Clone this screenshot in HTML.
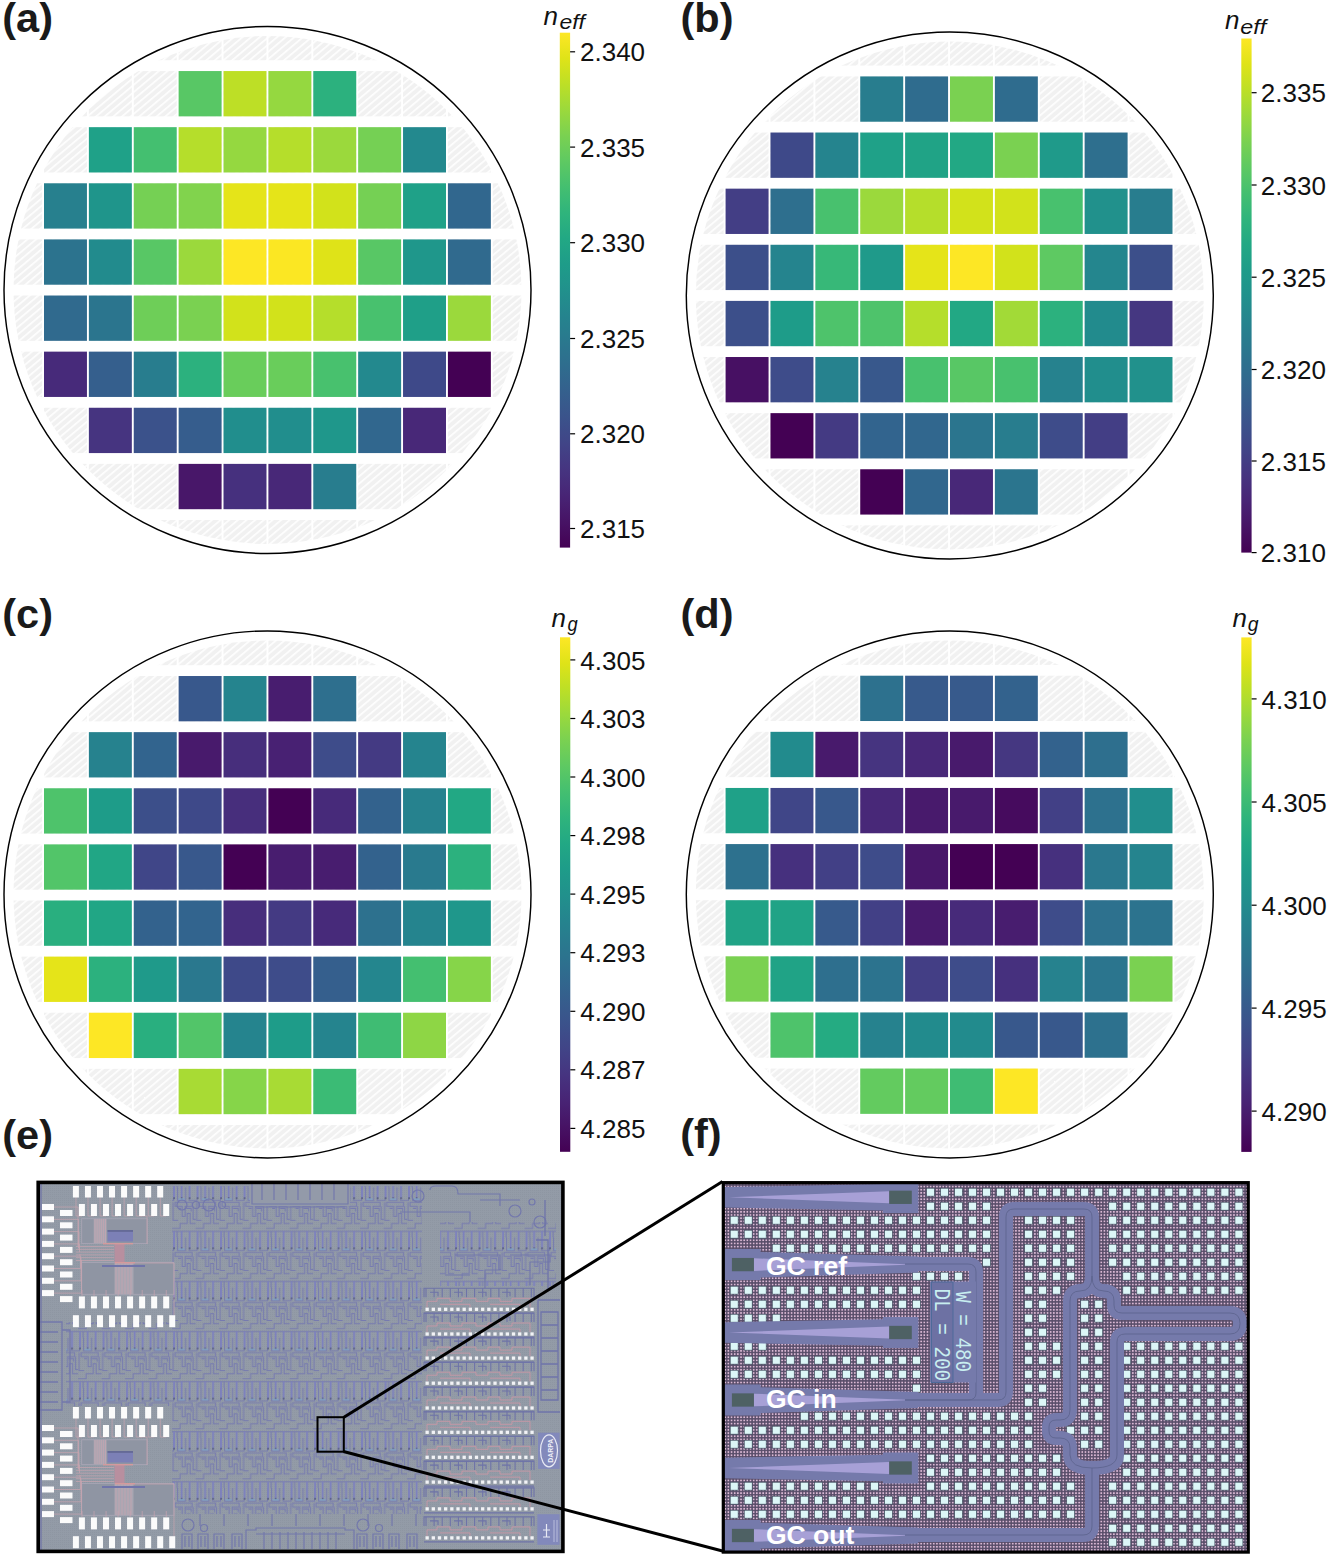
<!DOCTYPE html><html><head><meta charset="utf-8"><style>html,body{margin:0;padding:0;background:#fff;overflow:hidden}svg{display:block}text{font-family:"Liberation Sans",sans-serif}</style></head><body>
<svg width="1329" height="1557" viewBox="0 0 1329 1557">
<defs>
<pattern id="hatch" patternUnits="userSpaceOnUse" width="8" height="5.56" patternTransform="rotate(-40)"><rect width="8" height="5.56" fill="#f1f1f1"/><rect y="0" width="8" height="1.7" fill="#fefefe"/></pattern>
<linearGradient id="vgrad" x1="0" y1="0" x2="0" y2="1"><stop offset="0" stop-color="#fde725"/><stop offset="0.05" stop-color="#dfe318"/><stop offset="0.1" stop-color="#bddf26"/><stop offset="0.15" stop-color="#9bd93c"/><stop offset="0.2" stop-color="#7ad151"/><stop offset="0.25" stop-color="#5ec962"/><stop offset="0.3" stop-color="#44bf70"/><stop offset="0.35" stop-color="#2fb47c"/><stop offset="0.4" stop-color="#22a884"/><stop offset="0.45" stop-color="#1e9c89"/><stop offset="0.5" stop-color="#21918c"/><stop offset="0.55" stop-color="#25848e"/><stop offset="0.6" stop-color="#2a788e"/><stop offset="0.65" stop-color="#2f6c8e"/><stop offset="0.7" stop-color="#355f8d"/><stop offset="0.75" stop-color="#3b528b"/><stop offset="0.8" stop-color="#414487"/><stop offset="0.85" stop-color="#463480"/><stop offset="0.9" stop-color="#482475"/><stop offset="0.95" stop-color="#471365"/><stop offset="1" stop-color="#440154"/></linearGradient>
</defs>
<clipPath id="clipa"><circle cx="267.5" cy="290" r="254"/></clipPath>
<g clip-path="url(#clipa)">
<rect x="-0.88" y="14.93" width="42.95" height="45.3" fill="url(#hatch)"/>
<rect x="44" y="14.93" width="42.95" height="45.3" fill="url(#hatch)"/>
<rect x="88.88" y="14.93" width="42.95" height="45.3" fill="url(#hatch)"/>
<rect x="133.76" y="14.93" width="42.95" height="45.3" fill="url(#hatch)"/>
<rect x="178.64" y="14.93" width="42.95" height="45.3" fill="url(#hatch)"/>
<rect x="223.52" y="14.93" width="42.95" height="45.3" fill="url(#hatch)"/>
<rect x="268.4" y="14.93" width="42.95" height="45.3" fill="url(#hatch)"/>
<rect x="313.28" y="14.93" width="42.95" height="45.3" fill="url(#hatch)"/>
<rect x="358.16" y="14.93" width="42.95" height="45.3" fill="url(#hatch)"/>
<rect x="403.04" y="14.93" width="42.95" height="45.3" fill="url(#hatch)"/>
<rect x="447.92" y="14.93" width="42.95" height="45.3" fill="url(#hatch)"/>
<rect x="492.8" y="14.93" width="42.95" height="45.3" fill="url(#hatch)"/>
<rect x="-0.88" y="71.05" width="42.95" height="45.3" fill="url(#hatch)"/>
<rect x="44" y="71.05" width="42.95" height="45.3" fill="url(#hatch)"/>
<rect x="88.88" y="71.05" width="42.95" height="45.3" fill="url(#hatch)"/>
<rect x="133.76" y="71.05" width="42.95" height="45.3" fill="url(#hatch)"/>
<rect x="178.64" y="71.05" width="42.95" height="45.3" fill="url(#hatch)"/>
<rect x="223.52" y="71.05" width="42.95" height="45.3" fill="url(#hatch)"/>
<rect x="268.4" y="71.05" width="42.95" height="45.3" fill="url(#hatch)"/>
<rect x="313.28" y="71.05" width="42.95" height="45.3" fill="url(#hatch)"/>
<rect x="358.16" y="71.05" width="42.95" height="45.3" fill="url(#hatch)"/>
<rect x="403.04" y="71.05" width="42.95" height="45.3" fill="url(#hatch)"/>
<rect x="447.92" y="71.05" width="42.95" height="45.3" fill="url(#hatch)"/>
<rect x="492.8" y="71.05" width="42.95" height="45.3" fill="url(#hatch)"/>
<rect x="-0.88" y="127.17" width="42.95" height="45.3" fill="url(#hatch)"/>
<rect x="44" y="127.17" width="42.95" height="45.3" fill="url(#hatch)"/>
<rect x="88.88" y="127.17" width="42.95" height="45.3" fill="url(#hatch)"/>
<rect x="133.76" y="127.17" width="42.95" height="45.3" fill="url(#hatch)"/>
<rect x="178.64" y="127.17" width="42.95" height="45.3" fill="url(#hatch)"/>
<rect x="223.52" y="127.17" width="42.95" height="45.3" fill="url(#hatch)"/>
<rect x="268.4" y="127.17" width="42.95" height="45.3" fill="url(#hatch)"/>
<rect x="313.28" y="127.17" width="42.95" height="45.3" fill="url(#hatch)"/>
<rect x="358.16" y="127.17" width="42.95" height="45.3" fill="url(#hatch)"/>
<rect x="403.04" y="127.17" width="42.95" height="45.3" fill="url(#hatch)"/>
<rect x="447.92" y="127.17" width="42.95" height="45.3" fill="url(#hatch)"/>
<rect x="492.8" y="127.17" width="42.95" height="45.3" fill="url(#hatch)"/>
<rect x="-0.88" y="183.29" width="42.95" height="45.3" fill="url(#hatch)"/>
<rect x="44" y="183.29" width="42.95" height="45.3" fill="url(#hatch)"/>
<rect x="88.88" y="183.29" width="42.95" height="45.3" fill="url(#hatch)"/>
<rect x="133.76" y="183.29" width="42.95" height="45.3" fill="url(#hatch)"/>
<rect x="178.64" y="183.29" width="42.95" height="45.3" fill="url(#hatch)"/>
<rect x="223.52" y="183.29" width="42.95" height="45.3" fill="url(#hatch)"/>
<rect x="268.4" y="183.29" width="42.95" height="45.3" fill="url(#hatch)"/>
<rect x="313.28" y="183.29" width="42.95" height="45.3" fill="url(#hatch)"/>
<rect x="358.16" y="183.29" width="42.95" height="45.3" fill="url(#hatch)"/>
<rect x="403.04" y="183.29" width="42.95" height="45.3" fill="url(#hatch)"/>
<rect x="447.92" y="183.29" width="42.95" height="45.3" fill="url(#hatch)"/>
<rect x="492.8" y="183.29" width="42.95" height="45.3" fill="url(#hatch)"/>
<rect x="-0.88" y="239.41" width="42.95" height="45.3" fill="url(#hatch)"/>
<rect x="44" y="239.41" width="42.95" height="45.3" fill="url(#hatch)"/>
<rect x="88.88" y="239.41" width="42.95" height="45.3" fill="url(#hatch)"/>
<rect x="133.76" y="239.41" width="42.95" height="45.3" fill="url(#hatch)"/>
<rect x="178.64" y="239.41" width="42.95" height="45.3" fill="url(#hatch)"/>
<rect x="223.52" y="239.41" width="42.95" height="45.3" fill="url(#hatch)"/>
<rect x="268.4" y="239.41" width="42.95" height="45.3" fill="url(#hatch)"/>
<rect x="313.28" y="239.41" width="42.95" height="45.3" fill="url(#hatch)"/>
<rect x="358.16" y="239.41" width="42.95" height="45.3" fill="url(#hatch)"/>
<rect x="403.04" y="239.41" width="42.95" height="45.3" fill="url(#hatch)"/>
<rect x="447.92" y="239.41" width="42.95" height="45.3" fill="url(#hatch)"/>
<rect x="492.8" y="239.41" width="42.95" height="45.3" fill="url(#hatch)"/>
<rect x="-0.88" y="295.53" width="42.95" height="45.3" fill="url(#hatch)"/>
<rect x="44" y="295.53" width="42.95" height="45.3" fill="url(#hatch)"/>
<rect x="88.88" y="295.53" width="42.95" height="45.3" fill="url(#hatch)"/>
<rect x="133.76" y="295.53" width="42.95" height="45.3" fill="url(#hatch)"/>
<rect x="178.64" y="295.53" width="42.95" height="45.3" fill="url(#hatch)"/>
<rect x="223.52" y="295.53" width="42.95" height="45.3" fill="url(#hatch)"/>
<rect x="268.4" y="295.53" width="42.95" height="45.3" fill="url(#hatch)"/>
<rect x="313.28" y="295.53" width="42.95" height="45.3" fill="url(#hatch)"/>
<rect x="358.16" y="295.53" width="42.95" height="45.3" fill="url(#hatch)"/>
<rect x="403.04" y="295.53" width="42.95" height="45.3" fill="url(#hatch)"/>
<rect x="447.92" y="295.53" width="42.95" height="45.3" fill="url(#hatch)"/>
<rect x="492.8" y="295.53" width="42.95" height="45.3" fill="url(#hatch)"/>
<rect x="-0.88" y="351.65" width="42.95" height="45.3" fill="url(#hatch)"/>
<rect x="44" y="351.65" width="42.95" height="45.3" fill="url(#hatch)"/>
<rect x="88.88" y="351.65" width="42.95" height="45.3" fill="url(#hatch)"/>
<rect x="133.76" y="351.65" width="42.95" height="45.3" fill="url(#hatch)"/>
<rect x="178.64" y="351.65" width="42.95" height="45.3" fill="url(#hatch)"/>
<rect x="223.52" y="351.65" width="42.95" height="45.3" fill="url(#hatch)"/>
<rect x="268.4" y="351.65" width="42.95" height="45.3" fill="url(#hatch)"/>
<rect x="313.28" y="351.65" width="42.95" height="45.3" fill="url(#hatch)"/>
<rect x="358.16" y="351.65" width="42.95" height="45.3" fill="url(#hatch)"/>
<rect x="403.04" y="351.65" width="42.95" height="45.3" fill="url(#hatch)"/>
<rect x="447.92" y="351.65" width="42.95" height="45.3" fill="url(#hatch)"/>
<rect x="492.8" y="351.65" width="42.95" height="45.3" fill="url(#hatch)"/>
<rect x="-0.88" y="407.77" width="42.95" height="45.3" fill="url(#hatch)"/>
<rect x="44" y="407.77" width="42.95" height="45.3" fill="url(#hatch)"/>
<rect x="88.88" y="407.77" width="42.95" height="45.3" fill="url(#hatch)"/>
<rect x="133.76" y="407.77" width="42.95" height="45.3" fill="url(#hatch)"/>
<rect x="178.64" y="407.77" width="42.95" height="45.3" fill="url(#hatch)"/>
<rect x="223.52" y="407.77" width="42.95" height="45.3" fill="url(#hatch)"/>
<rect x="268.4" y="407.77" width="42.95" height="45.3" fill="url(#hatch)"/>
<rect x="313.28" y="407.77" width="42.95" height="45.3" fill="url(#hatch)"/>
<rect x="358.16" y="407.77" width="42.95" height="45.3" fill="url(#hatch)"/>
<rect x="403.04" y="407.77" width="42.95" height="45.3" fill="url(#hatch)"/>
<rect x="447.92" y="407.77" width="42.95" height="45.3" fill="url(#hatch)"/>
<rect x="492.8" y="407.77" width="42.95" height="45.3" fill="url(#hatch)"/>
<rect x="-0.88" y="463.89" width="42.95" height="45.3" fill="url(#hatch)"/>
<rect x="44" y="463.89" width="42.95" height="45.3" fill="url(#hatch)"/>
<rect x="88.88" y="463.89" width="42.95" height="45.3" fill="url(#hatch)"/>
<rect x="133.76" y="463.89" width="42.95" height="45.3" fill="url(#hatch)"/>
<rect x="178.64" y="463.89" width="42.95" height="45.3" fill="url(#hatch)"/>
<rect x="223.52" y="463.89" width="42.95" height="45.3" fill="url(#hatch)"/>
<rect x="268.4" y="463.89" width="42.95" height="45.3" fill="url(#hatch)"/>
<rect x="313.28" y="463.89" width="42.95" height="45.3" fill="url(#hatch)"/>
<rect x="358.16" y="463.89" width="42.95" height="45.3" fill="url(#hatch)"/>
<rect x="403.04" y="463.89" width="42.95" height="45.3" fill="url(#hatch)"/>
<rect x="447.92" y="463.89" width="42.95" height="45.3" fill="url(#hatch)"/>
<rect x="492.8" y="463.89" width="42.95" height="45.3" fill="url(#hatch)"/>
<rect x="-0.88" y="520.01" width="42.95" height="45.3" fill="url(#hatch)"/>
<rect x="44" y="520.01" width="42.95" height="45.3" fill="url(#hatch)"/>
<rect x="88.88" y="520.01" width="42.95" height="45.3" fill="url(#hatch)"/>
<rect x="133.76" y="520.01" width="42.95" height="45.3" fill="url(#hatch)"/>
<rect x="178.64" y="520.01" width="42.95" height="45.3" fill="url(#hatch)"/>
<rect x="223.52" y="520.01" width="42.95" height="45.3" fill="url(#hatch)"/>
<rect x="268.4" y="520.01" width="42.95" height="45.3" fill="url(#hatch)"/>
<rect x="313.28" y="520.01" width="42.95" height="45.3" fill="url(#hatch)"/>
<rect x="358.16" y="520.01" width="42.95" height="45.3" fill="url(#hatch)"/>
<rect x="403.04" y="520.01" width="42.95" height="45.3" fill="url(#hatch)"/>
<rect x="447.92" y="520.01" width="42.95" height="45.3" fill="url(#hatch)"/>
<rect x="492.8" y="520.01" width="42.95" height="45.3" fill="url(#hatch)"/>
</g>
<rect x="178.64" y="71.05" width="42.95" height="45.3" fill="#58c765"/>
<rect x="223.52" y="71.05" width="42.95" height="45.3" fill="#bddf26"/>
<rect x="268.4" y="71.05" width="42.95" height="45.3" fill="#95d840"/>
<rect x="313.28" y="71.05" width="42.95" height="45.3" fill="#2cb17e"/>
<rect x="88.88" y="127.17" width="42.95" height="45.3" fill="#1fa188"/>
<rect x="133.76" y="127.17" width="42.95" height="45.3" fill="#44bf70"/>
<rect x="178.64" y="127.17" width="42.95" height="45.3" fill="#b5de2b"/>
<rect x="223.52" y="127.17" width="42.95" height="45.3" fill="#95d840"/>
<rect x="268.4" y="127.17" width="42.95" height="45.3" fill="#b5de2b"/>
<rect x="313.28" y="127.17" width="42.95" height="45.3" fill="#9bd93c"/>
<rect x="358.16" y="127.17" width="42.95" height="45.3" fill="#75d054"/>
<rect x="403.04" y="127.17" width="42.95" height="45.3" fill="#23898e"/>
<rect x="44" y="183.29" width="42.95" height="45.3" fill="#27808e"/>
<rect x="88.88" y="183.29" width="42.95" height="45.3" fill="#1f958b"/>
<rect x="133.76" y="183.29" width="42.95" height="45.3" fill="#75d054"/>
<rect x="178.64" y="183.29" width="42.95" height="45.3" fill="#81d34d"/>
<rect x="223.52" y="183.29" width="42.95" height="45.3" fill="#e5e419"/>
<rect x="268.4" y="183.29" width="42.95" height="45.3" fill="#e5e419"/>
<rect x="313.28" y="183.29" width="42.95" height="45.3" fill="#d2e21b"/>
<rect x="358.16" y="183.29" width="42.95" height="45.3" fill="#75d054"/>
<rect x="403.04" y="183.29" width="42.95" height="45.3" fill="#1fa188"/>
<rect x="447.92" y="183.29" width="42.95" height="45.3" fill="#31678e"/>
<rect x="44" y="239.41" width="42.95" height="45.3" fill="#2c738e"/>
<rect x="88.88" y="239.41" width="42.95" height="45.3" fill="#228b8d"/>
<rect x="133.76" y="239.41" width="42.95" height="45.3" fill="#58c765"/>
<rect x="178.64" y="239.41" width="42.95" height="45.3" fill="#9bd93c"/>
<rect x="223.52" y="239.41" width="42.95" height="45.3" fill="#fde725"/>
<rect x="268.4" y="239.41" width="42.95" height="45.3" fill="#fbe723"/>
<rect x="313.28" y="239.41" width="42.95" height="45.3" fill="#dfe318"/>
<rect x="358.16" y="239.41" width="42.95" height="45.3" fill="#58c765"/>
<rect x="403.04" y="239.41" width="42.95" height="45.3" fill="#1f978b"/>
<rect x="447.92" y="239.41" width="42.95" height="45.3" fill="#306a8e"/>
<rect x="44" y="295.53" width="42.95" height="45.3" fill="#306a8e"/>
<rect x="88.88" y="295.53" width="42.95" height="45.3" fill="#2b758e"/>
<rect x="133.76" y="295.53" width="42.95" height="45.3" fill="#6ece58"/>
<rect x="178.64" y="295.53" width="42.95" height="45.3" fill="#7ad151"/>
<rect x="223.52" y="295.53" width="42.95" height="45.3" fill="#d2e21b"/>
<rect x="268.4" y="295.53" width="42.95" height="45.3" fill="#d2e21b"/>
<rect x="313.28" y="295.53" width="42.95" height="45.3" fill="#b5de2b"/>
<rect x="358.16" y="295.53" width="42.95" height="45.3" fill="#48c16e"/>
<rect x="403.04" y="295.53" width="42.95" height="45.3" fill="#1f9f88"/>
<rect x="447.92" y="295.53" width="42.95" height="45.3" fill="#9bd93c"/>
<rect x="44" y="351.65" width="42.95" height="45.3" fill="#472a7a"/>
<rect x="88.88" y="351.65" width="42.95" height="45.3" fill="#355f8d"/>
<rect x="133.76" y="351.65" width="42.95" height="45.3" fill="#287d8e"/>
<rect x="178.64" y="351.65" width="42.95" height="45.3" fill="#2cb17e"/>
<rect x="223.52" y="351.65" width="42.95" height="45.3" fill="#69cd5b"/>
<rect x="268.4" y="351.65" width="42.95" height="45.3" fill="#69cd5b"/>
<rect x="313.28" y="351.65" width="42.95" height="45.3" fill="#48c16e"/>
<rect x="358.16" y="351.65" width="42.95" height="45.3" fill="#23898e"/>
<rect x="403.04" y="351.65" width="42.95" height="45.3" fill="#3e4989"/>
<rect x="447.92" y="351.65" width="42.95" height="45.3" fill="#440154"/>
<rect x="88.88" y="407.77" width="42.95" height="45.3" fill="#463480"/>
<rect x="133.76" y="407.77" width="42.95" height="45.3" fill="#3b528b"/>
<rect x="178.64" y="407.77" width="42.95" height="45.3" fill="#365d8d"/>
<rect x="223.52" y="407.77" width="42.95" height="45.3" fill="#218e8d"/>
<rect x="268.4" y="407.77" width="42.95" height="45.3" fill="#218e8d"/>
<rect x="313.28" y="407.77" width="42.95" height="45.3" fill="#1f978b"/>
<rect x="358.16" y="407.77" width="42.95" height="45.3" fill="#31678e"/>
<rect x="403.04" y="407.77" width="42.95" height="45.3" fill="#482878"/>
<rect x="178.64" y="463.89" width="42.95" height="45.3" fill="#481769"/>
<rect x="223.52" y="463.89" width="42.95" height="45.3" fill="#46307e"/>
<rect x="268.4" y="463.89" width="42.95" height="45.3" fill="#482878"/>
<rect x="313.28" y="463.89" width="42.95" height="45.3" fill="#287d8e"/>
<circle cx="267.5" cy="290" r="263.5" fill="none" stroke="#000" stroke-width="1.45"/>
<clipPath id="clipb"><circle cx="949.8" cy="295.5" r="254"/></clipPath>
<g clip-path="url(#clipb)">
<rect x="680.72" y="20.3" width="42.95" height="45.3" fill="url(#hatch)"/>
<rect x="725.6" y="20.3" width="42.95" height="45.3" fill="url(#hatch)"/>
<rect x="770.48" y="20.3" width="42.95" height="45.3" fill="url(#hatch)"/>
<rect x="815.36" y="20.3" width="42.95" height="45.3" fill="url(#hatch)"/>
<rect x="860.24" y="20.3" width="42.95" height="45.3" fill="url(#hatch)"/>
<rect x="905.12" y="20.3" width="42.95" height="45.3" fill="url(#hatch)"/>
<rect x="950" y="20.3" width="42.95" height="45.3" fill="url(#hatch)"/>
<rect x="994.88" y="20.3" width="42.95" height="45.3" fill="url(#hatch)"/>
<rect x="1039.76" y="20.3" width="42.95" height="45.3" fill="url(#hatch)"/>
<rect x="1084.64" y="20.3" width="42.95" height="45.3" fill="url(#hatch)"/>
<rect x="1129.52" y="20.3" width="42.95" height="45.3" fill="url(#hatch)"/>
<rect x="1174.4" y="20.3" width="42.95" height="45.3" fill="url(#hatch)"/>
<rect x="680.72" y="76.42" width="42.95" height="45.3" fill="url(#hatch)"/>
<rect x="725.6" y="76.42" width="42.95" height="45.3" fill="url(#hatch)"/>
<rect x="770.48" y="76.42" width="42.95" height="45.3" fill="url(#hatch)"/>
<rect x="815.36" y="76.42" width="42.95" height="45.3" fill="url(#hatch)"/>
<rect x="860.24" y="76.42" width="42.95" height="45.3" fill="url(#hatch)"/>
<rect x="905.12" y="76.42" width="42.95" height="45.3" fill="url(#hatch)"/>
<rect x="950" y="76.42" width="42.95" height="45.3" fill="url(#hatch)"/>
<rect x="994.88" y="76.42" width="42.95" height="45.3" fill="url(#hatch)"/>
<rect x="1039.76" y="76.42" width="42.95" height="45.3" fill="url(#hatch)"/>
<rect x="1084.64" y="76.42" width="42.95" height="45.3" fill="url(#hatch)"/>
<rect x="1129.52" y="76.42" width="42.95" height="45.3" fill="url(#hatch)"/>
<rect x="1174.4" y="76.42" width="42.95" height="45.3" fill="url(#hatch)"/>
<rect x="680.72" y="132.54" width="42.95" height="45.3" fill="url(#hatch)"/>
<rect x="725.6" y="132.54" width="42.95" height="45.3" fill="url(#hatch)"/>
<rect x="770.48" y="132.54" width="42.95" height="45.3" fill="url(#hatch)"/>
<rect x="815.36" y="132.54" width="42.95" height="45.3" fill="url(#hatch)"/>
<rect x="860.24" y="132.54" width="42.95" height="45.3" fill="url(#hatch)"/>
<rect x="905.12" y="132.54" width="42.95" height="45.3" fill="url(#hatch)"/>
<rect x="950" y="132.54" width="42.95" height="45.3" fill="url(#hatch)"/>
<rect x="994.88" y="132.54" width="42.95" height="45.3" fill="url(#hatch)"/>
<rect x="1039.76" y="132.54" width="42.95" height="45.3" fill="url(#hatch)"/>
<rect x="1084.64" y="132.54" width="42.95" height="45.3" fill="url(#hatch)"/>
<rect x="1129.52" y="132.54" width="42.95" height="45.3" fill="url(#hatch)"/>
<rect x="1174.4" y="132.54" width="42.95" height="45.3" fill="url(#hatch)"/>
<rect x="680.72" y="188.66" width="42.95" height="45.3" fill="url(#hatch)"/>
<rect x="725.6" y="188.66" width="42.95" height="45.3" fill="url(#hatch)"/>
<rect x="770.48" y="188.66" width="42.95" height="45.3" fill="url(#hatch)"/>
<rect x="815.36" y="188.66" width="42.95" height="45.3" fill="url(#hatch)"/>
<rect x="860.24" y="188.66" width="42.95" height="45.3" fill="url(#hatch)"/>
<rect x="905.12" y="188.66" width="42.95" height="45.3" fill="url(#hatch)"/>
<rect x="950" y="188.66" width="42.95" height="45.3" fill="url(#hatch)"/>
<rect x="994.88" y="188.66" width="42.95" height="45.3" fill="url(#hatch)"/>
<rect x="1039.76" y="188.66" width="42.95" height="45.3" fill="url(#hatch)"/>
<rect x="1084.64" y="188.66" width="42.95" height="45.3" fill="url(#hatch)"/>
<rect x="1129.52" y="188.66" width="42.95" height="45.3" fill="url(#hatch)"/>
<rect x="1174.4" y="188.66" width="42.95" height="45.3" fill="url(#hatch)"/>
<rect x="680.72" y="244.78" width="42.95" height="45.3" fill="url(#hatch)"/>
<rect x="725.6" y="244.78" width="42.95" height="45.3" fill="url(#hatch)"/>
<rect x="770.48" y="244.78" width="42.95" height="45.3" fill="url(#hatch)"/>
<rect x="815.36" y="244.78" width="42.95" height="45.3" fill="url(#hatch)"/>
<rect x="860.24" y="244.78" width="42.95" height="45.3" fill="url(#hatch)"/>
<rect x="905.12" y="244.78" width="42.95" height="45.3" fill="url(#hatch)"/>
<rect x="950" y="244.78" width="42.95" height="45.3" fill="url(#hatch)"/>
<rect x="994.88" y="244.78" width="42.95" height="45.3" fill="url(#hatch)"/>
<rect x="1039.76" y="244.78" width="42.95" height="45.3" fill="url(#hatch)"/>
<rect x="1084.64" y="244.78" width="42.95" height="45.3" fill="url(#hatch)"/>
<rect x="1129.52" y="244.78" width="42.95" height="45.3" fill="url(#hatch)"/>
<rect x="1174.4" y="244.78" width="42.95" height="45.3" fill="url(#hatch)"/>
<rect x="680.72" y="300.9" width="42.95" height="45.3" fill="url(#hatch)"/>
<rect x="725.6" y="300.9" width="42.95" height="45.3" fill="url(#hatch)"/>
<rect x="770.48" y="300.9" width="42.95" height="45.3" fill="url(#hatch)"/>
<rect x="815.36" y="300.9" width="42.95" height="45.3" fill="url(#hatch)"/>
<rect x="860.24" y="300.9" width="42.95" height="45.3" fill="url(#hatch)"/>
<rect x="905.12" y="300.9" width="42.95" height="45.3" fill="url(#hatch)"/>
<rect x="950" y="300.9" width="42.95" height="45.3" fill="url(#hatch)"/>
<rect x="994.88" y="300.9" width="42.95" height="45.3" fill="url(#hatch)"/>
<rect x="1039.76" y="300.9" width="42.95" height="45.3" fill="url(#hatch)"/>
<rect x="1084.64" y="300.9" width="42.95" height="45.3" fill="url(#hatch)"/>
<rect x="1129.52" y="300.9" width="42.95" height="45.3" fill="url(#hatch)"/>
<rect x="1174.4" y="300.9" width="42.95" height="45.3" fill="url(#hatch)"/>
<rect x="680.72" y="357.02" width="42.95" height="45.3" fill="url(#hatch)"/>
<rect x="725.6" y="357.02" width="42.95" height="45.3" fill="url(#hatch)"/>
<rect x="770.48" y="357.02" width="42.95" height="45.3" fill="url(#hatch)"/>
<rect x="815.36" y="357.02" width="42.95" height="45.3" fill="url(#hatch)"/>
<rect x="860.24" y="357.02" width="42.95" height="45.3" fill="url(#hatch)"/>
<rect x="905.12" y="357.02" width="42.95" height="45.3" fill="url(#hatch)"/>
<rect x="950" y="357.02" width="42.95" height="45.3" fill="url(#hatch)"/>
<rect x="994.88" y="357.02" width="42.95" height="45.3" fill="url(#hatch)"/>
<rect x="1039.76" y="357.02" width="42.95" height="45.3" fill="url(#hatch)"/>
<rect x="1084.64" y="357.02" width="42.95" height="45.3" fill="url(#hatch)"/>
<rect x="1129.52" y="357.02" width="42.95" height="45.3" fill="url(#hatch)"/>
<rect x="1174.4" y="357.02" width="42.95" height="45.3" fill="url(#hatch)"/>
<rect x="680.72" y="413.14" width="42.95" height="45.3" fill="url(#hatch)"/>
<rect x="725.6" y="413.14" width="42.95" height="45.3" fill="url(#hatch)"/>
<rect x="770.48" y="413.14" width="42.95" height="45.3" fill="url(#hatch)"/>
<rect x="815.36" y="413.14" width="42.95" height="45.3" fill="url(#hatch)"/>
<rect x="860.24" y="413.14" width="42.95" height="45.3" fill="url(#hatch)"/>
<rect x="905.12" y="413.14" width="42.95" height="45.3" fill="url(#hatch)"/>
<rect x="950" y="413.14" width="42.95" height="45.3" fill="url(#hatch)"/>
<rect x="994.88" y="413.14" width="42.95" height="45.3" fill="url(#hatch)"/>
<rect x="1039.76" y="413.14" width="42.95" height="45.3" fill="url(#hatch)"/>
<rect x="1084.64" y="413.14" width="42.95" height="45.3" fill="url(#hatch)"/>
<rect x="1129.52" y="413.14" width="42.95" height="45.3" fill="url(#hatch)"/>
<rect x="1174.4" y="413.14" width="42.95" height="45.3" fill="url(#hatch)"/>
<rect x="680.72" y="469.26" width="42.95" height="45.3" fill="url(#hatch)"/>
<rect x="725.6" y="469.26" width="42.95" height="45.3" fill="url(#hatch)"/>
<rect x="770.48" y="469.26" width="42.95" height="45.3" fill="url(#hatch)"/>
<rect x="815.36" y="469.26" width="42.95" height="45.3" fill="url(#hatch)"/>
<rect x="860.24" y="469.26" width="42.95" height="45.3" fill="url(#hatch)"/>
<rect x="905.12" y="469.26" width="42.95" height="45.3" fill="url(#hatch)"/>
<rect x="950" y="469.26" width="42.95" height="45.3" fill="url(#hatch)"/>
<rect x="994.88" y="469.26" width="42.95" height="45.3" fill="url(#hatch)"/>
<rect x="1039.76" y="469.26" width="42.95" height="45.3" fill="url(#hatch)"/>
<rect x="1084.64" y="469.26" width="42.95" height="45.3" fill="url(#hatch)"/>
<rect x="1129.52" y="469.26" width="42.95" height="45.3" fill="url(#hatch)"/>
<rect x="1174.4" y="469.26" width="42.95" height="45.3" fill="url(#hatch)"/>
<rect x="680.72" y="525.38" width="42.95" height="45.3" fill="url(#hatch)"/>
<rect x="725.6" y="525.38" width="42.95" height="45.3" fill="url(#hatch)"/>
<rect x="770.48" y="525.38" width="42.95" height="45.3" fill="url(#hatch)"/>
<rect x="815.36" y="525.38" width="42.95" height="45.3" fill="url(#hatch)"/>
<rect x="860.24" y="525.38" width="42.95" height="45.3" fill="url(#hatch)"/>
<rect x="905.12" y="525.38" width="42.95" height="45.3" fill="url(#hatch)"/>
<rect x="950" y="525.38" width="42.95" height="45.3" fill="url(#hatch)"/>
<rect x="994.88" y="525.38" width="42.95" height="45.3" fill="url(#hatch)"/>
<rect x="1039.76" y="525.38" width="42.95" height="45.3" fill="url(#hatch)"/>
<rect x="1084.64" y="525.38" width="42.95" height="45.3" fill="url(#hatch)"/>
<rect x="1129.52" y="525.38" width="42.95" height="45.3" fill="url(#hatch)"/>
<rect x="1174.4" y="525.38" width="42.95" height="45.3" fill="url(#hatch)"/>
</g>
<rect x="860.24" y="76.42" width="42.95" height="45.3" fill="#287d8e"/>
<rect x="905.12" y="76.42" width="42.95" height="45.3" fill="#2f6c8e"/>
<rect x="950" y="76.42" width="42.95" height="45.3" fill="#7ad151"/>
<rect x="994.88" y="76.42" width="42.95" height="45.3" fill="#2f6c8e"/>
<rect x="770.48" y="132.54" width="42.95" height="45.3" fill="#3e4989"/>
<rect x="815.36" y="132.54" width="42.95" height="45.3" fill="#25848e"/>
<rect x="860.24" y="132.54" width="42.95" height="45.3" fill="#1fa188"/>
<rect x="905.12" y="132.54" width="42.95" height="45.3" fill="#20a386"/>
<rect x="950" y="132.54" width="42.95" height="45.3" fill="#22a884"/>
<rect x="994.88" y="132.54" width="42.95" height="45.3" fill="#7ad151"/>
<rect x="1039.76" y="132.54" width="42.95" height="45.3" fill="#1f9a8a"/>
<rect x="1084.64" y="132.54" width="42.95" height="45.3" fill="#2e6f8e"/>
<rect x="725.6" y="188.66" width="42.95" height="45.3" fill="#433e85"/>
<rect x="770.48" y="188.66" width="42.95" height="45.3" fill="#2e6f8e"/>
<rect x="815.36" y="188.66" width="42.95" height="45.3" fill="#48c16e"/>
<rect x="860.24" y="188.66" width="42.95" height="45.3" fill="#9bd93c"/>
<rect x="905.12" y="188.66" width="42.95" height="45.3" fill="#b5de2b"/>
<rect x="950" y="188.66" width="42.95" height="45.3" fill="#d2e21b"/>
<rect x="994.88" y="188.66" width="42.95" height="45.3" fill="#d2e21b"/>
<rect x="1039.76" y="188.66" width="42.95" height="45.3" fill="#48c16e"/>
<rect x="1084.64" y="188.66" width="42.95" height="45.3" fill="#21918c"/>
<rect x="1129.52" y="188.66" width="42.95" height="45.3" fill="#287d8e"/>
<rect x="725.6" y="244.78" width="42.95" height="45.3" fill="#3c4f8a"/>
<rect x="770.48" y="244.78" width="42.95" height="45.3" fill="#25848e"/>
<rect x="815.36" y="244.78" width="42.95" height="45.3" fill="#37b878"/>
<rect x="860.24" y="244.78" width="42.95" height="45.3" fill="#1f9a8a"/>
<rect x="905.12" y="244.78" width="42.95" height="45.3" fill="#e5e419"/>
<rect x="950" y="244.78" width="42.95" height="45.3" fill="#fde725"/>
<rect x="994.88" y="244.78" width="42.95" height="45.3" fill="#d2e21b"/>
<rect x="1039.76" y="244.78" width="42.95" height="45.3" fill="#5ec962"/>
<rect x="1084.64" y="244.78" width="42.95" height="45.3" fill="#24868e"/>
<rect x="1129.52" y="244.78" width="42.95" height="45.3" fill="#3c4f8a"/>
<rect x="725.6" y="300.9" width="42.95" height="45.3" fill="#3c4f8a"/>
<rect x="770.48" y="300.9" width="42.95" height="45.3" fill="#1e9c89"/>
<rect x="815.36" y="300.9" width="42.95" height="45.3" fill="#4ec36b"/>
<rect x="860.24" y="300.9" width="42.95" height="45.3" fill="#4ec36b"/>
<rect x="905.12" y="300.9" width="42.95" height="45.3" fill="#b5de2b"/>
<rect x="950" y="300.9" width="42.95" height="45.3" fill="#22a884"/>
<rect x="994.88" y="300.9" width="42.95" height="45.3" fill="#a2da37"/>
<rect x="1039.76" y="300.9" width="42.95" height="45.3" fill="#2cb17e"/>
<rect x="1084.64" y="300.9" width="42.95" height="45.3" fill="#228b8d"/>
<rect x="1129.52" y="300.9" width="42.95" height="45.3" fill="#453781"/>
<rect x="725.6" y="357.02" width="42.95" height="45.3" fill="#471063"/>
<rect x="770.48" y="357.02" width="42.95" height="45.3" fill="#3e4c8a"/>
<rect x="815.36" y="357.02" width="42.95" height="45.3" fill="#26828e"/>
<rect x="860.24" y="357.02" width="42.95" height="45.3" fill="#38588c"/>
<rect x="905.12" y="357.02" width="42.95" height="45.3" fill="#48c16e"/>
<rect x="950" y="357.02" width="42.95" height="45.3" fill="#58c765"/>
<rect x="994.88" y="357.02" width="42.95" height="45.3" fill="#48c16e"/>
<rect x="1039.76" y="357.02" width="42.95" height="45.3" fill="#26828e"/>
<rect x="1084.64" y="357.02" width="42.95" height="45.3" fill="#218e8d"/>
<rect x="1129.52" y="357.02" width="42.95" height="45.3" fill="#21918c"/>
<rect x="770.48" y="413.14" width="42.95" height="45.3" fill="#440154"/>
<rect x="815.36" y="413.14" width="42.95" height="45.3" fill="#443a83"/>
<rect x="860.24" y="413.14" width="42.95" height="45.3" fill="#32648e"/>
<rect x="905.12" y="413.14" width="42.95" height="45.3" fill="#31678e"/>
<rect x="950" y="413.14" width="42.95" height="45.3" fill="#2b758e"/>
<rect x="994.88" y="413.14" width="42.95" height="45.3" fill="#287d8e"/>
<rect x="1039.76" y="413.14" width="42.95" height="45.3" fill="#3e4c8a"/>
<rect x="1084.64" y="413.14" width="42.95" height="45.3" fill="#433e85"/>
<rect x="860.24" y="469.26" width="42.95" height="45.3" fill="#440154"/>
<rect x="905.12" y="469.26" width="42.95" height="45.3" fill="#31678e"/>
<rect x="950" y="469.26" width="42.95" height="45.3" fill="#482878"/>
<rect x="994.88" y="469.26" width="42.95" height="45.3" fill="#2b758e"/>
<circle cx="949.8" cy="295.5" r="263.5" fill="none" stroke="#000" stroke-width="1.45"/>
<clipPath id="clipc"><circle cx="267.5" cy="894.4" r="254"/></clipPath>
<g clip-path="url(#clipc)">
<rect x="-0.88" y="619.9" width="42.95" height="45.3" fill="url(#hatch)"/>
<rect x="44" y="619.9" width="42.95" height="45.3" fill="url(#hatch)"/>
<rect x="88.88" y="619.9" width="42.95" height="45.3" fill="url(#hatch)"/>
<rect x="133.76" y="619.9" width="42.95" height="45.3" fill="url(#hatch)"/>
<rect x="178.64" y="619.9" width="42.95" height="45.3" fill="url(#hatch)"/>
<rect x="223.52" y="619.9" width="42.95" height="45.3" fill="url(#hatch)"/>
<rect x="268.4" y="619.9" width="42.95" height="45.3" fill="url(#hatch)"/>
<rect x="313.28" y="619.9" width="42.95" height="45.3" fill="url(#hatch)"/>
<rect x="358.16" y="619.9" width="42.95" height="45.3" fill="url(#hatch)"/>
<rect x="403.04" y="619.9" width="42.95" height="45.3" fill="url(#hatch)"/>
<rect x="447.92" y="619.9" width="42.95" height="45.3" fill="url(#hatch)"/>
<rect x="492.8" y="619.9" width="42.95" height="45.3" fill="url(#hatch)"/>
<rect x="-0.88" y="676.02" width="42.95" height="45.3" fill="url(#hatch)"/>
<rect x="44" y="676.02" width="42.95" height="45.3" fill="url(#hatch)"/>
<rect x="88.88" y="676.02" width="42.95" height="45.3" fill="url(#hatch)"/>
<rect x="133.76" y="676.02" width="42.95" height="45.3" fill="url(#hatch)"/>
<rect x="178.64" y="676.02" width="42.95" height="45.3" fill="url(#hatch)"/>
<rect x="223.52" y="676.02" width="42.95" height="45.3" fill="url(#hatch)"/>
<rect x="268.4" y="676.02" width="42.95" height="45.3" fill="url(#hatch)"/>
<rect x="313.28" y="676.02" width="42.95" height="45.3" fill="url(#hatch)"/>
<rect x="358.16" y="676.02" width="42.95" height="45.3" fill="url(#hatch)"/>
<rect x="403.04" y="676.02" width="42.95" height="45.3" fill="url(#hatch)"/>
<rect x="447.92" y="676.02" width="42.95" height="45.3" fill="url(#hatch)"/>
<rect x="492.8" y="676.02" width="42.95" height="45.3" fill="url(#hatch)"/>
<rect x="-0.88" y="732.14" width="42.95" height="45.3" fill="url(#hatch)"/>
<rect x="44" y="732.14" width="42.95" height="45.3" fill="url(#hatch)"/>
<rect x="88.88" y="732.14" width="42.95" height="45.3" fill="url(#hatch)"/>
<rect x="133.76" y="732.14" width="42.95" height="45.3" fill="url(#hatch)"/>
<rect x="178.64" y="732.14" width="42.95" height="45.3" fill="url(#hatch)"/>
<rect x="223.52" y="732.14" width="42.95" height="45.3" fill="url(#hatch)"/>
<rect x="268.4" y="732.14" width="42.95" height="45.3" fill="url(#hatch)"/>
<rect x="313.28" y="732.14" width="42.95" height="45.3" fill="url(#hatch)"/>
<rect x="358.16" y="732.14" width="42.95" height="45.3" fill="url(#hatch)"/>
<rect x="403.04" y="732.14" width="42.95" height="45.3" fill="url(#hatch)"/>
<rect x="447.92" y="732.14" width="42.95" height="45.3" fill="url(#hatch)"/>
<rect x="492.8" y="732.14" width="42.95" height="45.3" fill="url(#hatch)"/>
<rect x="-0.88" y="788.26" width="42.95" height="45.3" fill="url(#hatch)"/>
<rect x="44" y="788.26" width="42.95" height="45.3" fill="url(#hatch)"/>
<rect x="88.88" y="788.26" width="42.95" height="45.3" fill="url(#hatch)"/>
<rect x="133.76" y="788.26" width="42.95" height="45.3" fill="url(#hatch)"/>
<rect x="178.64" y="788.26" width="42.95" height="45.3" fill="url(#hatch)"/>
<rect x="223.52" y="788.26" width="42.95" height="45.3" fill="url(#hatch)"/>
<rect x="268.4" y="788.26" width="42.95" height="45.3" fill="url(#hatch)"/>
<rect x="313.28" y="788.26" width="42.95" height="45.3" fill="url(#hatch)"/>
<rect x="358.16" y="788.26" width="42.95" height="45.3" fill="url(#hatch)"/>
<rect x="403.04" y="788.26" width="42.95" height="45.3" fill="url(#hatch)"/>
<rect x="447.92" y="788.26" width="42.95" height="45.3" fill="url(#hatch)"/>
<rect x="492.8" y="788.26" width="42.95" height="45.3" fill="url(#hatch)"/>
<rect x="-0.88" y="844.38" width="42.95" height="45.3" fill="url(#hatch)"/>
<rect x="44" y="844.38" width="42.95" height="45.3" fill="url(#hatch)"/>
<rect x="88.88" y="844.38" width="42.95" height="45.3" fill="url(#hatch)"/>
<rect x="133.76" y="844.38" width="42.95" height="45.3" fill="url(#hatch)"/>
<rect x="178.64" y="844.38" width="42.95" height="45.3" fill="url(#hatch)"/>
<rect x="223.52" y="844.38" width="42.95" height="45.3" fill="url(#hatch)"/>
<rect x="268.4" y="844.38" width="42.95" height="45.3" fill="url(#hatch)"/>
<rect x="313.28" y="844.38" width="42.95" height="45.3" fill="url(#hatch)"/>
<rect x="358.16" y="844.38" width="42.95" height="45.3" fill="url(#hatch)"/>
<rect x="403.04" y="844.38" width="42.95" height="45.3" fill="url(#hatch)"/>
<rect x="447.92" y="844.38" width="42.95" height="45.3" fill="url(#hatch)"/>
<rect x="492.8" y="844.38" width="42.95" height="45.3" fill="url(#hatch)"/>
<rect x="-0.88" y="900.5" width="42.95" height="45.3" fill="url(#hatch)"/>
<rect x="44" y="900.5" width="42.95" height="45.3" fill="url(#hatch)"/>
<rect x="88.88" y="900.5" width="42.95" height="45.3" fill="url(#hatch)"/>
<rect x="133.76" y="900.5" width="42.95" height="45.3" fill="url(#hatch)"/>
<rect x="178.64" y="900.5" width="42.95" height="45.3" fill="url(#hatch)"/>
<rect x="223.52" y="900.5" width="42.95" height="45.3" fill="url(#hatch)"/>
<rect x="268.4" y="900.5" width="42.95" height="45.3" fill="url(#hatch)"/>
<rect x="313.28" y="900.5" width="42.95" height="45.3" fill="url(#hatch)"/>
<rect x="358.16" y="900.5" width="42.95" height="45.3" fill="url(#hatch)"/>
<rect x="403.04" y="900.5" width="42.95" height="45.3" fill="url(#hatch)"/>
<rect x="447.92" y="900.5" width="42.95" height="45.3" fill="url(#hatch)"/>
<rect x="492.8" y="900.5" width="42.95" height="45.3" fill="url(#hatch)"/>
<rect x="-0.88" y="956.62" width="42.95" height="45.3" fill="url(#hatch)"/>
<rect x="44" y="956.62" width="42.95" height="45.3" fill="url(#hatch)"/>
<rect x="88.88" y="956.62" width="42.95" height="45.3" fill="url(#hatch)"/>
<rect x="133.76" y="956.62" width="42.95" height="45.3" fill="url(#hatch)"/>
<rect x="178.64" y="956.62" width="42.95" height="45.3" fill="url(#hatch)"/>
<rect x="223.52" y="956.62" width="42.95" height="45.3" fill="url(#hatch)"/>
<rect x="268.4" y="956.62" width="42.95" height="45.3" fill="url(#hatch)"/>
<rect x="313.28" y="956.62" width="42.95" height="45.3" fill="url(#hatch)"/>
<rect x="358.16" y="956.62" width="42.95" height="45.3" fill="url(#hatch)"/>
<rect x="403.04" y="956.62" width="42.95" height="45.3" fill="url(#hatch)"/>
<rect x="447.92" y="956.62" width="42.95" height="45.3" fill="url(#hatch)"/>
<rect x="492.8" y="956.62" width="42.95" height="45.3" fill="url(#hatch)"/>
<rect x="-0.88" y="1012.74" width="42.95" height="45.3" fill="url(#hatch)"/>
<rect x="44" y="1012.74" width="42.95" height="45.3" fill="url(#hatch)"/>
<rect x="88.88" y="1012.74" width="42.95" height="45.3" fill="url(#hatch)"/>
<rect x="133.76" y="1012.74" width="42.95" height="45.3" fill="url(#hatch)"/>
<rect x="178.64" y="1012.74" width="42.95" height="45.3" fill="url(#hatch)"/>
<rect x="223.52" y="1012.74" width="42.95" height="45.3" fill="url(#hatch)"/>
<rect x="268.4" y="1012.74" width="42.95" height="45.3" fill="url(#hatch)"/>
<rect x="313.28" y="1012.74" width="42.95" height="45.3" fill="url(#hatch)"/>
<rect x="358.16" y="1012.74" width="42.95" height="45.3" fill="url(#hatch)"/>
<rect x="403.04" y="1012.74" width="42.95" height="45.3" fill="url(#hatch)"/>
<rect x="447.92" y="1012.74" width="42.95" height="45.3" fill="url(#hatch)"/>
<rect x="492.8" y="1012.74" width="42.95" height="45.3" fill="url(#hatch)"/>
<rect x="-0.88" y="1068.86" width="42.95" height="45.3" fill="url(#hatch)"/>
<rect x="44" y="1068.86" width="42.95" height="45.3" fill="url(#hatch)"/>
<rect x="88.88" y="1068.86" width="42.95" height="45.3" fill="url(#hatch)"/>
<rect x="133.76" y="1068.86" width="42.95" height="45.3" fill="url(#hatch)"/>
<rect x="178.64" y="1068.86" width="42.95" height="45.3" fill="url(#hatch)"/>
<rect x="223.52" y="1068.86" width="42.95" height="45.3" fill="url(#hatch)"/>
<rect x="268.4" y="1068.86" width="42.95" height="45.3" fill="url(#hatch)"/>
<rect x="313.28" y="1068.86" width="42.95" height="45.3" fill="url(#hatch)"/>
<rect x="358.16" y="1068.86" width="42.95" height="45.3" fill="url(#hatch)"/>
<rect x="403.04" y="1068.86" width="42.95" height="45.3" fill="url(#hatch)"/>
<rect x="447.92" y="1068.86" width="42.95" height="45.3" fill="url(#hatch)"/>
<rect x="492.8" y="1068.86" width="42.95" height="45.3" fill="url(#hatch)"/>
<rect x="-0.88" y="1124.98" width="42.95" height="45.3" fill="url(#hatch)"/>
<rect x="44" y="1124.98" width="42.95" height="45.3" fill="url(#hatch)"/>
<rect x="88.88" y="1124.98" width="42.95" height="45.3" fill="url(#hatch)"/>
<rect x="133.76" y="1124.98" width="42.95" height="45.3" fill="url(#hatch)"/>
<rect x="178.64" y="1124.98" width="42.95" height="45.3" fill="url(#hatch)"/>
<rect x="223.52" y="1124.98" width="42.95" height="45.3" fill="url(#hatch)"/>
<rect x="268.4" y="1124.98" width="42.95" height="45.3" fill="url(#hatch)"/>
<rect x="313.28" y="1124.98" width="42.95" height="45.3" fill="url(#hatch)"/>
<rect x="358.16" y="1124.98" width="42.95" height="45.3" fill="url(#hatch)"/>
<rect x="403.04" y="1124.98" width="42.95" height="45.3" fill="url(#hatch)"/>
<rect x="447.92" y="1124.98" width="42.95" height="45.3" fill="url(#hatch)"/>
<rect x="492.8" y="1124.98" width="42.95" height="45.3" fill="url(#hatch)"/>
</g>
<rect x="178.64" y="676.02" width="42.95" height="45.3" fill="#38588c"/>
<rect x="223.52" y="676.02" width="42.95" height="45.3" fill="#25848e"/>
<rect x="268.4" y="676.02" width="42.95" height="45.3" fill="#481d6f"/>
<rect x="313.28" y="676.02" width="42.95" height="45.3" fill="#2e6f8e"/>
<rect x="88.88" y="732.14" width="42.95" height="45.3" fill="#26828e"/>
<rect x="133.76" y="732.14" width="42.95" height="45.3" fill="#32648e"/>
<rect x="178.64" y="732.14" width="42.95" height="45.3" fill="#481a6c"/>
<rect x="223.52" y="732.14" width="42.95" height="45.3" fill="#472e7c"/>
<rect x="268.4" y="732.14" width="42.95" height="45.3" fill="#482173"/>
<rect x="313.28" y="732.14" width="42.95" height="45.3" fill="#3e4c8a"/>
<rect x="358.16" y="732.14" width="42.95" height="45.3" fill="#443a83"/>
<rect x="403.04" y="732.14" width="42.95" height="45.3" fill="#25848e"/>
<rect x="44" y="788.26" width="42.95" height="45.3" fill="#4ec36b"/>
<rect x="88.88" y="788.26" width="42.95" height="45.3" fill="#1e9c89"/>
<rect x="133.76" y="788.26" width="42.95" height="45.3" fill="#3c4f8a"/>
<rect x="178.64" y="788.26" width="42.95" height="45.3" fill="#3e4989"/>
<rect x="223.52" y="788.26" width="42.95" height="45.3" fill="#472e7c"/>
<rect x="268.4" y="788.26" width="42.95" height="45.3" fill="#440154"/>
<rect x="313.28" y="788.26" width="42.95" height="45.3" fill="#472a7a"/>
<rect x="358.16" y="788.26" width="42.95" height="45.3" fill="#33628d"/>
<rect x="403.04" y="788.26" width="42.95" height="45.3" fill="#26828e"/>
<rect x="447.92" y="788.26" width="42.95" height="45.3" fill="#22a884"/>
<rect x="44" y="844.38" width="42.95" height="45.3" fill="#52c569"/>
<rect x="88.88" y="844.38" width="42.95" height="45.3" fill="#21a685"/>
<rect x="133.76" y="844.38" width="42.95" height="45.3" fill="#404688"/>
<rect x="178.64" y="844.38" width="42.95" height="45.3" fill="#38588c"/>
<rect x="223.52" y="844.38" width="42.95" height="45.3" fill="#440154"/>
<rect x="268.4" y="844.38" width="42.95" height="45.3" fill="#481d6f"/>
<rect x="313.28" y="844.38" width="42.95" height="45.3" fill="#481d6f"/>
<rect x="358.16" y="844.38" width="42.95" height="45.3" fill="#33628d"/>
<rect x="403.04" y="844.38" width="42.95" height="45.3" fill="#297a8e"/>
<rect x="447.92" y="844.38" width="42.95" height="45.3" fill="#2cb17e"/>
<rect x="44" y="900.5" width="42.95" height="45.3" fill="#29af7f"/>
<rect x="88.88" y="900.5" width="42.95" height="45.3" fill="#21a685"/>
<rect x="133.76" y="900.5" width="42.95" height="45.3" fill="#33628d"/>
<rect x="178.64" y="900.5" width="42.95" height="45.3" fill="#32648e"/>
<rect x="223.52" y="900.5" width="42.95" height="45.3" fill="#472e7c"/>
<rect x="268.4" y="900.5" width="42.95" height="45.3" fill="#443a83"/>
<rect x="313.28" y="900.5" width="42.95" height="45.3" fill="#472a7a"/>
<rect x="358.16" y="900.5" width="42.95" height="45.3" fill="#2d718e"/>
<rect x="403.04" y="900.5" width="42.95" height="45.3" fill="#25848e"/>
<rect x="447.92" y="900.5" width="42.95" height="45.3" fill="#1f978b"/>
<rect x="44" y="956.62" width="42.95" height="45.3" fill="#e5e419"/>
<rect x="88.88" y="956.62" width="42.95" height="45.3" fill="#2cb17e"/>
<rect x="133.76" y="956.62" width="42.95" height="45.3" fill="#1f9a8a"/>
<rect x="178.64" y="956.62" width="42.95" height="45.3" fill="#2a788e"/>
<rect x="223.52" y="956.62" width="42.95" height="45.3" fill="#3e4989"/>
<rect x="268.4" y="956.62" width="42.95" height="45.3" fill="#3e4c8a"/>
<rect x="313.28" y="956.62" width="42.95" height="45.3" fill="#355f8d"/>
<rect x="358.16" y="956.62" width="42.95" height="45.3" fill="#24868e"/>
<rect x="403.04" y="956.62" width="42.95" height="45.3" fill="#44bf70"/>
<rect x="447.92" y="956.62" width="42.95" height="45.3" fill="#86d549"/>
<rect x="88.88" y="1012.74" width="42.95" height="45.3" fill="#fde725"/>
<rect x="133.76" y="1012.74" width="42.95" height="45.3" fill="#29af7f"/>
<rect x="178.64" y="1012.74" width="42.95" height="45.3" fill="#52c569"/>
<rect x="223.52" y="1012.74" width="42.95" height="45.3" fill="#25848e"/>
<rect x="268.4" y="1012.74" width="42.95" height="45.3" fill="#1e9c89"/>
<rect x="313.28" y="1012.74" width="42.95" height="45.3" fill="#25848e"/>
<rect x="358.16" y="1012.74" width="42.95" height="45.3" fill="#3fbc73"/>
<rect x="403.04" y="1012.74" width="42.95" height="45.3" fill="#8ed645"/>
<rect x="178.64" y="1068.86" width="42.95" height="45.3" fill="#a8db34"/>
<rect x="223.52" y="1068.86" width="42.95" height="45.3" fill="#86d549"/>
<rect x="268.4" y="1068.86" width="42.95" height="45.3" fill="#a8db34"/>
<rect x="313.28" y="1068.86" width="42.95" height="45.3" fill="#3bbb75"/>
<circle cx="267.5" cy="894.4" r="263.5" fill="none" stroke="#000" stroke-width="1.45"/>
<clipPath id="clipd"><circle cx="949.8" cy="894.4" r="254"/></clipPath>
<g clip-path="url(#clipd)">
<rect x="680.72" y="619.6" width="42.95" height="45.3" fill="url(#hatch)"/>
<rect x="725.6" y="619.6" width="42.95" height="45.3" fill="url(#hatch)"/>
<rect x="770.48" y="619.6" width="42.95" height="45.3" fill="url(#hatch)"/>
<rect x="815.36" y="619.6" width="42.95" height="45.3" fill="url(#hatch)"/>
<rect x="860.24" y="619.6" width="42.95" height="45.3" fill="url(#hatch)"/>
<rect x="905.12" y="619.6" width="42.95" height="45.3" fill="url(#hatch)"/>
<rect x="950" y="619.6" width="42.95" height="45.3" fill="url(#hatch)"/>
<rect x="994.88" y="619.6" width="42.95" height="45.3" fill="url(#hatch)"/>
<rect x="1039.76" y="619.6" width="42.95" height="45.3" fill="url(#hatch)"/>
<rect x="1084.64" y="619.6" width="42.95" height="45.3" fill="url(#hatch)"/>
<rect x="1129.52" y="619.6" width="42.95" height="45.3" fill="url(#hatch)"/>
<rect x="1174.4" y="619.6" width="42.95" height="45.3" fill="url(#hatch)"/>
<rect x="680.72" y="675.72" width="42.95" height="45.3" fill="url(#hatch)"/>
<rect x="725.6" y="675.72" width="42.95" height="45.3" fill="url(#hatch)"/>
<rect x="770.48" y="675.72" width="42.95" height="45.3" fill="url(#hatch)"/>
<rect x="815.36" y="675.72" width="42.95" height="45.3" fill="url(#hatch)"/>
<rect x="860.24" y="675.72" width="42.95" height="45.3" fill="url(#hatch)"/>
<rect x="905.12" y="675.72" width="42.95" height="45.3" fill="url(#hatch)"/>
<rect x="950" y="675.72" width="42.95" height="45.3" fill="url(#hatch)"/>
<rect x="994.88" y="675.72" width="42.95" height="45.3" fill="url(#hatch)"/>
<rect x="1039.76" y="675.72" width="42.95" height="45.3" fill="url(#hatch)"/>
<rect x="1084.64" y="675.72" width="42.95" height="45.3" fill="url(#hatch)"/>
<rect x="1129.52" y="675.72" width="42.95" height="45.3" fill="url(#hatch)"/>
<rect x="1174.4" y="675.72" width="42.95" height="45.3" fill="url(#hatch)"/>
<rect x="680.72" y="731.84" width="42.95" height="45.3" fill="url(#hatch)"/>
<rect x="725.6" y="731.84" width="42.95" height="45.3" fill="url(#hatch)"/>
<rect x="770.48" y="731.84" width="42.95" height="45.3" fill="url(#hatch)"/>
<rect x="815.36" y="731.84" width="42.95" height="45.3" fill="url(#hatch)"/>
<rect x="860.24" y="731.84" width="42.95" height="45.3" fill="url(#hatch)"/>
<rect x="905.12" y="731.84" width="42.95" height="45.3" fill="url(#hatch)"/>
<rect x="950" y="731.84" width="42.95" height="45.3" fill="url(#hatch)"/>
<rect x="994.88" y="731.84" width="42.95" height="45.3" fill="url(#hatch)"/>
<rect x="1039.76" y="731.84" width="42.95" height="45.3" fill="url(#hatch)"/>
<rect x="1084.64" y="731.84" width="42.95" height="45.3" fill="url(#hatch)"/>
<rect x="1129.52" y="731.84" width="42.95" height="45.3" fill="url(#hatch)"/>
<rect x="1174.4" y="731.84" width="42.95" height="45.3" fill="url(#hatch)"/>
<rect x="680.72" y="787.96" width="42.95" height="45.3" fill="url(#hatch)"/>
<rect x="725.6" y="787.96" width="42.95" height="45.3" fill="url(#hatch)"/>
<rect x="770.48" y="787.96" width="42.95" height="45.3" fill="url(#hatch)"/>
<rect x="815.36" y="787.96" width="42.95" height="45.3" fill="url(#hatch)"/>
<rect x="860.24" y="787.96" width="42.95" height="45.3" fill="url(#hatch)"/>
<rect x="905.12" y="787.96" width="42.95" height="45.3" fill="url(#hatch)"/>
<rect x="950" y="787.96" width="42.95" height="45.3" fill="url(#hatch)"/>
<rect x="994.88" y="787.96" width="42.95" height="45.3" fill="url(#hatch)"/>
<rect x="1039.76" y="787.96" width="42.95" height="45.3" fill="url(#hatch)"/>
<rect x="1084.64" y="787.96" width="42.95" height="45.3" fill="url(#hatch)"/>
<rect x="1129.52" y="787.96" width="42.95" height="45.3" fill="url(#hatch)"/>
<rect x="1174.4" y="787.96" width="42.95" height="45.3" fill="url(#hatch)"/>
<rect x="680.72" y="844.08" width="42.95" height="45.3" fill="url(#hatch)"/>
<rect x="725.6" y="844.08" width="42.95" height="45.3" fill="url(#hatch)"/>
<rect x="770.48" y="844.08" width="42.95" height="45.3" fill="url(#hatch)"/>
<rect x="815.36" y="844.08" width="42.95" height="45.3" fill="url(#hatch)"/>
<rect x="860.24" y="844.08" width="42.95" height="45.3" fill="url(#hatch)"/>
<rect x="905.12" y="844.08" width="42.95" height="45.3" fill="url(#hatch)"/>
<rect x="950" y="844.08" width="42.95" height="45.3" fill="url(#hatch)"/>
<rect x="994.88" y="844.08" width="42.95" height="45.3" fill="url(#hatch)"/>
<rect x="1039.76" y="844.08" width="42.95" height="45.3" fill="url(#hatch)"/>
<rect x="1084.64" y="844.08" width="42.95" height="45.3" fill="url(#hatch)"/>
<rect x="1129.52" y="844.08" width="42.95" height="45.3" fill="url(#hatch)"/>
<rect x="1174.4" y="844.08" width="42.95" height="45.3" fill="url(#hatch)"/>
<rect x="680.72" y="900.2" width="42.95" height="45.3" fill="url(#hatch)"/>
<rect x="725.6" y="900.2" width="42.95" height="45.3" fill="url(#hatch)"/>
<rect x="770.48" y="900.2" width="42.95" height="45.3" fill="url(#hatch)"/>
<rect x="815.36" y="900.2" width="42.95" height="45.3" fill="url(#hatch)"/>
<rect x="860.24" y="900.2" width="42.95" height="45.3" fill="url(#hatch)"/>
<rect x="905.12" y="900.2" width="42.95" height="45.3" fill="url(#hatch)"/>
<rect x="950" y="900.2" width="42.95" height="45.3" fill="url(#hatch)"/>
<rect x="994.88" y="900.2" width="42.95" height="45.3" fill="url(#hatch)"/>
<rect x="1039.76" y="900.2" width="42.95" height="45.3" fill="url(#hatch)"/>
<rect x="1084.64" y="900.2" width="42.95" height="45.3" fill="url(#hatch)"/>
<rect x="1129.52" y="900.2" width="42.95" height="45.3" fill="url(#hatch)"/>
<rect x="1174.4" y="900.2" width="42.95" height="45.3" fill="url(#hatch)"/>
<rect x="680.72" y="956.32" width="42.95" height="45.3" fill="url(#hatch)"/>
<rect x="725.6" y="956.32" width="42.95" height="45.3" fill="url(#hatch)"/>
<rect x="770.48" y="956.32" width="42.95" height="45.3" fill="url(#hatch)"/>
<rect x="815.36" y="956.32" width="42.95" height="45.3" fill="url(#hatch)"/>
<rect x="860.24" y="956.32" width="42.95" height="45.3" fill="url(#hatch)"/>
<rect x="905.12" y="956.32" width="42.95" height="45.3" fill="url(#hatch)"/>
<rect x="950" y="956.32" width="42.95" height="45.3" fill="url(#hatch)"/>
<rect x="994.88" y="956.32" width="42.95" height="45.3" fill="url(#hatch)"/>
<rect x="1039.76" y="956.32" width="42.95" height="45.3" fill="url(#hatch)"/>
<rect x="1084.64" y="956.32" width="42.95" height="45.3" fill="url(#hatch)"/>
<rect x="1129.52" y="956.32" width="42.95" height="45.3" fill="url(#hatch)"/>
<rect x="1174.4" y="956.32" width="42.95" height="45.3" fill="url(#hatch)"/>
<rect x="680.72" y="1012.44" width="42.95" height="45.3" fill="url(#hatch)"/>
<rect x="725.6" y="1012.44" width="42.95" height="45.3" fill="url(#hatch)"/>
<rect x="770.48" y="1012.44" width="42.95" height="45.3" fill="url(#hatch)"/>
<rect x="815.36" y="1012.44" width="42.95" height="45.3" fill="url(#hatch)"/>
<rect x="860.24" y="1012.44" width="42.95" height="45.3" fill="url(#hatch)"/>
<rect x="905.12" y="1012.44" width="42.95" height="45.3" fill="url(#hatch)"/>
<rect x="950" y="1012.44" width="42.95" height="45.3" fill="url(#hatch)"/>
<rect x="994.88" y="1012.44" width="42.95" height="45.3" fill="url(#hatch)"/>
<rect x="1039.76" y="1012.44" width="42.95" height="45.3" fill="url(#hatch)"/>
<rect x="1084.64" y="1012.44" width="42.95" height="45.3" fill="url(#hatch)"/>
<rect x="1129.52" y="1012.44" width="42.95" height="45.3" fill="url(#hatch)"/>
<rect x="1174.4" y="1012.44" width="42.95" height="45.3" fill="url(#hatch)"/>
<rect x="680.72" y="1068.56" width="42.95" height="45.3" fill="url(#hatch)"/>
<rect x="725.6" y="1068.56" width="42.95" height="45.3" fill="url(#hatch)"/>
<rect x="770.48" y="1068.56" width="42.95" height="45.3" fill="url(#hatch)"/>
<rect x="815.36" y="1068.56" width="42.95" height="45.3" fill="url(#hatch)"/>
<rect x="860.24" y="1068.56" width="42.95" height="45.3" fill="url(#hatch)"/>
<rect x="905.12" y="1068.56" width="42.95" height="45.3" fill="url(#hatch)"/>
<rect x="950" y="1068.56" width="42.95" height="45.3" fill="url(#hatch)"/>
<rect x="994.88" y="1068.56" width="42.95" height="45.3" fill="url(#hatch)"/>
<rect x="1039.76" y="1068.56" width="42.95" height="45.3" fill="url(#hatch)"/>
<rect x="1084.64" y="1068.56" width="42.95" height="45.3" fill="url(#hatch)"/>
<rect x="1129.52" y="1068.56" width="42.95" height="45.3" fill="url(#hatch)"/>
<rect x="1174.4" y="1068.56" width="42.95" height="45.3" fill="url(#hatch)"/>
<rect x="680.72" y="1124.68" width="42.95" height="45.3" fill="url(#hatch)"/>
<rect x="725.6" y="1124.68" width="42.95" height="45.3" fill="url(#hatch)"/>
<rect x="770.48" y="1124.68" width="42.95" height="45.3" fill="url(#hatch)"/>
<rect x="815.36" y="1124.68" width="42.95" height="45.3" fill="url(#hatch)"/>
<rect x="860.24" y="1124.68" width="42.95" height="45.3" fill="url(#hatch)"/>
<rect x="905.12" y="1124.68" width="42.95" height="45.3" fill="url(#hatch)"/>
<rect x="950" y="1124.68" width="42.95" height="45.3" fill="url(#hatch)"/>
<rect x="994.88" y="1124.68" width="42.95" height="45.3" fill="url(#hatch)"/>
<rect x="1039.76" y="1124.68" width="42.95" height="45.3" fill="url(#hatch)"/>
<rect x="1084.64" y="1124.68" width="42.95" height="45.3" fill="url(#hatch)"/>
<rect x="1129.52" y="1124.68" width="42.95" height="45.3" fill="url(#hatch)"/>
<rect x="1174.4" y="1124.68" width="42.95" height="45.3" fill="url(#hatch)"/>
</g>
<rect x="860.24" y="675.72" width="42.95" height="45.3" fill="#2d718e"/>
<rect x="905.12" y="675.72" width="42.95" height="45.3" fill="#375a8c"/>
<rect x="950" y="675.72" width="42.95" height="45.3" fill="#375a8c"/>
<rect x="994.88" y="675.72" width="42.95" height="45.3" fill="#33628d"/>
<rect x="770.48" y="731.84" width="42.95" height="45.3" fill="#228b8d"/>
<rect x="815.36" y="731.84" width="42.95" height="45.3" fill="#481a6c"/>
<rect x="860.24" y="731.84" width="42.95" height="45.3" fill="#463480"/>
<rect x="905.12" y="731.84" width="42.95" height="45.3" fill="#482878"/>
<rect x="950" y="731.84" width="42.95" height="45.3" fill="#481a6c"/>
<rect x="994.88" y="731.84" width="42.95" height="45.3" fill="#453781"/>
<rect x="1039.76" y="731.84" width="42.95" height="45.3" fill="#33628d"/>
<rect x="1084.64" y="731.84" width="42.95" height="45.3" fill="#2e6f8e"/>
<rect x="725.6" y="787.96" width="42.95" height="45.3" fill="#1fa188"/>
<rect x="770.48" y="787.96" width="42.95" height="45.3" fill="#404688"/>
<rect x="815.36" y="787.96" width="42.95" height="45.3" fill="#38588c"/>
<rect x="860.24" y="787.96" width="42.95" height="45.3" fill="#482878"/>
<rect x="905.12" y="787.96" width="42.95" height="45.3" fill="#481a6c"/>
<rect x="950" y="787.96" width="42.95" height="45.3" fill="#481a6c"/>
<rect x="994.88" y="787.96" width="42.95" height="45.3" fill="#460b5e"/>
<rect x="1039.76" y="787.96" width="42.95" height="45.3" fill="#424086"/>
<rect x="1084.64" y="787.96" width="42.95" height="45.3" fill="#2d718e"/>
<rect x="1129.52" y="787.96" width="42.95" height="45.3" fill="#218e8d"/>
<rect x="725.6" y="844.08" width="42.95" height="45.3" fill="#2d718e"/>
<rect x="770.48" y="844.08" width="42.95" height="45.3" fill="#46307e"/>
<rect x="815.36" y="844.08" width="42.95" height="45.3" fill="#424086"/>
<rect x="860.24" y="844.08" width="42.95" height="45.3" fill="#3e4c8a"/>
<rect x="905.12" y="844.08" width="42.95" height="45.3" fill="#481769"/>
<rect x="950" y="844.08" width="42.95" height="45.3" fill="#440154"/>
<rect x="994.88" y="844.08" width="42.95" height="45.3" fill="#440154"/>
<rect x="1039.76" y="844.08" width="42.95" height="45.3" fill="#46307e"/>
<rect x="1084.64" y="844.08" width="42.95" height="45.3" fill="#2a788e"/>
<rect x="1129.52" y="844.08" width="42.95" height="45.3" fill="#25848e"/>
<rect x="725.6" y="900.2" width="42.95" height="45.3" fill="#20a386"/>
<rect x="770.48" y="900.2" width="42.95" height="45.3" fill="#20a386"/>
<rect x="815.36" y="900.2" width="42.95" height="45.3" fill="#375a8c"/>
<rect x="860.24" y="900.2" width="42.95" height="45.3" fill="#424086"/>
<rect x="905.12" y="900.2" width="42.95" height="45.3" fill="#481a6c"/>
<rect x="950" y="900.2" width="42.95" height="45.3" fill="#472a7a"/>
<rect x="994.88" y="900.2" width="42.95" height="45.3" fill="#481d6f"/>
<rect x="1039.76" y="900.2" width="42.95" height="45.3" fill="#3e4c8a"/>
<rect x="1084.64" y="900.2" width="42.95" height="45.3" fill="#2d718e"/>
<rect x="1129.52" y="900.2" width="42.95" height="45.3" fill="#2c738e"/>
<rect x="725.6" y="956.32" width="42.95" height="45.3" fill="#7ad151"/>
<rect x="770.48" y="956.32" width="42.95" height="45.3" fill="#20a386"/>
<rect x="815.36" y="956.32" width="42.95" height="45.3" fill="#2e6f8e"/>
<rect x="860.24" y="956.32" width="42.95" height="45.3" fill="#2c738e"/>
<rect x="905.12" y="956.32" width="42.95" height="45.3" fill="#433e85"/>
<rect x="950" y="956.32" width="42.95" height="45.3" fill="#3e4c8a"/>
<rect x="994.88" y="956.32" width="42.95" height="45.3" fill="#46307e"/>
<rect x="1039.76" y="956.32" width="42.95" height="45.3" fill="#26828e"/>
<rect x="1084.64" y="956.32" width="42.95" height="45.3" fill="#2b758e"/>
<rect x="1129.52" y="956.32" width="42.95" height="45.3" fill="#7ad151"/>
<rect x="770.48" y="1012.44" width="42.95" height="45.3" fill="#4ec36b"/>
<rect x="815.36" y="1012.44" width="42.95" height="45.3" fill="#25ab82"/>
<rect x="860.24" y="1012.44" width="42.95" height="45.3" fill="#26828e"/>
<rect x="905.12" y="1012.44" width="42.95" height="45.3" fill="#228b8d"/>
<rect x="950" y="1012.44" width="42.95" height="45.3" fill="#228b8d"/>
<rect x="994.88" y="1012.44" width="42.95" height="45.3" fill="#38588c"/>
<rect x="1039.76" y="1012.44" width="42.95" height="45.3" fill="#38588c"/>
<rect x="1084.64" y="1012.44" width="42.95" height="45.3" fill="#2d718e"/>
<rect x="860.24" y="1068.56" width="42.95" height="45.3" fill="#63cb5f"/>
<rect x="905.12" y="1068.56" width="42.95" height="45.3" fill="#63cb5f"/>
<rect x="950" y="1068.56" width="42.95" height="45.3" fill="#3fbc73"/>
<rect x="994.88" y="1068.56" width="42.95" height="45.3" fill="#fde725"/>
<circle cx="949.8" cy="894.4" r="263.5" fill="none" stroke="#000" stroke-width="1.45"/>
<rect x="559.8" y="32.7" width="10.3" height="514.9" fill="url(#vgrad)"/>
<line x1="570.1" y1="51.8" x2="575.1" y2="51.8" stroke="#000" stroke-width="1.2"/>
<text x="580" y="61.4" font-size="26" fill="#111">2.340</text>
<line x1="570.1" y1="147.1" x2="575.1" y2="147.1" stroke="#000" stroke-width="1.2"/>
<text x="580" y="156.7" font-size="26" fill="#111">2.335</text>
<line x1="570.1" y1="242.7" x2="575.1" y2="242.7" stroke="#000" stroke-width="1.2"/>
<text x="580" y="252.3" font-size="26" fill="#111">2.330</text>
<line x1="570.1" y1="338.5" x2="575.1" y2="338.5" stroke="#000" stroke-width="1.2"/>
<text x="580" y="348.1" font-size="26" fill="#111">2.325</text>
<line x1="570.1" y1="433.8" x2="575.1" y2="433.8" stroke="#000" stroke-width="1.2"/>
<text x="580" y="443.4" font-size="26" fill="#111">2.320</text>
<line x1="570.1" y1="528.5" x2="575.1" y2="528.5" stroke="#000" stroke-width="1.2"/>
<text x="580" y="538.1" font-size="26" fill="#111">2.315</text>
<text x="543.6" y="24.5" font-size="26" font-style="italic" fill="#111">n</text>
<text x="559.5" y="28.6" font-size="20" font-style="italic" fill="#111" textLength="25.5" lengthAdjust="spacingAndGlyphs">eff</text>
<rect x="1241.3" y="38.5" width="10.3" height="514.1" fill="url(#vgrad)"/>
<line x1="1251.6" y1="92.7" x2="1256.6" y2="92.7" stroke="#000" stroke-width="1.2"/>
<text x="1260.8" y="102.3" font-size="26" fill="#111">2.335</text>
<line x1="1251.6" y1="185" x2="1256.6" y2="185" stroke="#000" stroke-width="1.2"/>
<text x="1260.8" y="194.6" font-size="26" fill="#111">2.330</text>
<line x1="1251.6" y1="277.2" x2="1256.6" y2="277.2" stroke="#000" stroke-width="1.2"/>
<text x="1260.8" y="286.8" font-size="26" fill="#111">2.325</text>
<line x1="1251.6" y1="369.5" x2="1256.6" y2="369.5" stroke="#000" stroke-width="1.2"/>
<text x="1260.8" y="379.1" font-size="26" fill="#111">2.320</text>
<line x1="1251.6" y1="461" x2="1256.6" y2="461" stroke="#000" stroke-width="1.2"/>
<text x="1260.8" y="470.6" font-size="26" fill="#111">2.315</text>
<line x1="1251.6" y1="552.6" x2="1256.6" y2="552.6" stroke="#000" stroke-width="1.2"/>
<text x="1260.8" y="562.2" font-size="26" fill="#111">2.310</text>
<text x="1225" y="29.1" font-size="26" font-style="italic" fill="#111">n</text>
<text x="1240.3" y="33.7" font-size="20" font-style="italic" fill="#111" textLength="26" lengthAdjust="spacingAndGlyphs">eff</text>
<rect x="560" y="637.3" width="10.3" height="514.5" fill="url(#vgrad)"/>
<line x1="570.3" y1="659.9" x2="575.3" y2="659.9" stroke="#000" stroke-width="1.2"/>
<text x="580.3" y="669.5" font-size="26" fill="#111">4.305</text>
<line x1="570.3" y1="718.5" x2="575.3" y2="718.5" stroke="#000" stroke-width="1.2"/>
<text x="580.3" y="728.1" font-size="26" fill="#111">4.303</text>
<line x1="570.3" y1="777" x2="575.3" y2="777" stroke="#000" stroke-width="1.2"/>
<text x="580.3" y="786.6" font-size="26" fill="#111">4.300</text>
<line x1="570.3" y1="835.6" x2="575.3" y2="835.6" stroke="#000" stroke-width="1.2"/>
<text x="580.3" y="845.2" font-size="26" fill="#111">4.298</text>
<line x1="570.3" y1="894.1" x2="575.3" y2="894.1" stroke="#000" stroke-width="1.2"/>
<text x="580.3" y="903.7" font-size="26" fill="#111">4.295</text>
<line x1="570.3" y1="952.7" x2="575.3" y2="952.7" stroke="#000" stroke-width="1.2"/>
<text x="580.3" y="962.3" font-size="26" fill="#111">4.293</text>
<line x1="570.3" y1="1011.3" x2="575.3" y2="1011.3" stroke="#000" stroke-width="1.2"/>
<text x="580.3" y="1020.9" font-size="26" fill="#111">4.290</text>
<line x1="570.3" y1="1069.8" x2="575.3" y2="1069.8" stroke="#000" stroke-width="1.2"/>
<text x="580.3" y="1079.4" font-size="26" fill="#111">4.287</text>
<line x1="570.3" y1="1128.4" x2="575.3" y2="1128.4" stroke="#000" stroke-width="1.2"/>
<text x="580.3" y="1138" font-size="26" fill="#111">4.285</text>
<text x="551.4" y="626.6" font-size="26" font-style="italic" fill="#111">n</text>
<text x="567.4" y="630.5" font-size="20" font-style="italic" fill="#111" textLength="10.2" lengthAdjust="spacingAndGlyphs">g</text>
<rect x="1241.3" y="637.4" width="10.3" height="514.5" fill="url(#vgrad)"/>
<line x1="1251.6" y1="698.9" x2="1256.6" y2="698.9" stroke="#000" stroke-width="1.2"/>
<text x="1261.6" y="708.5" font-size="26" fill="#111">4.310</text>
<line x1="1251.6" y1="802" x2="1256.6" y2="802" stroke="#000" stroke-width="1.2"/>
<text x="1261.6" y="811.6" font-size="26" fill="#111">4.305</text>
<line x1="1251.6" y1="905.2" x2="1256.6" y2="905.2" stroke="#000" stroke-width="1.2"/>
<text x="1261.6" y="914.8" font-size="26" fill="#111">4.300</text>
<line x1="1251.6" y1="1008.1" x2="1256.6" y2="1008.1" stroke="#000" stroke-width="1.2"/>
<text x="1261.6" y="1017.7" font-size="26" fill="#111">4.295</text>
<line x1="1251.6" y1="1111.1" x2="1256.6" y2="1111.1" stroke="#000" stroke-width="1.2"/>
<text x="1261.6" y="1120.7" font-size="26" fill="#111">4.290</text>
<text x="1232.6" y="626.9" font-size="26" font-style="italic" fill="#111">n</text>
<text x="1247.8" y="630.5" font-size="20" font-style="italic" fill="#111" textLength="10.8" lengthAdjust="spacingAndGlyphs">g</text>
<text x="2.3" y="32.4" font-size="41.5" font-weight="bold" fill="#1a1a1a">(a)</text>
<text x="680.5" y="32.4" font-size="41.5" font-weight="bold" fill="#1a1a1a">(b)</text>
<text x="2.3" y="628.4" font-size="41.5" font-weight="bold" fill="#1a1a1a">(c)</text>
<text x="680.5" y="628.4" font-size="41.5" font-weight="bold" fill="#1a1a1a">(d)</text>
<text x="2.3" y="1148.6" font-size="41.5" font-weight="bold" fill="#1a1a1a">(e)</text>
<text x="680.2" y="1148.4" font-size="41.5" font-weight="bold" fill="#1a1a1a">(f)</text>
<defs>
<clipPath id="eclip"><rect x="38" y="1183" width="525" height="368"/></clipPath>
<clipPath id="fclip"><rect x="724" y="1183.5" width="523.5" height="368"/></clipPath>
<pattern id="comb" patternUnits="userSpaceOnUse" x="172.1" y="1237.5" width="23.5" height="50.1"><g fill="none" stroke="#767ab0" stroke-width="1"><path d="M5.5 0V13H13.5V0M3 15H20V19H13V29H10V19H3ZM0 41H8V36H15V26H18V36H23.5"/><path d="M17 0V13H23.5M0 13H1.5V0M1 15V33H6M21 19V32H23.5M0 44H23.5M5 44V50.1M6 21H9M14 21H19V24"/></g><g stroke="#7c80bf" stroke-width="1.7"><path d="M2 0V11M9.5 0V11M17.5 0V11M2 44V50.1M9.5 44V50.1M17.5 44V50.1"/></g><g fill="#4f5578"><rect x="1.2" y="10" width="1.6" height="1.6"/><rect x="8.7" y="10" width="1.6" height="1.6"/><rect x="16.7" y="10" width="1.6" height="1.6"/></g><rect x="6.5" y="11" width="6" height="1.6" fill="#7fa0c4"/></pattern>
<pattern id="fgrid" patternUnits="userSpaceOnUse" width="2" height="2"><rect width="2" height="2" fill="#939ba7"/><rect width="1" height="1" fill="#8e96a2"/></pattern>
<pattern id="smallpads" patternUnits="userSpaceOnUse" x="424.3" y="0" width="6.19" height="30"><rect x="0" y="0" width="3.2" height="3.2" fill="#f4f4f6"/></pattern>
<pattern id="dots" patternUnits="userSpaceOnUse" width="3.16" height="3.16"><rect width="3.16" height="3.16" fill="#574c68"/><rect x="0.73" y="0.73" width="1.7" height="1.7" fill="#dab8d4"/></pattern>
</defs>
<g clip-path="url(#eclip)">
<rect x="38" y="1183" width="525" height="368" fill="url(#fgrid)"/>
<rect x="172" y="1186" width="250" height="328" fill="url(#comb)"/>
<rect x="440" y="1222" width="116" height="64" fill="url(#comb)"/>
<rect x="66" y="1322" width="106" height="84" fill="url(#comb)"/>
<rect x="250" y="1184" width="100" height="22" fill="#939aa9"/>
<g fill="none" stroke="#7378ac" stroke-width="1.2">
<path d="M252 1184V1204H348V1184M262 1184V1200M274 1184V1200M286 1184V1200M298 1184V1200M310 1184V1200M322 1184V1200M334 1184V1200M255 1207H345"/>
<circle cx="182" cy="1205" r="5"/>
<circle cx="196" cy="1205" r="3.5"/>
<circle cx="209" cy="1205" r="6"/>
<circle cx="222" cy="1205" r="3.5"/>
<circle cx="418" cy="1196" r="6"/>
<circle cx="515" cy="1211" r="6"/>
<circle cx="540" cy="1222" r="6"/>
<circle cx="532" cy="1202" r="3"/>
<path d="M430 1190Q430 1186 436 1186H452Q458 1186 458 1194H500V1206M400 1212H470V1222M480 1200H520"/>
<path d="M455 1255H500V1270H485V1288M510 1255H550V1262H530V1285M445 1275H470"/>
</g>
<g fill="none" stroke="#6e73a8" stroke-width="1.1">
<path d="M424 1297.3V1288.3H534V1297.3"/>
<path d="M424 1313.3H534"/>
<path d="M426 1288.3V1297.3"/>
<path d="M434.1 1288.3V1297.3"/>
<path d="M442.2 1288.3V1297.3"/>
<path d="M450.3 1288.3V1297.3"/>
<path d="M458.4 1288.3V1297.3"/>
<path d="M466.5 1288.3V1297.3"/>
<path d="M474.6 1288.3V1297.3"/>
<path d="M482.7 1288.3V1297.3"/>
<path d="M490.8 1288.3V1297.3"/>
<path d="M498.9 1288.3V1297.3"/>
<path d="M507 1288.3V1297.3"/>
<path d="M515.1 1288.3V1297.3"/>
<path d="M523.2 1288.3V1297.3"/>
<path d="M531.3 1288.3V1297.3"/>
<path d="M430 1292.3H438V1296.3"/>
<path d="M454 1292.3H462V1296.3"/>
<path d="M478 1292.3H486V1296.3"/>
<path d="M502 1292.3H510V1296.3"/>
<path d="M424 1322V1313H534V1322"/>
<path d="M424 1338H534"/>
<path d="M426 1313V1322"/>
<path d="M434.1 1313V1322"/>
<path d="M442.2 1313V1322"/>
<path d="M450.3 1313V1322"/>
<path d="M458.4 1313V1322"/>
<path d="M466.5 1313V1322"/>
<path d="M474.6 1313V1322"/>
<path d="M482.7 1313V1322"/>
<path d="M490.8 1313V1322"/>
<path d="M498.9 1313V1322"/>
<path d="M507 1313V1322"/>
<path d="M515.1 1313V1322"/>
<path d="M523.2 1313V1322"/>
<path d="M531.3 1313V1322"/>
<path d="M430 1317H438V1321"/>
<path d="M454 1317H462V1321"/>
<path d="M478 1317H486V1321"/>
<path d="M502 1317H510V1321"/>
<path d="M424 1346.1V1337.1H534V1346.1"/>
<path d="M424 1362.1H534"/>
<path d="M426 1337.1V1346.1"/>
<path d="M434.1 1337.1V1346.1"/>
<path d="M442.2 1337.1V1346.1"/>
<path d="M450.3 1337.1V1346.1"/>
<path d="M458.4 1337.1V1346.1"/>
<path d="M466.5 1337.1V1346.1"/>
<path d="M474.6 1337.1V1346.1"/>
<path d="M482.7 1337.1V1346.1"/>
<path d="M490.8 1337.1V1346.1"/>
<path d="M498.9 1337.1V1346.1"/>
<path d="M507 1337.1V1346.1"/>
<path d="M515.1 1337.1V1346.1"/>
<path d="M523.2 1337.1V1346.1"/>
<path d="M531.3 1337.1V1346.1"/>
<path d="M430 1341.1H438V1345.1"/>
<path d="M454 1341.1H462V1345.1"/>
<path d="M478 1341.1H486V1345.1"/>
<path d="M502 1341.1H510V1345.1"/>
<path d="M424 1371.2V1362.2H534V1371.2"/>
<path d="M424 1387.2H534"/>
<path d="M426 1362.2V1371.2"/>
<path d="M434.1 1362.2V1371.2"/>
<path d="M442.2 1362.2V1371.2"/>
<path d="M450.3 1362.2V1371.2"/>
<path d="M458.4 1362.2V1371.2"/>
<path d="M466.5 1362.2V1371.2"/>
<path d="M474.6 1362.2V1371.2"/>
<path d="M482.7 1362.2V1371.2"/>
<path d="M490.8 1362.2V1371.2"/>
<path d="M498.9 1362.2V1371.2"/>
<path d="M507 1362.2V1371.2"/>
<path d="M515.1 1362.2V1371.2"/>
<path d="M523.2 1362.2V1371.2"/>
<path d="M531.3 1362.2V1371.2"/>
<path d="M430 1366.2H438V1370.2"/>
<path d="M454 1366.2H462V1370.2"/>
<path d="M478 1366.2H486V1370.2"/>
<path d="M502 1366.2H510V1370.2"/>
<path d="M424 1396V1387H534V1396"/>
<path d="M424 1412H534"/>
<path d="M426 1387V1396"/>
<path d="M434.1 1387V1396"/>
<path d="M442.2 1387V1396"/>
<path d="M450.3 1387V1396"/>
<path d="M458.4 1387V1396"/>
<path d="M466.5 1387V1396"/>
<path d="M474.6 1387V1396"/>
<path d="M482.7 1387V1396"/>
<path d="M490.8 1387V1396"/>
<path d="M498.9 1387V1396"/>
<path d="M507 1387V1396"/>
<path d="M515.1 1387V1396"/>
<path d="M523.2 1387V1396"/>
<path d="M531.3 1387V1396"/>
<path d="M430 1391H438V1395"/>
<path d="M454 1391H462V1395"/>
<path d="M478 1391H486V1395"/>
<path d="M502 1391H510V1395"/>
<path d="M424 1420.3V1411.3H534V1420.3"/>
<path d="M424 1436.3H534"/>
<path d="M426 1411.3V1420.3"/>
<path d="M434.1 1411.3V1420.3"/>
<path d="M442.2 1411.3V1420.3"/>
<path d="M450.3 1411.3V1420.3"/>
<path d="M458.4 1411.3V1420.3"/>
<path d="M466.5 1411.3V1420.3"/>
<path d="M474.6 1411.3V1420.3"/>
<path d="M482.7 1411.3V1420.3"/>
<path d="M490.8 1411.3V1420.3"/>
<path d="M498.9 1411.3V1420.3"/>
<path d="M507 1411.3V1420.3"/>
<path d="M515.1 1411.3V1420.3"/>
<path d="M523.2 1411.3V1420.3"/>
<path d="M531.3 1411.3V1420.3"/>
<path d="M430 1415.3H438V1419.3"/>
<path d="M454 1415.3H462V1419.3"/>
<path d="M478 1415.3H486V1419.3"/>
<path d="M502 1415.3H510V1419.3"/>
<path d="M424 1445.3V1436.3H534V1445.3"/>
<path d="M424 1461.3H534"/>
<path d="M426 1436.3V1445.3"/>
<path d="M434.1 1436.3V1445.3"/>
<path d="M442.2 1436.3V1445.3"/>
<path d="M450.3 1436.3V1445.3"/>
<path d="M458.4 1436.3V1445.3"/>
<path d="M466.5 1436.3V1445.3"/>
<path d="M474.6 1436.3V1445.3"/>
<path d="M482.7 1436.3V1445.3"/>
<path d="M490.8 1436.3V1445.3"/>
<path d="M498.9 1436.3V1445.3"/>
<path d="M507 1436.3V1445.3"/>
<path d="M515.1 1436.3V1445.3"/>
<path d="M523.2 1436.3V1445.3"/>
<path d="M531.3 1436.3V1445.3"/>
<path d="M430 1440.3H438V1444.3"/>
<path d="M454 1440.3H462V1444.3"/>
<path d="M478 1440.3H486V1444.3"/>
<path d="M502 1440.3H510V1444.3"/>
<path d="M424 1470.1V1461.1H534V1470.1"/>
<path d="M424 1486.1H534"/>
<path d="M426 1461.1V1470.1"/>
<path d="M434.1 1461.1V1470.1"/>
<path d="M442.2 1461.1V1470.1"/>
<path d="M450.3 1461.1V1470.1"/>
<path d="M458.4 1461.1V1470.1"/>
<path d="M466.5 1461.1V1470.1"/>
<path d="M474.6 1461.1V1470.1"/>
<path d="M482.7 1461.1V1470.1"/>
<path d="M490.8 1461.1V1470.1"/>
<path d="M498.9 1461.1V1470.1"/>
<path d="M507 1461.1V1470.1"/>
<path d="M515.1 1461.1V1470.1"/>
<path d="M523.2 1461.1V1470.1"/>
<path d="M531.3 1461.1V1470.1"/>
<path d="M430 1465.1H438V1469.1"/>
<path d="M454 1465.1H462V1469.1"/>
<path d="M478 1465.1H486V1469.1"/>
<path d="M502 1465.1H510V1469.1"/>
<path d="M424 1496.9V1487.9H534V1496.9"/>
<path d="M424 1512.9H534"/>
<path d="M426 1487.9V1496.9"/>
<path d="M434.1 1487.9V1496.9"/>
<path d="M442.2 1487.9V1496.9"/>
<path d="M450.3 1487.9V1496.9"/>
<path d="M458.4 1487.9V1496.9"/>
<path d="M466.5 1487.9V1496.9"/>
<path d="M474.6 1487.9V1496.9"/>
<path d="M482.7 1487.9V1496.9"/>
<path d="M490.8 1487.9V1496.9"/>
<path d="M498.9 1487.9V1496.9"/>
<path d="M507 1487.9V1496.9"/>
<path d="M515.1 1487.9V1496.9"/>
<path d="M523.2 1487.9V1496.9"/>
<path d="M531.3 1487.9V1496.9"/>
<path d="M430 1491.9H438V1495.9"/>
<path d="M454 1491.9H462V1495.9"/>
<path d="M478 1491.9H486V1495.9"/>
<path d="M502 1491.9H510V1495.9"/>
<path d="M424 1525.9V1516.9H534V1525.9"/>
<path d="M424 1541.9H534"/>
<path d="M426 1516.9V1525.9"/>
<path d="M434.1 1516.9V1525.9"/>
<path d="M442.2 1516.9V1525.9"/>
<path d="M450.3 1516.9V1525.9"/>
<path d="M458.4 1516.9V1525.9"/>
<path d="M466.5 1516.9V1525.9"/>
<path d="M474.6 1516.9V1525.9"/>
<path d="M482.7 1516.9V1525.9"/>
<path d="M490.8 1516.9V1525.9"/>
<path d="M498.9 1516.9V1525.9"/>
<path d="M507 1516.9V1525.9"/>
<path d="M515.1 1516.9V1525.9"/>
<path d="M523.2 1516.9V1525.9"/>
<path d="M531.3 1516.9V1525.9"/>
<path d="M430 1520.9H438V1524.9"/>
<path d="M454 1520.9H462V1524.9"/>
<path d="M478 1520.9H486V1524.9"/>
<path d="M502 1520.9H510V1524.9"/>
</g>
<g fill="none" stroke="#cf98a6" stroke-width="0.8">
<path d="M427 1307.3V1301.3H437V1298.3H450V1301.3H462V1298.3H476V1301.3H488V1298.3H500V1301.3H512V1298.3H530V1307.3"/>
<path d="M440 1304.3H470V1307.3M490 1304.3H520V1307.3"/>
<path d="M427 1332V1326H437V1323H450V1326H462V1323H476V1326H488V1323H500V1326H512V1323H530V1332"/>
<path d="M440 1329H470V1332M490 1329H520V1332"/>
<path d="M427 1356.1V1350.1H437V1347.1H450V1350.1H462V1347.1H476V1350.1H488V1347.1H500V1350.1H512V1347.1H530V1356.1"/>
<path d="M440 1353.1H470V1356.1M490 1353.1H520V1356.1"/>
<path d="M427 1381.2V1375.2H437V1372.2H450V1375.2H462V1372.2H476V1375.2H488V1372.2H500V1375.2H512V1372.2H530V1381.2"/>
<path d="M440 1378.2H470V1381.2M490 1378.2H520V1381.2"/>
<path d="M427 1406V1400H437V1397H450V1400H462V1397H476V1400H488V1397H500V1400H512V1397H530V1406"/>
<path d="M440 1403H470V1406M490 1403H520V1406"/>
<path d="M427 1430.3V1424.3H437V1421.3H450V1424.3H462V1421.3H476V1424.3H488V1421.3H500V1424.3H512V1421.3H530V1430.3"/>
<path d="M440 1427.3H470V1430.3M490 1427.3H520V1430.3"/>
<path d="M427 1455.3V1449.3H437V1446.3H450V1449.3H462V1446.3H476V1449.3H488V1446.3H500V1449.3H512V1446.3H530V1455.3"/>
<path d="M440 1452.3H470V1455.3M490 1452.3H520V1455.3"/>
<path d="M427 1480.1V1474.1H437V1471.1H450V1474.1H462V1471.1H476V1474.1H488V1471.1H500V1474.1H512V1471.1H530V1480.1"/>
<path d="M440 1477.1H470V1480.1M490 1477.1H520V1480.1"/>
<path d="M427 1506.9V1500.9H437V1497.9H450V1500.9H462V1497.9H476V1500.9H488V1497.9H500V1500.9H512V1497.9H530V1506.9"/>
<path d="M440 1503.9H470V1506.9M490 1503.9H520V1506.9"/>
<path d="M427 1535.9V1529.9H437V1526.9H450V1529.9H462V1526.9H476V1529.9H488V1526.9H500V1529.9H512V1526.9H530V1535.9"/>
<path d="M440 1532.9H470V1535.9M490 1532.9H520V1535.9"/>
</g>
<rect x="425.5" y="1307.65" width="3.3" height="3.3" fill="#f2f3f6"/>
<rect x="431.67" y="1307.65" width="3.3" height="3.3" fill="#f2f3f6"/>
<rect x="437.84" y="1307.65" width="3.3" height="3.3" fill="#f2f3f6"/>
<rect x="444.01" y="1307.65" width="3.3" height="3.3" fill="#f2f3f6"/>
<rect x="450.18" y="1307.65" width="3.3" height="3.3" fill="#f2f3f6"/>
<rect x="456.35" y="1307.65" width="3.3" height="3.3" fill="#f2f3f6"/>
<rect x="462.52" y="1307.65" width="3.3" height="3.3" fill="#f2f3f6"/>
<rect x="468.69" y="1307.65" width="3.3" height="3.3" fill="#f2f3f6"/>
<rect x="474.86" y="1307.65" width="3.3" height="3.3" fill="#f2f3f6"/>
<rect x="481.03" y="1307.65" width="3.3" height="3.3" fill="#f2f3f6"/>
<rect x="487.2" y="1307.65" width="3.3" height="3.3" fill="#f2f3f6"/>
<rect x="493.37" y="1307.65" width="3.3" height="3.3" fill="#f2f3f6"/>
<rect x="499.54" y="1307.65" width="3.3" height="3.3" fill="#f2f3f6"/>
<rect x="505.71" y="1307.65" width="3.3" height="3.3" fill="#f2f3f6"/>
<rect x="511.88" y="1307.65" width="3.3" height="3.3" fill="#f2f3f6"/>
<rect x="518.05" y="1307.65" width="3.3" height="3.3" fill="#f2f3f6"/>
<rect x="524.22" y="1307.65" width="3.3" height="3.3" fill="#f2f3f6"/>
<rect x="530.39" y="1307.65" width="3.3" height="3.3" fill="#f2f3f6"/>
<rect x="425.5" y="1332.35" width="3.3" height="3.3" fill="#f2f3f6"/>
<rect x="431.67" y="1332.35" width="3.3" height="3.3" fill="#f2f3f6"/>
<rect x="437.84" y="1332.35" width="3.3" height="3.3" fill="#f2f3f6"/>
<rect x="444.01" y="1332.35" width="3.3" height="3.3" fill="#f2f3f6"/>
<rect x="450.18" y="1332.35" width="3.3" height="3.3" fill="#f2f3f6"/>
<rect x="456.35" y="1332.35" width="3.3" height="3.3" fill="#f2f3f6"/>
<rect x="462.52" y="1332.35" width="3.3" height="3.3" fill="#f2f3f6"/>
<rect x="468.69" y="1332.35" width="3.3" height="3.3" fill="#f2f3f6"/>
<rect x="474.86" y="1332.35" width="3.3" height="3.3" fill="#f2f3f6"/>
<rect x="481.03" y="1332.35" width="3.3" height="3.3" fill="#f2f3f6"/>
<rect x="487.2" y="1332.35" width="3.3" height="3.3" fill="#f2f3f6"/>
<rect x="493.37" y="1332.35" width="3.3" height="3.3" fill="#f2f3f6"/>
<rect x="499.54" y="1332.35" width="3.3" height="3.3" fill="#f2f3f6"/>
<rect x="505.71" y="1332.35" width="3.3" height="3.3" fill="#f2f3f6"/>
<rect x="511.88" y="1332.35" width="3.3" height="3.3" fill="#f2f3f6"/>
<rect x="518.05" y="1332.35" width="3.3" height="3.3" fill="#f2f3f6"/>
<rect x="524.22" y="1332.35" width="3.3" height="3.3" fill="#f2f3f6"/>
<rect x="530.39" y="1332.35" width="3.3" height="3.3" fill="#f2f3f6"/>
<rect x="425.5" y="1356.45" width="3.3" height="3.3" fill="#f2f3f6"/>
<rect x="431.67" y="1356.45" width="3.3" height="3.3" fill="#f2f3f6"/>
<rect x="437.84" y="1356.45" width="3.3" height="3.3" fill="#f2f3f6"/>
<rect x="444.01" y="1356.45" width="3.3" height="3.3" fill="#f2f3f6"/>
<rect x="450.18" y="1356.45" width="3.3" height="3.3" fill="#f2f3f6"/>
<rect x="456.35" y="1356.45" width="3.3" height="3.3" fill="#f2f3f6"/>
<rect x="462.52" y="1356.45" width="3.3" height="3.3" fill="#f2f3f6"/>
<rect x="468.69" y="1356.45" width="3.3" height="3.3" fill="#f2f3f6"/>
<rect x="474.86" y="1356.45" width="3.3" height="3.3" fill="#f2f3f6"/>
<rect x="481.03" y="1356.45" width="3.3" height="3.3" fill="#f2f3f6"/>
<rect x="487.2" y="1356.45" width="3.3" height="3.3" fill="#f2f3f6"/>
<rect x="493.37" y="1356.45" width="3.3" height="3.3" fill="#f2f3f6"/>
<rect x="499.54" y="1356.45" width="3.3" height="3.3" fill="#f2f3f6"/>
<rect x="505.71" y="1356.45" width="3.3" height="3.3" fill="#f2f3f6"/>
<rect x="511.88" y="1356.45" width="3.3" height="3.3" fill="#f2f3f6"/>
<rect x="518.05" y="1356.45" width="3.3" height="3.3" fill="#f2f3f6"/>
<rect x="524.22" y="1356.45" width="3.3" height="3.3" fill="#f2f3f6"/>
<rect x="530.39" y="1356.45" width="3.3" height="3.3" fill="#f2f3f6"/>
<rect x="425.5" y="1381.55" width="3.3" height="3.3" fill="#f2f3f6"/>
<rect x="431.67" y="1381.55" width="3.3" height="3.3" fill="#f2f3f6"/>
<rect x="437.84" y="1381.55" width="3.3" height="3.3" fill="#f2f3f6"/>
<rect x="444.01" y="1381.55" width="3.3" height="3.3" fill="#f2f3f6"/>
<rect x="450.18" y="1381.55" width="3.3" height="3.3" fill="#f2f3f6"/>
<rect x="456.35" y="1381.55" width="3.3" height="3.3" fill="#f2f3f6"/>
<rect x="462.52" y="1381.55" width="3.3" height="3.3" fill="#f2f3f6"/>
<rect x="468.69" y="1381.55" width="3.3" height="3.3" fill="#f2f3f6"/>
<rect x="474.86" y="1381.55" width="3.3" height="3.3" fill="#f2f3f6"/>
<rect x="481.03" y="1381.55" width="3.3" height="3.3" fill="#f2f3f6"/>
<rect x="487.2" y="1381.55" width="3.3" height="3.3" fill="#f2f3f6"/>
<rect x="493.37" y="1381.55" width="3.3" height="3.3" fill="#f2f3f6"/>
<rect x="499.54" y="1381.55" width="3.3" height="3.3" fill="#f2f3f6"/>
<rect x="505.71" y="1381.55" width="3.3" height="3.3" fill="#f2f3f6"/>
<rect x="511.88" y="1381.55" width="3.3" height="3.3" fill="#f2f3f6"/>
<rect x="518.05" y="1381.55" width="3.3" height="3.3" fill="#f2f3f6"/>
<rect x="524.22" y="1381.55" width="3.3" height="3.3" fill="#f2f3f6"/>
<rect x="530.39" y="1381.55" width="3.3" height="3.3" fill="#f2f3f6"/>
<rect x="425.5" y="1406.35" width="3.3" height="3.3" fill="#f2f3f6"/>
<rect x="431.67" y="1406.35" width="3.3" height="3.3" fill="#f2f3f6"/>
<rect x="437.84" y="1406.35" width="3.3" height="3.3" fill="#f2f3f6"/>
<rect x="444.01" y="1406.35" width="3.3" height="3.3" fill="#f2f3f6"/>
<rect x="450.18" y="1406.35" width="3.3" height="3.3" fill="#f2f3f6"/>
<rect x="456.35" y="1406.35" width="3.3" height="3.3" fill="#f2f3f6"/>
<rect x="462.52" y="1406.35" width="3.3" height="3.3" fill="#f2f3f6"/>
<rect x="468.69" y="1406.35" width="3.3" height="3.3" fill="#f2f3f6"/>
<rect x="474.86" y="1406.35" width="3.3" height="3.3" fill="#f2f3f6"/>
<rect x="481.03" y="1406.35" width="3.3" height="3.3" fill="#f2f3f6"/>
<rect x="487.2" y="1406.35" width="3.3" height="3.3" fill="#f2f3f6"/>
<rect x="493.37" y="1406.35" width="3.3" height="3.3" fill="#f2f3f6"/>
<rect x="499.54" y="1406.35" width="3.3" height="3.3" fill="#f2f3f6"/>
<rect x="505.71" y="1406.35" width="3.3" height="3.3" fill="#f2f3f6"/>
<rect x="511.88" y="1406.35" width="3.3" height="3.3" fill="#f2f3f6"/>
<rect x="518.05" y="1406.35" width="3.3" height="3.3" fill="#f2f3f6"/>
<rect x="524.22" y="1406.35" width="3.3" height="3.3" fill="#f2f3f6"/>
<rect x="530.39" y="1406.35" width="3.3" height="3.3" fill="#f2f3f6"/>
<rect x="425.5" y="1430.65" width="3.3" height="3.3" fill="#f2f3f6"/>
<rect x="431.67" y="1430.65" width="3.3" height="3.3" fill="#f2f3f6"/>
<rect x="437.84" y="1430.65" width="3.3" height="3.3" fill="#f2f3f6"/>
<rect x="444.01" y="1430.65" width="3.3" height="3.3" fill="#f2f3f6"/>
<rect x="450.18" y="1430.65" width="3.3" height="3.3" fill="#f2f3f6"/>
<rect x="456.35" y="1430.65" width="3.3" height="3.3" fill="#f2f3f6"/>
<rect x="462.52" y="1430.65" width="3.3" height="3.3" fill="#f2f3f6"/>
<rect x="468.69" y="1430.65" width="3.3" height="3.3" fill="#f2f3f6"/>
<rect x="474.86" y="1430.65" width="3.3" height="3.3" fill="#f2f3f6"/>
<rect x="481.03" y="1430.65" width="3.3" height="3.3" fill="#f2f3f6"/>
<rect x="487.2" y="1430.65" width="3.3" height="3.3" fill="#f2f3f6"/>
<rect x="493.37" y="1430.65" width="3.3" height="3.3" fill="#f2f3f6"/>
<rect x="499.54" y="1430.65" width="3.3" height="3.3" fill="#f2f3f6"/>
<rect x="505.71" y="1430.65" width="3.3" height="3.3" fill="#f2f3f6"/>
<rect x="511.88" y="1430.65" width="3.3" height="3.3" fill="#f2f3f6"/>
<rect x="518.05" y="1430.65" width="3.3" height="3.3" fill="#f2f3f6"/>
<rect x="524.22" y="1430.65" width="3.3" height="3.3" fill="#f2f3f6"/>
<rect x="530.39" y="1430.65" width="3.3" height="3.3" fill="#f2f3f6"/>
<rect x="425.5" y="1455.65" width="3.3" height="3.3" fill="#f2f3f6"/>
<rect x="431.67" y="1455.65" width="3.3" height="3.3" fill="#f2f3f6"/>
<rect x="437.84" y="1455.65" width="3.3" height="3.3" fill="#f2f3f6"/>
<rect x="444.01" y="1455.65" width="3.3" height="3.3" fill="#f2f3f6"/>
<rect x="450.18" y="1455.65" width="3.3" height="3.3" fill="#f2f3f6"/>
<rect x="456.35" y="1455.65" width="3.3" height="3.3" fill="#f2f3f6"/>
<rect x="462.52" y="1455.65" width="3.3" height="3.3" fill="#f2f3f6"/>
<rect x="468.69" y="1455.65" width="3.3" height="3.3" fill="#f2f3f6"/>
<rect x="474.86" y="1455.65" width="3.3" height="3.3" fill="#f2f3f6"/>
<rect x="481.03" y="1455.65" width="3.3" height="3.3" fill="#f2f3f6"/>
<rect x="487.2" y="1455.65" width="3.3" height="3.3" fill="#f2f3f6"/>
<rect x="493.37" y="1455.65" width="3.3" height="3.3" fill="#f2f3f6"/>
<rect x="499.54" y="1455.65" width="3.3" height="3.3" fill="#f2f3f6"/>
<rect x="505.71" y="1455.65" width="3.3" height="3.3" fill="#f2f3f6"/>
<rect x="511.88" y="1455.65" width="3.3" height="3.3" fill="#f2f3f6"/>
<rect x="518.05" y="1455.65" width="3.3" height="3.3" fill="#f2f3f6"/>
<rect x="524.22" y="1455.65" width="3.3" height="3.3" fill="#f2f3f6"/>
<rect x="530.39" y="1455.65" width="3.3" height="3.3" fill="#f2f3f6"/>
<rect x="425.5" y="1480.45" width="3.3" height="3.3" fill="#f2f3f6"/>
<rect x="431.67" y="1480.45" width="3.3" height="3.3" fill="#f2f3f6"/>
<rect x="437.84" y="1480.45" width="3.3" height="3.3" fill="#f2f3f6"/>
<rect x="444.01" y="1480.45" width="3.3" height="3.3" fill="#f2f3f6"/>
<rect x="450.18" y="1480.45" width="3.3" height="3.3" fill="#f2f3f6"/>
<rect x="456.35" y="1480.45" width="3.3" height="3.3" fill="#f2f3f6"/>
<rect x="462.52" y="1480.45" width="3.3" height="3.3" fill="#f2f3f6"/>
<rect x="468.69" y="1480.45" width="3.3" height="3.3" fill="#f2f3f6"/>
<rect x="474.86" y="1480.45" width="3.3" height="3.3" fill="#f2f3f6"/>
<rect x="481.03" y="1480.45" width="3.3" height="3.3" fill="#f2f3f6"/>
<rect x="487.2" y="1480.45" width="3.3" height="3.3" fill="#f2f3f6"/>
<rect x="493.37" y="1480.45" width="3.3" height="3.3" fill="#f2f3f6"/>
<rect x="499.54" y="1480.45" width="3.3" height="3.3" fill="#f2f3f6"/>
<rect x="505.71" y="1480.45" width="3.3" height="3.3" fill="#f2f3f6"/>
<rect x="511.88" y="1480.45" width="3.3" height="3.3" fill="#f2f3f6"/>
<rect x="518.05" y="1480.45" width="3.3" height="3.3" fill="#f2f3f6"/>
<rect x="524.22" y="1480.45" width="3.3" height="3.3" fill="#f2f3f6"/>
<rect x="530.39" y="1480.45" width="3.3" height="3.3" fill="#f2f3f6"/>
<rect x="425.5" y="1507.25" width="3.3" height="3.3" fill="#f2f3f6"/>
<rect x="431.67" y="1507.25" width="3.3" height="3.3" fill="#f2f3f6"/>
<rect x="437.84" y="1507.25" width="3.3" height="3.3" fill="#f2f3f6"/>
<rect x="444.01" y="1507.25" width="3.3" height="3.3" fill="#f2f3f6"/>
<rect x="450.18" y="1507.25" width="3.3" height="3.3" fill="#f2f3f6"/>
<rect x="456.35" y="1507.25" width="3.3" height="3.3" fill="#f2f3f6"/>
<rect x="462.52" y="1507.25" width="3.3" height="3.3" fill="#f2f3f6"/>
<rect x="468.69" y="1507.25" width="3.3" height="3.3" fill="#f2f3f6"/>
<rect x="474.86" y="1507.25" width="3.3" height="3.3" fill="#f2f3f6"/>
<rect x="481.03" y="1507.25" width="3.3" height="3.3" fill="#f2f3f6"/>
<rect x="487.2" y="1507.25" width="3.3" height="3.3" fill="#f2f3f6"/>
<rect x="493.37" y="1507.25" width="3.3" height="3.3" fill="#f2f3f6"/>
<rect x="499.54" y="1507.25" width="3.3" height="3.3" fill="#f2f3f6"/>
<rect x="505.71" y="1507.25" width="3.3" height="3.3" fill="#f2f3f6"/>
<rect x="511.88" y="1507.25" width="3.3" height="3.3" fill="#f2f3f6"/>
<rect x="518.05" y="1507.25" width="3.3" height="3.3" fill="#f2f3f6"/>
<rect x="524.22" y="1507.25" width="3.3" height="3.3" fill="#f2f3f6"/>
<rect x="530.39" y="1507.25" width="3.3" height="3.3" fill="#f2f3f6"/>
<rect x="425.5" y="1536.25" width="3.3" height="3.3" fill="#f2f3f6"/>
<rect x="431.67" y="1536.25" width="3.3" height="3.3" fill="#f2f3f6"/>
<rect x="437.84" y="1536.25" width="3.3" height="3.3" fill="#f2f3f6"/>
<rect x="444.01" y="1536.25" width="3.3" height="3.3" fill="#f2f3f6"/>
<rect x="450.18" y="1536.25" width="3.3" height="3.3" fill="#f2f3f6"/>
<rect x="456.35" y="1536.25" width="3.3" height="3.3" fill="#f2f3f6"/>
<rect x="462.52" y="1536.25" width="3.3" height="3.3" fill="#f2f3f6"/>
<rect x="468.69" y="1536.25" width="3.3" height="3.3" fill="#f2f3f6"/>
<rect x="474.86" y="1536.25" width="3.3" height="3.3" fill="#f2f3f6"/>
<rect x="481.03" y="1536.25" width="3.3" height="3.3" fill="#f2f3f6"/>
<rect x="487.2" y="1536.25" width="3.3" height="3.3" fill="#f2f3f6"/>
<rect x="493.37" y="1536.25" width="3.3" height="3.3" fill="#f2f3f6"/>
<rect x="499.54" y="1536.25" width="3.3" height="3.3" fill="#f2f3f6"/>
<rect x="505.71" y="1536.25" width="3.3" height="3.3" fill="#f2f3f6"/>
<rect x="511.88" y="1536.25" width="3.3" height="3.3" fill="#f2f3f6"/>
<rect x="518.05" y="1536.25" width="3.3" height="3.3" fill="#f2f3f6"/>
<rect x="524.22" y="1536.25" width="3.3" height="3.3" fill="#f2f3f6"/>
<rect x="530.39" y="1536.25" width="3.3" height="3.3" fill="#f2f3f6"/>
<g fill="none" stroke="#6f74aa" stroke-width="1.3">
<path d="M538 1300H560M538 1300V1412H560M541 1312H558V1400H541ZM541 1325H558M541 1338H558M541 1351H558M541 1364H558M541 1377H558M541 1390H558"/>
<path d="M536 1240H548V1290M545 1200V1236"/>
</g>
<rect x="538" y="1432.7" width="21.6" height="36.2" fill="#8289bb"/>
<ellipse cx="549" cy="1450.8" rx="8.5" ry="16" fill="none" stroke="#e8eaf4" stroke-width="1.2"/>
<text transform="translate(552.5 1450.8) rotate(-90)" text-anchor="middle" font-size="7.5" font-weight="bold" fill="#f0f0f8" textLength="24" lengthAdjust="spacingAndGlyphs">DARPA</text>
<rect x="537.3" y="1514.2" width="22.3" height="30.6" fill="#8289bb"/>
<path d="M543 1530H550M546.5 1524V1537M543 1537H550" stroke="#e8eaf4" stroke-width="1.2" fill="none"/>
<path d="M554 1520V1542M557 1520V1542" stroke="#c8cce4" stroke-width="0.8" fill="none"/>
<g fill="none" stroke="#7378ac" stroke-width="1.2">
<path d="M246 1549V1530H256V1528H345V1530H354V1549M264 1532V1549M272 1532V1549M280 1532V1549M288 1532V1549M296 1532V1549M304 1532V1549M312 1532V1549M320 1532V1549M328 1532V1549M336 1532V1549M256 1534H345"/>
<circle cx="188" cy="1525" r="6"/><circle cx="363" cy="1525" r="6"/><circle cx="204" cy="1528" r="3.5"/><circle cx="379" cy="1528" r="3.5"/>
<path d="M182 1549V1534H192V1549M185 1536V1547M189 1536V1547"/>
<path d="M198 1549V1534H208V1549M201 1536V1547M205 1536V1547"/>
<path d="M214 1549V1534H224V1549M217 1536V1547M221 1536V1547"/>
<path d="M232 1549V1534H242V1549M235 1536V1547M239 1536V1547"/>
<path d="M357 1549V1534H367V1549M360 1536V1547M364 1536V1547"/>
<path d="M373 1549V1534H383V1549M376 1536V1547M380 1536V1547"/>
<path d="M389 1549V1534H399V1549M392 1536V1547M396 1536V1547"/>
<path d="M407 1549V1534H417V1549M410 1536V1547M414 1536V1547"/>
<path d="M200 1514V1526"/>
<path d="M224 1514V1526"/>
<path d="M248 1514V1526"/>
<path d="M272 1514V1526"/>
<path d="M296 1514V1526"/>
<path d="M320 1514V1526"/>
<path d="M344 1514V1526"/>
<path d="M368 1514V1526"/>
<path d="M392 1514V1526"/>
<path d="M416 1514V1526"/>
</g>
<g fill="none" stroke="#7378ac" stroke-width="1.3">
<path d="M40 1322H62V1410H40M40 1332H58M40 1342H58M40 1352H58M40 1362H58M40 1372H58M40 1382H58M40 1392H58M40 1402H58M62 1330H70V1402H62"/>
</g>
<rect x="81.7" y="1218.8" width="65.6" height="24.8" fill="#8f95a3" stroke="#aaa6b6" stroke-width="0.8"/>
<rect x="81.7" y="1262.5" width="92.3" height="31.8" fill="#8f95a3" stroke="#aaa6b6" stroke-width="0.8"/>
<rect x="93.7" y="1218.8" width="12.9" height="24.8" fill="#a9a6b2"/>
<rect x="114.5" y="1262.5" width="19" height="31.8" fill="#a9a6b2"/>
<g stroke="#c9a5b0" stroke-width="0.7" fill="none">
<path d="M95 1219V1243"/>
<path d="M116 1263V1294"/>
<path d="M76 1246.5H114"/>
<path d="M97.1 1219V1243"/>
<path d="M119 1263V1294"/>
<path d="M76 1249.3H114"/>
<path d="M99.2 1219V1243"/>
<path d="M122 1263V1294"/>
<path d="M76 1252.1H114"/>
<path d="M101.3 1219V1243"/>
<path d="M125 1263V1294"/>
<path d="M76 1254.9H114"/>
<path d="M103.4 1219V1243"/>
<path d="M128 1263V1294"/>
<path d="M76 1257.7H114"/>
<path d="M105.5 1219V1243"/>
<path d="M131 1263V1294"/>
<path d="M76 1260.5H114"/>
<path d="M54 1207H78 V1246"/>
<path d="M76 1197V1216H82"/>
<path d="M82 1290V1296"/>
<path d="M54 1219.3H78.5 V1248"/>
<path d="M88.04 1197V1216H94.04"/>
<path d="M94.04 1290V1296"/>
<path d="M54 1231.6H79 V1250"/>
<path d="M100.08 1197V1216H106.08"/>
<path d="M106.08 1290V1296"/>
<path d="M54 1243.9H79.5 V1252"/>
<path d="M112.12 1197V1216H118.12"/>
<path d="M118.12 1290V1296"/>
<path d="M54 1256.2H80 V1254"/>
<path d="M124.16 1197V1216H130.16"/>
<path d="M130.16 1290V1296"/>
<path d="M54 1268.5H80.5 V1256"/>
<path d="M136.2 1197V1216H142.2"/>
<path d="M142.2 1290V1296"/>
<path d="M54 1280.8H81 V1258"/>
<path d="M148.24 1197V1216H154.24"/>
<path d="M154.24 1290V1296"/>
<path d="M54 1293.1H81.5 V1260"/>
<path d="M160.28 1197V1216H166.28"/>
<path d="M166.28 1290V1296"/>
<path d="M125 1263H174V1315"/>
<path d="M140 1216H147V1244"/>
</g>
<rect x="107.5" y="1230.2" width="25.5" height="11.3" fill="#7c80b6"/>
<rect x="107.5" y="1230.2" width="25.5" height="1.5" fill="#5f6490"/>
<rect x="114.5" y="1243.6" width="10" height="19" fill="#b88f9f"/>
<rect x="103" y="1243" width="30" height="1.4" fill="#d49a9c"/>
<rect x="115" y="1262" width="20" height="1.4" fill="#d49a9c"/>
<path d="M102 1266H145" stroke="#6f74aa" stroke-width="1.8"/>
<rect x="72.9" y="1186" width="6" height="11.5" fill="#fbfbfb"/>
<rect x="84.94" y="1186" width="6" height="11.5" fill="#fbfbfb"/>
<rect x="96.98" y="1186" width="6" height="11.5" fill="#fbfbfb"/>
<rect x="109.02" y="1186" width="6" height="11.5" fill="#fbfbfb"/>
<rect x="121.06" y="1186" width="6" height="11.5" fill="#fbfbfb"/>
<rect x="133.1" y="1186" width="6" height="11.5" fill="#fbfbfb"/>
<rect x="145.14" y="1186" width="6" height="11.5" fill="#fbfbfb"/>
<rect x="157.18" y="1186" width="6" height="11.5" fill="#fbfbfb"/>
<rect x="78.9" y="1204" width="6" height="12" fill="#fbfbfb"/>
<rect x="90.94" y="1204" width="6" height="12" fill="#fbfbfb"/>
<rect x="102.98" y="1204" width="6" height="12" fill="#fbfbfb"/>
<rect x="115.02" y="1204" width="6" height="12" fill="#fbfbfb"/>
<rect x="127.06" y="1204" width="6" height="12" fill="#fbfbfb"/>
<rect x="139.1" y="1204" width="6" height="12" fill="#fbfbfb"/>
<rect x="151.14" y="1204" width="6" height="12" fill="#fbfbfb"/>
<rect x="163.18" y="1204" width="6" height="12" fill="#fbfbfb"/>
<rect x="42" y="1204" width="12" height="6" fill="#fbfbfb"/>
<rect x="42" y="1216.3" width="12" height="6" fill="#fbfbfb"/>
<rect x="42" y="1228.6" width="12" height="6" fill="#fbfbfb"/>
<rect x="42" y="1240.9" width="12" height="6" fill="#fbfbfb"/>
<rect x="42" y="1253.2" width="12" height="6" fill="#fbfbfb"/>
<rect x="42" y="1265.5" width="12" height="6" fill="#fbfbfb"/>
<rect x="42" y="1277.8" width="12" height="6" fill="#fbfbfb"/>
<rect x="42" y="1290.1" width="12" height="6" fill="#fbfbfb"/>
<rect x="60" y="1210" width="12.5" height="6" fill="#fbfbfb"/>
<rect x="60" y="1222.3" width="12.5" height="6" fill="#fbfbfb"/>
<rect x="60" y="1234.6" width="12.5" height="6" fill="#fbfbfb"/>
<rect x="60" y="1246.9" width="12.5" height="6" fill="#fbfbfb"/>
<rect x="60" y="1259.2" width="12.5" height="6" fill="#fbfbfb"/>
<rect x="60" y="1271.5" width="12.5" height="6" fill="#fbfbfb"/>
<rect x="60" y="1283.8" width="12.5" height="6" fill="#fbfbfb"/>
<rect x="60" y="1296.1" width="12.5" height="6" fill="#fbfbfb"/>
<rect x="78.9" y="1296.4" width="6" height="12" fill="#fbfbfb"/>
<rect x="90.94" y="1296.4" width="6" height="12" fill="#fbfbfb"/>
<rect x="102.98" y="1296.4" width="6" height="12" fill="#fbfbfb"/>
<rect x="115.02" y="1296.4" width="6" height="12" fill="#fbfbfb"/>
<rect x="127.06" y="1296.4" width="6" height="12" fill="#fbfbfb"/>
<rect x="139.1" y="1296.4" width="6" height="12" fill="#fbfbfb"/>
<rect x="151.14" y="1296.4" width="6" height="12" fill="#fbfbfb"/>
<rect x="163.18" y="1296.4" width="6" height="12" fill="#fbfbfb"/>
<rect x="72.9" y="1315.2" width="6" height="12" fill="#fbfbfb"/>
<rect x="84.94" y="1315.2" width="6" height="12" fill="#fbfbfb"/>
<rect x="96.98" y="1315.2" width="6" height="12" fill="#fbfbfb"/>
<rect x="109.02" y="1315.2" width="6" height="12" fill="#fbfbfb"/>
<rect x="121.06" y="1315.2" width="6" height="12" fill="#fbfbfb"/>
<rect x="133.1" y="1315.2" width="6" height="12" fill="#fbfbfb"/>
<rect x="145.14" y="1315.2" width="6" height="12" fill="#fbfbfb"/>
<rect x="157.18" y="1315.2" width="6" height="12" fill="#fbfbfb"/>
<rect x="169.22" y="1315.2" width="6" height="12" fill="#fbfbfb"/>
<rect x="81.7" y="1439.8" width="65.6" height="24.8" fill="#8f95a3" stroke="#aaa6b6" stroke-width="0.8"/>
<rect x="81.7" y="1483.5" width="92.3" height="31.8" fill="#8f95a3" stroke="#aaa6b6" stroke-width="0.8"/>
<rect x="93.7" y="1439.8" width="12.9" height="24.8" fill="#a9a6b2"/>
<rect x="114.5" y="1483.5" width="19" height="31.8" fill="#a9a6b2"/>
<g stroke="#c9a5b0" stroke-width="0.7" fill="none">
<path d="M95 1440V1464"/>
<path d="M116 1484V1515"/>
<path d="M76 1467.5H114"/>
<path d="M97.1 1440V1464"/>
<path d="M119 1484V1515"/>
<path d="M76 1470.3H114"/>
<path d="M99.2 1440V1464"/>
<path d="M122 1484V1515"/>
<path d="M76 1473.1H114"/>
<path d="M101.3 1440V1464"/>
<path d="M125 1484V1515"/>
<path d="M76 1475.9H114"/>
<path d="M103.4 1440V1464"/>
<path d="M128 1484V1515"/>
<path d="M76 1478.7H114"/>
<path d="M105.5 1440V1464"/>
<path d="M131 1484V1515"/>
<path d="M76 1481.5H114"/>
<path d="M54 1428H78 V1467"/>
<path d="M76 1418V1437H82"/>
<path d="M82 1511V1517"/>
<path d="M54 1440.3H78.5 V1469"/>
<path d="M88.04 1418V1437H94.04"/>
<path d="M94.04 1511V1517"/>
<path d="M54 1452.6H79 V1471"/>
<path d="M100.08 1418V1437H106.08"/>
<path d="M106.08 1511V1517"/>
<path d="M54 1464.9H79.5 V1473"/>
<path d="M112.12 1418V1437H118.12"/>
<path d="M118.12 1511V1517"/>
<path d="M54 1477.2H80 V1475"/>
<path d="M124.16 1418V1437H130.16"/>
<path d="M130.16 1511V1517"/>
<path d="M54 1489.5H80.5 V1477"/>
<path d="M136.2 1418V1437H142.2"/>
<path d="M142.2 1511V1517"/>
<path d="M54 1501.8H81 V1479"/>
<path d="M148.24 1418V1437H154.24"/>
<path d="M154.24 1511V1517"/>
<path d="M54 1514.1H81.5 V1481"/>
<path d="M160.28 1418V1437H166.28"/>
<path d="M166.28 1511V1517"/>
<path d="M125 1484H174V1536"/>
<path d="M140 1437H147V1465"/>
</g>
<rect x="107.5" y="1451.2" width="25.5" height="11.3" fill="#7c80b6"/>
<rect x="107.5" y="1451.2" width="25.5" height="1.5" fill="#5f6490"/>
<rect x="114.5" y="1464.6" width="10" height="19" fill="#b88f9f"/>
<rect x="103" y="1464" width="30" height="1.4" fill="#d49a9c"/>
<rect x="115" y="1483" width="20" height="1.4" fill="#d49a9c"/>
<path d="M102 1487H145" stroke="#6f74aa" stroke-width="1.8"/>
<rect x="72.9" y="1407" width="6" height="11.5" fill="#fbfbfb"/>
<rect x="84.94" y="1407" width="6" height="11.5" fill="#fbfbfb"/>
<rect x="96.98" y="1407" width="6" height="11.5" fill="#fbfbfb"/>
<rect x="109.02" y="1407" width="6" height="11.5" fill="#fbfbfb"/>
<rect x="121.06" y="1407" width="6" height="11.5" fill="#fbfbfb"/>
<rect x="133.1" y="1407" width="6" height="11.5" fill="#fbfbfb"/>
<rect x="145.14" y="1407" width="6" height="11.5" fill="#fbfbfb"/>
<rect x="157.18" y="1407" width="6" height="11.5" fill="#fbfbfb"/>
<rect x="78.9" y="1425" width="6" height="12" fill="#fbfbfb"/>
<rect x="90.94" y="1425" width="6" height="12" fill="#fbfbfb"/>
<rect x="102.98" y="1425" width="6" height="12" fill="#fbfbfb"/>
<rect x="115.02" y="1425" width="6" height="12" fill="#fbfbfb"/>
<rect x="127.06" y="1425" width="6" height="12" fill="#fbfbfb"/>
<rect x="139.1" y="1425" width="6" height="12" fill="#fbfbfb"/>
<rect x="151.14" y="1425" width="6" height="12" fill="#fbfbfb"/>
<rect x="163.18" y="1425" width="6" height="12" fill="#fbfbfb"/>
<rect x="42" y="1425" width="12" height="6" fill="#fbfbfb"/>
<rect x="42" y="1437.3" width="12" height="6" fill="#fbfbfb"/>
<rect x="42" y="1449.6" width="12" height="6" fill="#fbfbfb"/>
<rect x="42" y="1461.9" width="12" height="6" fill="#fbfbfb"/>
<rect x="42" y="1474.2" width="12" height="6" fill="#fbfbfb"/>
<rect x="42" y="1486.5" width="12" height="6" fill="#fbfbfb"/>
<rect x="42" y="1498.8" width="12" height="6" fill="#fbfbfb"/>
<rect x="42" y="1511.1" width="12" height="6" fill="#fbfbfb"/>
<rect x="60" y="1431" width="12.5" height="6" fill="#fbfbfb"/>
<rect x="60" y="1443.3" width="12.5" height="6" fill="#fbfbfb"/>
<rect x="60" y="1455.6" width="12.5" height="6" fill="#fbfbfb"/>
<rect x="60" y="1467.9" width="12.5" height="6" fill="#fbfbfb"/>
<rect x="60" y="1480.2" width="12.5" height="6" fill="#fbfbfb"/>
<rect x="60" y="1492.5" width="12.5" height="6" fill="#fbfbfb"/>
<rect x="60" y="1504.8" width="12.5" height="6" fill="#fbfbfb"/>
<rect x="60" y="1517.1" width="12.5" height="6" fill="#fbfbfb"/>
<rect x="78.9" y="1517.4" width="6" height="12" fill="#fbfbfb"/>
<rect x="90.94" y="1517.4" width="6" height="12" fill="#fbfbfb"/>
<rect x="102.98" y="1517.4" width="6" height="12" fill="#fbfbfb"/>
<rect x="115.02" y="1517.4" width="6" height="12" fill="#fbfbfb"/>
<rect x="127.06" y="1517.4" width="6" height="12" fill="#fbfbfb"/>
<rect x="139.1" y="1517.4" width="6" height="12" fill="#fbfbfb"/>
<rect x="151.14" y="1517.4" width="6" height="12" fill="#fbfbfb"/>
<rect x="163.18" y="1517.4" width="6" height="12" fill="#fbfbfb"/>
<rect x="72.9" y="1536.2" width="6" height="12" fill="#fbfbfb"/>
<rect x="84.94" y="1536.2" width="6" height="12" fill="#fbfbfb"/>
<rect x="96.98" y="1536.2" width="6" height="12" fill="#fbfbfb"/>
<rect x="109.02" y="1536.2" width="6" height="12" fill="#fbfbfb"/>
<rect x="121.06" y="1536.2" width="6" height="12" fill="#fbfbfb"/>
<rect x="133.1" y="1536.2" width="6" height="12" fill="#fbfbfb"/>
<rect x="145.14" y="1536.2" width="6" height="12" fill="#fbfbfb"/>
<rect x="157.18" y="1536.2" width="6" height="12" fill="#fbfbfb"/>
<rect x="169.22" y="1536.2" width="6" height="12" fill="#fbfbfb"/>
<path d="M41 1184V1550" stroke="#6e72a6" stroke-width="1.2"/>
</g>
<rect x="38.2" y="1182.4" width="524.7" height="369" fill="none" stroke="#000" stroke-width="3.6"/>
<g clip-path="url(#fclip)">
<rect x="724" y="1183" width="524" height="368" fill="url(#dots)"/>
<rect x="926.48" y="1188.2" width="8" height="8" fill="#dcf6f7" stroke="#3a4658" stroke-width="0.7"/>
<rect x="940.5" y="1188.2" width="8" height="8" fill="#dcf6f7" stroke="#3a4658" stroke-width="0.7"/>
<rect x="954.52" y="1188.2" width="8" height="8" fill="#dcf6f7" stroke="#3a4658" stroke-width="0.7"/>
<rect x="968.54" y="1188.2" width="8" height="8" fill="#dcf6f7" stroke="#3a4658" stroke-width="0.7"/>
<rect x="982.56" y="1188.2" width="8" height="8" fill="#dcf6f7" stroke="#3a4658" stroke-width="0.7"/>
<rect x="996.58" y="1188.2" width="8" height="8" fill="#dcf6f7" stroke="#3a4658" stroke-width="0.7"/>
<rect x="1010.6" y="1188.2" width="8" height="8" fill="#dcf6f7" stroke="#3a4658" stroke-width="0.7"/>
<rect x="1024.62" y="1188.2" width="8" height="8" fill="#dcf6f7" stroke="#3a4658" stroke-width="0.7"/>
<rect x="1038.64" y="1188.2" width="8" height="8" fill="#dcf6f7" stroke="#3a4658" stroke-width="0.7"/>
<rect x="1052.66" y="1188.2" width="8" height="8" fill="#dcf6f7" stroke="#3a4658" stroke-width="0.7"/>
<rect x="1066.68" y="1188.2" width="8" height="8" fill="#dcf6f7" stroke="#3a4658" stroke-width="0.7"/>
<rect x="1080.7" y="1188.2" width="8" height="8" fill="#dcf6f7" stroke="#3a4658" stroke-width="0.7"/>
<rect x="1094.72" y="1188.2" width="8" height="8" fill="#dcf6f7" stroke="#3a4658" stroke-width="0.7"/>
<rect x="1108.74" y="1188.2" width="8" height="8" fill="#dcf6f7" stroke="#3a4658" stroke-width="0.7"/>
<rect x="1122.76" y="1188.2" width="8" height="8" fill="#dcf6f7" stroke="#3a4658" stroke-width="0.7"/>
<rect x="1136.78" y="1188.2" width="8" height="8" fill="#dcf6f7" stroke="#3a4658" stroke-width="0.7"/>
<rect x="1150.8" y="1188.2" width="8" height="8" fill="#dcf6f7" stroke="#3a4658" stroke-width="0.7"/>
<rect x="1164.82" y="1188.2" width="8" height="8" fill="#dcf6f7" stroke="#3a4658" stroke-width="0.7"/>
<rect x="1178.84" y="1188.2" width="8" height="8" fill="#dcf6f7" stroke="#3a4658" stroke-width="0.7"/>
<rect x="1192.86" y="1188.2" width="8" height="8" fill="#dcf6f7" stroke="#3a4658" stroke-width="0.7"/>
<rect x="1206.88" y="1188.2" width="8" height="8" fill="#dcf6f7" stroke="#3a4658" stroke-width="0.7"/>
<rect x="1220.9" y="1188.2" width="8" height="8" fill="#dcf6f7" stroke="#3a4658" stroke-width="0.7"/>
<rect x="1234.92" y="1188.2" width="8" height="8" fill="#dcf6f7" stroke="#3a4658" stroke-width="0.7"/>
<rect x="1178.84" y="1202.2" width="8" height="8" fill="#dcf6f7" stroke="#3a4658" stroke-width="0.7"/>
<rect x="1192.86" y="1202.2" width="8" height="8" fill="#dcf6f7" stroke="#3a4658" stroke-width="0.7"/>
<rect x="1206.88" y="1202.2" width="8" height="8" fill="#dcf6f7" stroke="#3a4658" stroke-width="0.7"/>
<rect x="1220.9" y="1202.2" width="8" height="8" fill="#dcf6f7" stroke="#3a4658" stroke-width="0.7"/>
<rect x="1234.92" y="1202.2" width="8" height="8" fill="#dcf6f7" stroke="#3a4658" stroke-width="0.7"/>
<rect x="926.48" y="1202.2" width="8" height="8" fill="#dcf6f7" stroke="#3a4658" stroke-width="0.7"/>
<rect x="940.5" y="1202.2" width="8" height="8" fill="#dcf6f7" stroke="#3a4658" stroke-width="0.7"/>
<rect x="954.52" y="1202.2" width="8" height="8" fill="#dcf6f7" stroke="#3a4658" stroke-width="0.7"/>
<rect x="968.54" y="1202.2" width="8" height="8" fill="#dcf6f7" stroke="#3a4658" stroke-width="0.7"/>
<rect x="982.56" y="1202.2" width="8" height="8" fill="#dcf6f7" stroke="#3a4658" stroke-width="0.7"/>
<rect x="1108.74" y="1202.2" width="8" height="8" fill="#dcf6f7" stroke="#3a4658" stroke-width="0.7"/>
<rect x="1122.76" y="1202.2" width="8" height="8" fill="#dcf6f7" stroke="#3a4658" stroke-width="0.7"/>
<rect x="1136.78" y="1202.2" width="8" height="8" fill="#dcf6f7" stroke="#3a4658" stroke-width="0.7"/>
<rect x="1150.8" y="1202.2" width="8" height="8" fill="#dcf6f7" stroke="#3a4658" stroke-width="0.7"/>
<rect x="1164.82" y="1202.2" width="8" height="8" fill="#dcf6f7" stroke="#3a4658" stroke-width="0.7"/>
<rect x="730.2" y="1216.2" width="8" height="8" fill="#dcf6f7" stroke="#3a4658" stroke-width="0.7"/>
<rect x="744.22" y="1216.2" width="8" height="8" fill="#dcf6f7" stroke="#3a4658" stroke-width="0.7"/>
<rect x="758.24" y="1216.2" width="8" height="8" fill="#dcf6f7" stroke="#3a4658" stroke-width="0.7"/>
<rect x="772.26" y="1216.2" width="8" height="8" fill="#dcf6f7" stroke="#3a4658" stroke-width="0.7"/>
<rect x="786.28" y="1216.2" width="8" height="8" fill="#dcf6f7" stroke="#3a4658" stroke-width="0.7"/>
<rect x="800.3" y="1216.2" width="8" height="8" fill="#dcf6f7" stroke="#3a4658" stroke-width="0.7"/>
<rect x="814.32" y="1216.2" width="8" height="8" fill="#dcf6f7" stroke="#3a4658" stroke-width="0.7"/>
<rect x="828.34" y="1216.2" width="8" height="8" fill="#dcf6f7" stroke="#3a4658" stroke-width="0.7"/>
<rect x="842.36" y="1216.2" width="8" height="8" fill="#dcf6f7" stroke="#3a4658" stroke-width="0.7"/>
<rect x="856.38" y="1216.2" width="8" height="8" fill="#dcf6f7" stroke="#3a4658" stroke-width="0.7"/>
<rect x="870.4" y="1216.2" width="8" height="8" fill="#dcf6f7" stroke="#3a4658" stroke-width="0.7"/>
<rect x="884.42" y="1216.2" width="8" height="8" fill="#dcf6f7" stroke="#3a4658" stroke-width="0.7"/>
<rect x="898.44" y="1216.2" width="8" height="8" fill="#dcf6f7" stroke="#3a4658" stroke-width="0.7"/>
<rect x="912.46" y="1216.2" width="8" height="8" fill="#dcf6f7" stroke="#3a4658" stroke-width="0.7"/>
<rect x="926.48" y="1216.2" width="8" height="8" fill="#dcf6f7" stroke="#3a4658" stroke-width="0.7"/>
<rect x="940.5" y="1216.2" width="8" height="8" fill="#dcf6f7" stroke="#3a4658" stroke-width="0.7"/>
<rect x="954.52" y="1216.2" width="8" height="8" fill="#dcf6f7" stroke="#3a4658" stroke-width="0.7"/>
<rect x="968.54" y="1216.2" width="8" height="8" fill="#dcf6f7" stroke="#3a4658" stroke-width="0.7"/>
<rect x="982.56" y="1216.2" width="8" height="8" fill="#dcf6f7" stroke="#3a4658" stroke-width="0.7"/>
<rect x="1024.62" y="1216.2" width="8" height="8" fill="#dcf6f7" stroke="#3a4658" stroke-width="0.7"/>
<rect x="1038.64" y="1216.2" width="8" height="8" fill="#dcf6f7" stroke="#3a4658" stroke-width="0.7"/>
<rect x="1052.66" y="1216.2" width="8" height="8" fill="#dcf6f7" stroke="#3a4658" stroke-width="0.7"/>
<rect x="1066.68" y="1216.2" width="8" height="8" fill="#dcf6f7" stroke="#3a4658" stroke-width="0.7"/>
<rect x="1108.74" y="1216.2" width="8" height="8" fill="#dcf6f7" stroke="#3a4658" stroke-width="0.7"/>
<rect x="1122.76" y="1216.2" width="8" height="8" fill="#dcf6f7" stroke="#3a4658" stroke-width="0.7"/>
<rect x="1136.78" y="1216.2" width="8" height="8" fill="#dcf6f7" stroke="#3a4658" stroke-width="0.7"/>
<rect x="1150.8" y="1216.2" width="8" height="8" fill="#dcf6f7" stroke="#3a4658" stroke-width="0.7"/>
<rect x="1164.82" y="1216.2" width="8" height="8" fill="#dcf6f7" stroke="#3a4658" stroke-width="0.7"/>
<rect x="1178.84" y="1216.2" width="8" height="8" fill="#dcf6f7" stroke="#3a4658" stroke-width="0.7"/>
<rect x="1192.86" y="1216.2" width="8" height="8" fill="#dcf6f7" stroke="#3a4658" stroke-width="0.7"/>
<rect x="1206.88" y="1216.2" width="8" height="8" fill="#dcf6f7" stroke="#3a4658" stroke-width="0.7"/>
<rect x="1220.9" y="1216.2" width="8" height="8" fill="#dcf6f7" stroke="#3a4658" stroke-width="0.7"/>
<rect x="1234.92" y="1216.2" width="8" height="8" fill="#dcf6f7" stroke="#3a4658" stroke-width="0.7"/>
<rect x="730.2" y="1230.2" width="8" height="8" fill="#dcf6f7" stroke="#3a4658" stroke-width="0.7"/>
<rect x="744.22" y="1230.2" width="8" height="8" fill="#dcf6f7" stroke="#3a4658" stroke-width="0.7"/>
<rect x="758.24" y="1230.2" width="8" height="8" fill="#dcf6f7" stroke="#3a4658" stroke-width="0.7"/>
<rect x="772.26" y="1230.2" width="8" height="8" fill="#dcf6f7" stroke="#3a4658" stroke-width="0.7"/>
<rect x="786.28" y="1230.2" width="8" height="8" fill="#dcf6f7" stroke="#3a4658" stroke-width="0.7"/>
<rect x="800.3" y="1230.2" width="8" height="8" fill="#dcf6f7" stroke="#3a4658" stroke-width="0.7"/>
<rect x="814.32" y="1230.2" width="8" height="8" fill="#dcf6f7" stroke="#3a4658" stroke-width="0.7"/>
<rect x="828.34" y="1230.2" width="8" height="8" fill="#dcf6f7" stroke="#3a4658" stroke-width="0.7"/>
<rect x="842.36" y="1230.2" width="8" height="8" fill="#dcf6f7" stroke="#3a4658" stroke-width="0.7"/>
<rect x="856.38" y="1230.2" width="8" height="8" fill="#dcf6f7" stroke="#3a4658" stroke-width="0.7"/>
<rect x="870.4" y="1230.2" width="8" height="8" fill="#dcf6f7" stroke="#3a4658" stroke-width="0.7"/>
<rect x="884.42" y="1230.2" width="8" height="8" fill="#dcf6f7" stroke="#3a4658" stroke-width="0.7"/>
<rect x="898.44" y="1230.2" width="8" height="8" fill="#dcf6f7" stroke="#3a4658" stroke-width="0.7"/>
<rect x="912.46" y="1230.2" width="8" height="8" fill="#dcf6f7" stroke="#3a4658" stroke-width="0.7"/>
<rect x="926.48" y="1230.2" width="8" height="8" fill="#dcf6f7" stroke="#3a4658" stroke-width="0.7"/>
<rect x="940.5" y="1230.2" width="8" height="8" fill="#dcf6f7" stroke="#3a4658" stroke-width="0.7"/>
<rect x="954.52" y="1230.2" width="8" height="8" fill="#dcf6f7" stroke="#3a4658" stroke-width="0.7"/>
<rect x="968.54" y="1230.2" width="8" height="8" fill="#dcf6f7" stroke="#3a4658" stroke-width="0.7"/>
<rect x="982.56" y="1230.2" width="8" height="8" fill="#dcf6f7" stroke="#3a4658" stroke-width="0.7"/>
<rect x="1024.62" y="1230.2" width="8" height="8" fill="#dcf6f7" stroke="#3a4658" stroke-width="0.7"/>
<rect x="1038.64" y="1230.2" width="8" height="8" fill="#dcf6f7" stroke="#3a4658" stroke-width="0.7"/>
<rect x="1052.66" y="1230.2" width="8" height="8" fill="#dcf6f7" stroke="#3a4658" stroke-width="0.7"/>
<rect x="1066.68" y="1230.2" width="8" height="8" fill="#dcf6f7" stroke="#3a4658" stroke-width="0.7"/>
<rect x="1108.74" y="1230.2" width="8" height="8" fill="#dcf6f7" stroke="#3a4658" stroke-width="0.7"/>
<rect x="1122.76" y="1230.2" width="8" height="8" fill="#dcf6f7" stroke="#3a4658" stroke-width="0.7"/>
<rect x="1136.78" y="1230.2" width="8" height="8" fill="#dcf6f7" stroke="#3a4658" stroke-width="0.7"/>
<rect x="1150.8" y="1230.2" width="8" height="8" fill="#dcf6f7" stroke="#3a4658" stroke-width="0.7"/>
<rect x="1164.82" y="1230.2" width="8" height="8" fill="#dcf6f7" stroke="#3a4658" stroke-width="0.7"/>
<rect x="1178.84" y="1230.2" width="8" height="8" fill="#dcf6f7" stroke="#3a4658" stroke-width="0.7"/>
<rect x="1192.86" y="1230.2" width="8" height="8" fill="#dcf6f7" stroke="#3a4658" stroke-width="0.7"/>
<rect x="1206.88" y="1230.2" width="8" height="8" fill="#dcf6f7" stroke="#3a4658" stroke-width="0.7"/>
<rect x="1220.9" y="1230.2" width="8" height="8" fill="#dcf6f7" stroke="#3a4658" stroke-width="0.7"/>
<rect x="1234.92" y="1230.2" width="8" height="8" fill="#dcf6f7" stroke="#3a4658" stroke-width="0.7"/>
<rect x="772.26" y="1244.2" width="8" height="8" fill="#dcf6f7" stroke="#3a4658" stroke-width="0.7"/>
<rect x="786.28" y="1244.2" width="8" height="8" fill="#dcf6f7" stroke="#3a4658" stroke-width="0.7"/>
<rect x="800.3" y="1244.2" width="8" height="8" fill="#dcf6f7" stroke="#3a4658" stroke-width="0.7"/>
<rect x="814.32" y="1244.2" width="8" height="8" fill="#dcf6f7" stroke="#3a4658" stroke-width="0.7"/>
<rect x="828.34" y="1244.2" width="8" height="8" fill="#dcf6f7" stroke="#3a4658" stroke-width="0.7"/>
<rect x="842.36" y="1244.2" width="8" height="8" fill="#dcf6f7" stroke="#3a4658" stroke-width="0.7"/>
<rect x="856.38" y="1244.2" width="8" height="8" fill="#dcf6f7" stroke="#3a4658" stroke-width="0.7"/>
<rect x="870.4" y="1244.2" width="8" height="8" fill="#dcf6f7" stroke="#3a4658" stroke-width="0.7"/>
<rect x="884.42" y="1244.2" width="8" height="8" fill="#dcf6f7" stroke="#3a4658" stroke-width="0.7"/>
<rect x="898.44" y="1244.2" width="8" height="8" fill="#dcf6f7" stroke="#3a4658" stroke-width="0.7"/>
<rect x="912.46" y="1244.2" width="8" height="8" fill="#dcf6f7" stroke="#3a4658" stroke-width="0.7"/>
<rect x="926.48" y="1244.2" width="8" height="8" fill="#dcf6f7" stroke="#3a4658" stroke-width="0.7"/>
<rect x="940.5" y="1244.2" width="8" height="8" fill="#dcf6f7" stroke="#3a4658" stroke-width="0.7"/>
<rect x="954.52" y="1244.2" width="8" height="8" fill="#dcf6f7" stroke="#3a4658" stroke-width="0.7"/>
<rect x="968.54" y="1244.2" width="8" height="8" fill="#dcf6f7" stroke="#3a4658" stroke-width="0.7"/>
<rect x="982.56" y="1244.2" width="8" height="8" fill="#dcf6f7" stroke="#3a4658" stroke-width="0.7"/>
<rect x="1024.62" y="1244.2" width="8" height="8" fill="#dcf6f7" stroke="#3a4658" stroke-width="0.7"/>
<rect x="1038.64" y="1244.2" width="8" height="8" fill="#dcf6f7" stroke="#3a4658" stroke-width="0.7"/>
<rect x="1052.66" y="1244.2" width="8" height="8" fill="#dcf6f7" stroke="#3a4658" stroke-width="0.7"/>
<rect x="1066.68" y="1244.2" width="8" height="8" fill="#dcf6f7" stroke="#3a4658" stroke-width="0.7"/>
<rect x="1108.74" y="1244.2" width="8" height="8" fill="#dcf6f7" stroke="#3a4658" stroke-width="0.7"/>
<rect x="1122.76" y="1244.2" width="8" height="8" fill="#dcf6f7" stroke="#3a4658" stroke-width="0.7"/>
<rect x="1136.78" y="1244.2" width="8" height="8" fill="#dcf6f7" stroke="#3a4658" stroke-width="0.7"/>
<rect x="1150.8" y="1244.2" width="8" height="8" fill="#dcf6f7" stroke="#3a4658" stroke-width="0.7"/>
<rect x="1164.82" y="1244.2" width="8" height="8" fill="#dcf6f7" stroke="#3a4658" stroke-width="0.7"/>
<rect x="1178.84" y="1244.2" width="8" height="8" fill="#dcf6f7" stroke="#3a4658" stroke-width="0.7"/>
<rect x="1192.86" y="1244.2" width="8" height="8" fill="#dcf6f7" stroke="#3a4658" stroke-width="0.7"/>
<rect x="1206.88" y="1244.2" width="8" height="8" fill="#dcf6f7" stroke="#3a4658" stroke-width="0.7"/>
<rect x="1220.9" y="1244.2" width="8" height="8" fill="#dcf6f7" stroke="#3a4658" stroke-width="0.7"/>
<rect x="1234.92" y="1244.2" width="8" height="8" fill="#dcf6f7" stroke="#3a4658" stroke-width="0.7"/>
<rect x="1178.84" y="1258.2" width="8" height="8" fill="#dcf6f7" stroke="#3a4658" stroke-width="0.7"/>
<rect x="1192.86" y="1258.2" width="8" height="8" fill="#dcf6f7" stroke="#3a4658" stroke-width="0.7"/>
<rect x="1206.88" y="1258.2" width="8" height="8" fill="#dcf6f7" stroke="#3a4658" stroke-width="0.7"/>
<rect x="1220.9" y="1258.2" width="8" height="8" fill="#dcf6f7" stroke="#3a4658" stroke-width="0.7"/>
<rect x="1234.92" y="1258.2" width="8" height="8" fill="#dcf6f7" stroke="#3a4658" stroke-width="0.7"/>
<rect x="982.56" y="1258.2" width="8" height="8" fill="#dcf6f7" stroke="#3a4658" stroke-width="0.7"/>
<rect x="1024.62" y="1258.2" width="8" height="8" fill="#dcf6f7" stroke="#3a4658" stroke-width="0.7"/>
<rect x="1038.64" y="1258.2" width="8" height="8" fill="#dcf6f7" stroke="#3a4658" stroke-width="0.7"/>
<rect x="1052.66" y="1258.2" width="8" height="8" fill="#dcf6f7" stroke="#3a4658" stroke-width="0.7"/>
<rect x="1066.68" y="1258.2" width="8" height="8" fill="#dcf6f7" stroke="#3a4658" stroke-width="0.7"/>
<rect x="1108.74" y="1258.2" width="8" height="8" fill="#dcf6f7" stroke="#3a4658" stroke-width="0.7"/>
<rect x="1122.76" y="1258.2" width="8" height="8" fill="#dcf6f7" stroke="#3a4658" stroke-width="0.7"/>
<rect x="1136.78" y="1258.2" width="8" height="8" fill="#dcf6f7" stroke="#3a4658" stroke-width="0.7"/>
<rect x="1150.8" y="1258.2" width="8" height="8" fill="#dcf6f7" stroke="#3a4658" stroke-width="0.7"/>
<rect x="1164.82" y="1258.2" width="8" height="8" fill="#dcf6f7" stroke="#3a4658" stroke-width="0.7"/>
<rect x="1178.84" y="1272.2" width="8" height="8" fill="#dcf6f7" stroke="#3a4658" stroke-width="0.7"/>
<rect x="1192.86" y="1272.2" width="8" height="8" fill="#dcf6f7" stroke="#3a4658" stroke-width="0.7"/>
<rect x="1206.88" y="1272.2" width="8" height="8" fill="#dcf6f7" stroke="#3a4658" stroke-width="0.7"/>
<rect x="1220.9" y="1272.2" width="8" height="8" fill="#dcf6f7" stroke="#3a4658" stroke-width="0.7"/>
<rect x="1234.92" y="1272.2" width="8" height="8" fill="#dcf6f7" stroke="#3a4658" stroke-width="0.7"/>
<rect x="912.46" y="1272.2" width="8" height="8" fill="#dcf6f7" stroke="#3a4658" stroke-width="0.7"/>
<rect x="926.48" y="1272.2" width="8" height="8" fill="#dcf6f7" stroke="#3a4658" stroke-width="0.7"/>
<rect x="940.5" y="1272.2" width="8" height="8" fill="#dcf6f7" stroke="#3a4658" stroke-width="0.7"/>
<rect x="954.52" y="1272.2" width="8" height="8" fill="#dcf6f7" stroke="#3a4658" stroke-width="0.7"/>
<rect x="1024.62" y="1272.2" width="8" height="8" fill="#dcf6f7" stroke="#3a4658" stroke-width="0.7"/>
<rect x="1038.64" y="1272.2" width="8" height="8" fill="#dcf6f7" stroke="#3a4658" stroke-width="0.7"/>
<rect x="1052.66" y="1272.2" width="8" height="8" fill="#dcf6f7" stroke="#3a4658" stroke-width="0.7"/>
<rect x="1066.68" y="1272.2" width="8" height="8" fill="#dcf6f7" stroke="#3a4658" stroke-width="0.7"/>
<rect x="1122.76" y="1272.2" width="8" height="8" fill="#dcf6f7" stroke="#3a4658" stroke-width="0.7"/>
<rect x="1136.78" y="1272.2" width="8" height="8" fill="#dcf6f7" stroke="#3a4658" stroke-width="0.7"/>
<rect x="1150.8" y="1272.2" width="8" height="8" fill="#dcf6f7" stroke="#3a4658" stroke-width="0.7"/>
<rect x="1164.82" y="1272.2" width="8" height="8" fill="#dcf6f7" stroke="#3a4658" stroke-width="0.7"/>
<rect x="730.2" y="1286.2" width="8" height="8" fill="#dcf6f7" stroke="#3a4658" stroke-width="0.7"/>
<rect x="744.22" y="1286.2" width="8" height="8" fill="#dcf6f7" stroke="#3a4658" stroke-width="0.7"/>
<rect x="758.24" y="1286.2" width="8" height="8" fill="#dcf6f7" stroke="#3a4658" stroke-width="0.7"/>
<rect x="772.26" y="1286.2" width="8" height="8" fill="#dcf6f7" stroke="#3a4658" stroke-width="0.7"/>
<rect x="786.28" y="1286.2" width="8" height="8" fill="#dcf6f7" stroke="#3a4658" stroke-width="0.7"/>
<rect x="800.3" y="1286.2" width="8" height="8" fill="#dcf6f7" stroke="#3a4658" stroke-width="0.7"/>
<rect x="814.32" y="1286.2" width="8" height="8" fill="#dcf6f7" stroke="#3a4658" stroke-width="0.7"/>
<rect x="828.34" y="1286.2" width="8" height="8" fill="#dcf6f7" stroke="#3a4658" stroke-width="0.7"/>
<rect x="842.36" y="1286.2" width="8" height="8" fill="#dcf6f7" stroke="#3a4658" stroke-width="0.7"/>
<rect x="856.38" y="1286.2" width="8" height="8" fill="#dcf6f7" stroke="#3a4658" stroke-width="0.7"/>
<rect x="870.4" y="1286.2" width="8" height="8" fill="#dcf6f7" stroke="#3a4658" stroke-width="0.7"/>
<rect x="884.42" y="1286.2" width="8" height="8" fill="#dcf6f7" stroke="#3a4658" stroke-width="0.7"/>
<rect x="898.44" y="1286.2" width="8" height="8" fill="#dcf6f7" stroke="#3a4658" stroke-width="0.7"/>
<rect x="912.46" y="1286.2" width="8" height="8" fill="#dcf6f7" stroke="#3a4658" stroke-width="0.7"/>
<rect x="1024.62" y="1286.2" width="8" height="8" fill="#dcf6f7" stroke="#3a4658" stroke-width="0.7"/>
<rect x="1038.64" y="1286.2" width="8" height="8" fill="#dcf6f7" stroke="#3a4658" stroke-width="0.7"/>
<rect x="1052.66" y="1286.2" width="8" height="8" fill="#dcf6f7" stroke="#3a4658" stroke-width="0.7"/>
<rect x="1122.76" y="1286.2" width="8" height="8" fill="#dcf6f7" stroke="#3a4658" stroke-width="0.7"/>
<rect x="1136.78" y="1286.2" width="8" height="8" fill="#dcf6f7" stroke="#3a4658" stroke-width="0.7"/>
<rect x="1150.8" y="1286.2" width="8" height="8" fill="#dcf6f7" stroke="#3a4658" stroke-width="0.7"/>
<rect x="1164.82" y="1286.2" width="8" height="8" fill="#dcf6f7" stroke="#3a4658" stroke-width="0.7"/>
<rect x="1178.84" y="1286.2" width="8" height="8" fill="#dcf6f7" stroke="#3a4658" stroke-width="0.7"/>
<rect x="1192.86" y="1286.2" width="8" height="8" fill="#dcf6f7" stroke="#3a4658" stroke-width="0.7"/>
<rect x="1206.88" y="1286.2" width="8" height="8" fill="#dcf6f7" stroke="#3a4658" stroke-width="0.7"/>
<rect x="1220.9" y="1286.2" width="8" height="8" fill="#dcf6f7" stroke="#3a4658" stroke-width="0.7"/>
<rect x="1234.92" y="1286.2" width="8" height="8" fill="#dcf6f7" stroke="#3a4658" stroke-width="0.7"/>
<rect x="730.2" y="1300.2" width="8" height="8" fill="#dcf6f7" stroke="#3a4658" stroke-width="0.7"/>
<rect x="744.22" y="1300.2" width="8" height="8" fill="#dcf6f7" stroke="#3a4658" stroke-width="0.7"/>
<rect x="758.24" y="1300.2" width="8" height="8" fill="#dcf6f7" stroke="#3a4658" stroke-width="0.7"/>
<rect x="772.26" y="1300.2" width="8" height="8" fill="#dcf6f7" stroke="#3a4658" stroke-width="0.7"/>
<rect x="786.28" y="1300.2" width="8" height="8" fill="#dcf6f7" stroke="#3a4658" stroke-width="0.7"/>
<rect x="800.3" y="1300.2" width="8" height="8" fill="#dcf6f7" stroke="#3a4658" stroke-width="0.7"/>
<rect x="814.32" y="1300.2" width="8" height="8" fill="#dcf6f7" stroke="#3a4658" stroke-width="0.7"/>
<rect x="828.34" y="1300.2" width="8" height="8" fill="#dcf6f7" stroke="#3a4658" stroke-width="0.7"/>
<rect x="842.36" y="1300.2" width="8" height="8" fill="#dcf6f7" stroke="#3a4658" stroke-width="0.7"/>
<rect x="856.38" y="1300.2" width="8" height="8" fill="#dcf6f7" stroke="#3a4658" stroke-width="0.7"/>
<rect x="870.4" y="1300.2" width="8" height="8" fill="#dcf6f7" stroke="#3a4658" stroke-width="0.7"/>
<rect x="884.42" y="1300.2" width="8" height="8" fill="#dcf6f7" stroke="#3a4658" stroke-width="0.7"/>
<rect x="898.44" y="1300.2" width="8" height="8" fill="#dcf6f7" stroke="#3a4658" stroke-width="0.7"/>
<rect x="912.46" y="1300.2" width="8" height="8" fill="#dcf6f7" stroke="#3a4658" stroke-width="0.7"/>
<rect x="1024.62" y="1300.2" width="8" height="8" fill="#dcf6f7" stroke="#3a4658" stroke-width="0.7"/>
<rect x="1038.64" y="1300.2" width="8" height="8" fill="#dcf6f7" stroke="#3a4658" stroke-width="0.7"/>
<rect x="1080.7" y="1300.2" width="8" height="8" fill="#dcf6f7" stroke="#3a4658" stroke-width="0.7"/>
<rect x="1094.72" y="1300.2" width="8" height="8" fill="#dcf6f7" stroke="#3a4658" stroke-width="0.7"/>
<rect x="730.2" y="1314.2" width="8" height="8" fill="#dcf6f7" stroke="#3a4658" stroke-width="0.7"/>
<rect x="744.22" y="1314.2" width="8" height="8" fill="#dcf6f7" stroke="#3a4658" stroke-width="0.7"/>
<rect x="758.24" y="1314.2" width="8" height="8" fill="#dcf6f7" stroke="#3a4658" stroke-width="0.7"/>
<rect x="772.26" y="1314.2" width="8" height="8" fill="#dcf6f7" stroke="#3a4658" stroke-width="0.7"/>
<rect x="1024.62" y="1314.2" width="8" height="8" fill="#dcf6f7" stroke="#3a4658" stroke-width="0.7"/>
<rect x="1038.64" y="1314.2" width="8" height="8" fill="#dcf6f7" stroke="#3a4658" stroke-width="0.7"/>
<rect x="1080.7" y="1314.2" width="8" height="8" fill="#dcf6f7" stroke="#3a4658" stroke-width="0.7"/>
<rect x="1094.72" y="1314.2" width="8" height="8" fill="#dcf6f7" stroke="#3a4658" stroke-width="0.7"/>
<rect x="1080.7" y="1328.2" width="8" height="8" fill="#dcf6f7" stroke="#3a4658" stroke-width="0.7"/>
<rect x="1094.72" y="1328.2" width="8" height="8" fill="#dcf6f7" stroke="#3a4658" stroke-width="0.7"/>
<rect x="1024.62" y="1328.2" width="8" height="8" fill="#dcf6f7" stroke="#3a4658" stroke-width="0.7"/>
<rect x="1038.64" y="1328.2" width="8" height="8" fill="#dcf6f7" stroke="#3a4658" stroke-width="0.7"/>
<rect x="730.2" y="1342.2" width="8" height="8" fill="#dcf6f7" stroke="#3a4658" stroke-width="0.7"/>
<rect x="744.22" y="1342.2" width="8" height="8" fill="#dcf6f7" stroke="#3a4658" stroke-width="0.7"/>
<rect x="758.24" y="1342.2" width="8" height="8" fill="#dcf6f7" stroke="#3a4658" stroke-width="0.7"/>
<rect x="1178.84" y="1342.2" width="8" height="8" fill="#dcf6f7" stroke="#3a4658" stroke-width="0.7"/>
<rect x="1192.86" y="1342.2" width="8" height="8" fill="#dcf6f7" stroke="#3a4658" stroke-width="0.7"/>
<rect x="1206.88" y="1342.2" width="8" height="8" fill="#dcf6f7" stroke="#3a4658" stroke-width="0.7"/>
<rect x="1220.9" y="1342.2" width="8" height="8" fill="#dcf6f7" stroke="#3a4658" stroke-width="0.7"/>
<rect x="1234.92" y="1342.2" width="8" height="8" fill="#dcf6f7" stroke="#3a4658" stroke-width="0.7"/>
<rect x="1024.62" y="1342.2" width="8" height="8" fill="#dcf6f7" stroke="#3a4658" stroke-width="0.7"/>
<rect x="1038.64" y="1342.2" width="8" height="8" fill="#dcf6f7" stroke="#3a4658" stroke-width="0.7"/>
<rect x="1052.66" y="1342.2" width="8" height="8" fill="#dcf6f7" stroke="#3a4658" stroke-width="0.7"/>
<rect x="1080.7" y="1342.2" width="8" height="8" fill="#dcf6f7" stroke="#3a4658" stroke-width="0.7"/>
<rect x="1094.72" y="1342.2" width="8" height="8" fill="#dcf6f7" stroke="#3a4658" stroke-width="0.7"/>
<rect x="1122.76" y="1342.2" width="8" height="8" fill="#dcf6f7" stroke="#3a4658" stroke-width="0.7"/>
<rect x="1136.78" y="1342.2" width="8" height="8" fill="#dcf6f7" stroke="#3a4658" stroke-width="0.7"/>
<rect x="1150.8" y="1342.2" width="8" height="8" fill="#dcf6f7" stroke="#3a4658" stroke-width="0.7"/>
<rect x="1164.82" y="1342.2" width="8" height="8" fill="#dcf6f7" stroke="#3a4658" stroke-width="0.7"/>
<rect x="730.2" y="1356.2" width="8" height="8" fill="#dcf6f7" stroke="#3a4658" stroke-width="0.7"/>
<rect x="744.22" y="1356.2" width="8" height="8" fill="#dcf6f7" stroke="#3a4658" stroke-width="0.7"/>
<rect x="758.24" y="1356.2" width="8" height="8" fill="#dcf6f7" stroke="#3a4658" stroke-width="0.7"/>
<rect x="772.26" y="1356.2" width="8" height="8" fill="#dcf6f7" stroke="#3a4658" stroke-width="0.7"/>
<rect x="786.28" y="1356.2" width="8" height="8" fill="#dcf6f7" stroke="#3a4658" stroke-width="0.7"/>
<rect x="800.3" y="1356.2" width="8" height="8" fill="#dcf6f7" stroke="#3a4658" stroke-width="0.7"/>
<rect x="814.32" y="1356.2" width="8" height="8" fill="#dcf6f7" stroke="#3a4658" stroke-width="0.7"/>
<rect x="828.34" y="1356.2" width="8" height="8" fill="#dcf6f7" stroke="#3a4658" stroke-width="0.7"/>
<rect x="842.36" y="1356.2" width="8" height="8" fill="#dcf6f7" stroke="#3a4658" stroke-width="0.7"/>
<rect x="856.38" y="1356.2" width="8" height="8" fill="#dcf6f7" stroke="#3a4658" stroke-width="0.7"/>
<rect x="870.4" y="1356.2" width="8" height="8" fill="#dcf6f7" stroke="#3a4658" stroke-width="0.7"/>
<rect x="884.42" y="1356.2" width="8" height="8" fill="#dcf6f7" stroke="#3a4658" stroke-width="0.7"/>
<rect x="898.44" y="1356.2" width="8" height="8" fill="#dcf6f7" stroke="#3a4658" stroke-width="0.7"/>
<rect x="912.46" y="1356.2" width="8" height="8" fill="#dcf6f7" stroke="#3a4658" stroke-width="0.7"/>
<rect x="1024.62" y="1356.2" width="8" height="8" fill="#dcf6f7" stroke="#3a4658" stroke-width="0.7"/>
<rect x="1038.64" y="1356.2" width="8" height="8" fill="#dcf6f7" stroke="#3a4658" stroke-width="0.7"/>
<rect x="1052.66" y="1356.2" width="8" height="8" fill="#dcf6f7" stroke="#3a4658" stroke-width="0.7"/>
<rect x="1080.7" y="1356.2" width="8" height="8" fill="#dcf6f7" stroke="#3a4658" stroke-width="0.7"/>
<rect x="1094.72" y="1356.2" width="8" height="8" fill="#dcf6f7" stroke="#3a4658" stroke-width="0.7"/>
<rect x="1122.76" y="1356.2" width="8" height="8" fill="#dcf6f7" stroke="#3a4658" stroke-width="0.7"/>
<rect x="1136.78" y="1356.2" width="8" height="8" fill="#dcf6f7" stroke="#3a4658" stroke-width="0.7"/>
<rect x="1150.8" y="1356.2" width="8" height="8" fill="#dcf6f7" stroke="#3a4658" stroke-width="0.7"/>
<rect x="1164.82" y="1356.2" width="8" height="8" fill="#dcf6f7" stroke="#3a4658" stroke-width="0.7"/>
<rect x="1178.84" y="1356.2" width="8" height="8" fill="#dcf6f7" stroke="#3a4658" stroke-width="0.7"/>
<rect x="1192.86" y="1356.2" width="8" height="8" fill="#dcf6f7" stroke="#3a4658" stroke-width="0.7"/>
<rect x="1206.88" y="1356.2" width="8" height="8" fill="#dcf6f7" stroke="#3a4658" stroke-width="0.7"/>
<rect x="1220.9" y="1356.2" width="8" height="8" fill="#dcf6f7" stroke="#3a4658" stroke-width="0.7"/>
<rect x="1234.92" y="1356.2" width="8" height="8" fill="#dcf6f7" stroke="#3a4658" stroke-width="0.7"/>
<rect x="730.2" y="1370.2" width="8" height="8" fill="#dcf6f7" stroke="#3a4658" stroke-width="0.7"/>
<rect x="744.22" y="1370.2" width="8" height="8" fill="#dcf6f7" stroke="#3a4658" stroke-width="0.7"/>
<rect x="758.24" y="1370.2" width="8" height="8" fill="#dcf6f7" stroke="#3a4658" stroke-width="0.7"/>
<rect x="772.26" y="1370.2" width="8" height="8" fill="#dcf6f7" stroke="#3a4658" stroke-width="0.7"/>
<rect x="786.28" y="1370.2" width="8" height="8" fill="#dcf6f7" stroke="#3a4658" stroke-width="0.7"/>
<rect x="800.3" y="1370.2" width="8" height="8" fill="#dcf6f7" stroke="#3a4658" stroke-width="0.7"/>
<rect x="814.32" y="1370.2" width="8" height="8" fill="#dcf6f7" stroke="#3a4658" stroke-width="0.7"/>
<rect x="828.34" y="1370.2" width="8" height="8" fill="#dcf6f7" stroke="#3a4658" stroke-width="0.7"/>
<rect x="842.36" y="1370.2" width="8" height="8" fill="#dcf6f7" stroke="#3a4658" stroke-width="0.7"/>
<rect x="856.38" y="1370.2" width="8" height="8" fill="#dcf6f7" stroke="#3a4658" stroke-width="0.7"/>
<rect x="870.4" y="1370.2" width="8" height="8" fill="#dcf6f7" stroke="#3a4658" stroke-width="0.7"/>
<rect x="884.42" y="1370.2" width="8" height="8" fill="#dcf6f7" stroke="#3a4658" stroke-width="0.7"/>
<rect x="898.44" y="1370.2" width="8" height="8" fill="#dcf6f7" stroke="#3a4658" stroke-width="0.7"/>
<rect x="912.46" y="1370.2" width="8" height="8" fill="#dcf6f7" stroke="#3a4658" stroke-width="0.7"/>
<rect x="1024.62" y="1370.2" width="8" height="8" fill="#dcf6f7" stroke="#3a4658" stroke-width="0.7"/>
<rect x="1038.64" y="1370.2" width="8" height="8" fill="#dcf6f7" stroke="#3a4658" stroke-width="0.7"/>
<rect x="1052.66" y="1370.2" width="8" height="8" fill="#dcf6f7" stroke="#3a4658" stroke-width="0.7"/>
<rect x="1080.7" y="1370.2" width="8" height="8" fill="#dcf6f7" stroke="#3a4658" stroke-width="0.7"/>
<rect x="1094.72" y="1370.2" width="8" height="8" fill="#dcf6f7" stroke="#3a4658" stroke-width="0.7"/>
<rect x="1122.76" y="1370.2" width="8" height="8" fill="#dcf6f7" stroke="#3a4658" stroke-width="0.7"/>
<rect x="1136.78" y="1370.2" width="8" height="8" fill="#dcf6f7" stroke="#3a4658" stroke-width="0.7"/>
<rect x="1150.8" y="1370.2" width="8" height="8" fill="#dcf6f7" stroke="#3a4658" stroke-width="0.7"/>
<rect x="1164.82" y="1370.2" width="8" height="8" fill="#dcf6f7" stroke="#3a4658" stroke-width="0.7"/>
<rect x="1178.84" y="1370.2" width="8" height="8" fill="#dcf6f7" stroke="#3a4658" stroke-width="0.7"/>
<rect x="1192.86" y="1370.2" width="8" height="8" fill="#dcf6f7" stroke="#3a4658" stroke-width="0.7"/>
<rect x="1206.88" y="1370.2" width="8" height="8" fill="#dcf6f7" stroke="#3a4658" stroke-width="0.7"/>
<rect x="1220.9" y="1370.2" width="8" height="8" fill="#dcf6f7" stroke="#3a4658" stroke-width="0.7"/>
<rect x="1234.92" y="1370.2" width="8" height="8" fill="#dcf6f7" stroke="#3a4658" stroke-width="0.7"/>
<rect x="1178.84" y="1384.2" width="8" height="8" fill="#dcf6f7" stroke="#3a4658" stroke-width="0.7"/>
<rect x="1192.86" y="1384.2" width="8" height="8" fill="#dcf6f7" stroke="#3a4658" stroke-width="0.7"/>
<rect x="1206.88" y="1384.2" width="8" height="8" fill="#dcf6f7" stroke="#3a4658" stroke-width="0.7"/>
<rect x="1220.9" y="1384.2" width="8" height="8" fill="#dcf6f7" stroke="#3a4658" stroke-width="0.7"/>
<rect x="1234.92" y="1384.2" width="8" height="8" fill="#dcf6f7" stroke="#3a4658" stroke-width="0.7"/>
<rect x="912.46" y="1384.2" width="8" height="8" fill="#dcf6f7" stroke="#3a4658" stroke-width="0.7"/>
<rect x="1024.62" y="1384.2" width="8" height="8" fill="#dcf6f7" stroke="#3a4658" stroke-width="0.7"/>
<rect x="1038.64" y="1384.2" width="8" height="8" fill="#dcf6f7" stroke="#3a4658" stroke-width="0.7"/>
<rect x="1080.7" y="1384.2" width="8" height="8" fill="#dcf6f7" stroke="#3a4658" stroke-width="0.7"/>
<rect x="1094.72" y="1384.2" width="8" height="8" fill="#dcf6f7" stroke="#3a4658" stroke-width="0.7"/>
<rect x="1122.76" y="1384.2" width="8" height="8" fill="#dcf6f7" stroke="#3a4658" stroke-width="0.7"/>
<rect x="1136.78" y="1384.2" width="8" height="8" fill="#dcf6f7" stroke="#3a4658" stroke-width="0.7"/>
<rect x="1150.8" y="1384.2" width="8" height="8" fill="#dcf6f7" stroke="#3a4658" stroke-width="0.7"/>
<rect x="1164.82" y="1384.2" width="8" height="8" fill="#dcf6f7" stroke="#3a4658" stroke-width="0.7"/>
<rect x="1178.84" y="1398.2" width="8" height="8" fill="#dcf6f7" stroke="#3a4658" stroke-width="0.7"/>
<rect x="1192.86" y="1398.2" width="8" height="8" fill="#dcf6f7" stroke="#3a4658" stroke-width="0.7"/>
<rect x="1206.88" y="1398.2" width="8" height="8" fill="#dcf6f7" stroke="#3a4658" stroke-width="0.7"/>
<rect x="1220.9" y="1398.2" width="8" height="8" fill="#dcf6f7" stroke="#3a4658" stroke-width="0.7"/>
<rect x="1234.92" y="1398.2" width="8" height="8" fill="#dcf6f7" stroke="#3a4658" stroke-width="0.7"/>
<rect x="1024.62" y="1398.2" width="8" height="8" fill="#dcf6f7" stroke="#3a4658" stroke-width="0.7"/>
<rect x="1038.64" y="1398.2" width="8" height="8" fill="#dcf6f7" stroke="#3a4658" stroke-width="0.7"/>
<rect x="1080.7" y="1398.2" width="8" height="8" fill="#dcf6f7" stroke="#3a4658" stroke-width="0.7"/>
<rect x="1094.72" y="1398.2" width="8" height="8" fill="#dcf6f7" stroke="#3a4658" stroke-width="0.7"/>
<rect x="1122.76" y="1398.2" width="8" height="8" fill="#dcf6f7" stroke="#3a4658" stroke-width="0.7"/>
<rect x="1136.78" y="1398.2" width="8" height="8" fill="#dcf6f7" stroke="#3a4658" stroke-width="0.7"/>
<rect x="1150.8" y="1398.2" width="8" height="8" fill="#dcf6f7" stroke="#3a4658" stroke-width="0.7"/>
<rect x="1164.82" y="1398.2" width="8" height="8" fill="#dcf6f7" stroke="#3a4658" stroke-width="0.7"/>
<rect x="800.3" y="1412.2" width="8" height="8" fill="#dcf6f7" stroke="#3a4658" stroke-width="0.7"/>
<rect x="814.32" y="1412.2" width="8" height="8" fill="#dcf6f7" stroke="#3a4658" stroke-width="0.7"/>
<rect x="828.34" y="1412.2" width="8" height="8" fill="#dcf6f7" stroke="#3a4658" stroke-width="0.7"/>
<rect x="842.36" y="1412.2" width="8" height="8" fill="#dcf6f7" stroke="#3a4658" stroke-width="0.7"/>
<rect x="856.38" y="1412.2" width="8" height="8" fill="#dcf6f7" stroke="#3a4658" stroke-width="0.7"/>
<rect x="870.4" y="1412.2" width="8" height="8" fill="#dcf6f7" stroke="#3a4658" stroke-width="0.7"/>
<rect x="884.42" y="1412.2" width="8" height="8" fill="#dcf6f7" stroke="#3a4658" stroke-width="0.7"/>
<rect x="898.44" y="1412.2" width="8" height="8" fill="#dcf6f7" stroke="#3a4658" stroke-width="0.7"/>
<rect x="912.46" y="1412.2" width="8" height="8" fill="#dcf6f7" stroke="#3a4658" stroke-width="0.7"/>
<rect x="926.48" y="1412.2" width="8" height="8" fill="#dcf6f7" stroke="#3a4658" stroke-width="0.7"/>
<rect x="940.5" y="1412.2" width="8" height="8" fill="#dcf6f7" stroke="#3a4658" stroke-width="0.7"/>
<rect x="954.52" y="1412.2" width="8" height="8" fill="#dcf6f7" stroke="#3a4658" stroke-width="0.7"/>
<rect x="968.54" y="1412.2" width="8" height="8" fill="#dcf6f7" stroke="#3a4658" stroke-width="0.7"/>
<rect x="982.56" y="1412.2" width="8" height="8" fill="#dcf6f7" stroke="#3a4658" stroke-width="0.7"/>
<rect x="996.58" y="1412.2" width="8" height="8" fill="#dcf6f7" stroke="#3a4658" stroke-width="0.7"/>
<rect x="1010.6" y="1412.2" width="8" height="8" fill="#dcf6f7" stroke="#3a4658" stroke-width="0.7"/>
<rect x="1024.62" y="1412.2" width="8" height="8" fill="#dcf6f7" stroke="#3a4658" stroke-width="0.7"/>
<rect x="1080.7" y="1412.2" width="8" height="8" fill="#dcf6f7" stroke="#3a4658" stroke-width="0.7"/>
<rect x="1094.72" y="1412.2" width="8" height="8" fill="#dcf6f7" stroke="#3a4658" stroke-width="0.7"/>
<rect x="1122.76" y="1412.2" width="8" height="8" fill="#dcf6f7" stroke="#3a4658" stroke-width="0.7"/>
<rect x="1136.78" y="1412.2" width="8" height="8" fill="#dcf6f7" stroke="#3a4658" stroke-width="0.7"/>
<rect x="1150.8" y="1412.2" width="8" height="8" fill="#dcf6f7" stroke="#3a4658" stroke-width="0.7"/>
<rect x="1164.82" y="1412.2" width="8" height="8" fill="#dcf6f7" stroke="#3a4658" stroke-width="0.7"/>
<rect x="1178.84" y="1412.2" width="8" height="8" fill="#dcf6f7" stroke="#3a4658" stroke-width="0.7"/>
<rect x="1192.86" y="1412.2" width="8" height="8" fill="#dcf6f7" stroke="#3a4658" stroke-width="0.7"/>
<rect x="1206.88" y="1412.2" width="8" height="8" fill="#dcf6f7" stroke="#3a4658" stroke-width="0.7"/>
<rect x="1220.9" y="1412.2" width="8" height="8" fill="#dcf6f7" stroke="#3a4658" stroke-width="0.7"/>
<rect x="1234.92" y="1412.2" width="8" height="8" fill="#dcf6f7" stroke="#3a4658" stroke-width="0.7"/>
<rect x="730.2" y="1426.2" width="8" height="8" fill="#dcf6f7" stroke="#3a4658" stroke-width="0.7"/>
<rect x="744.22" y="1426.2" width="8" height="8" fill="#dcf6f7" stroke="#3a4658" stroke-width="0.7"/>
<rect x="758.24" y="1426.2" width="8" height="8" fill="#dcf6f7" stroke="#3a4658" stroke-width="0.7"/>
<rect x="772.26" y="1426.2" width="8" height="8" fill="#dcf6f7" stroke="#3a4658" stroke-width="0.7"/>
<rect x="786.28" y="1426.2" width="8" height="8" fill="#dcf6f7" stroke="#3a4658" stroke-width="0.7"/>
<rect x="800.3" y="1426.2" width="8" height="8" fill="#dcf6f7" stroke="#3a4658" stroke-width="0.7"/>
<rect x="814.32" y="1426.2" width="8" height="8" fill="#dcf6f7" stroke="#3a4658" stroke-width="0.7"/>
<rect x="828.34" y="1426.2" width="8" height="8" fill="#dcf6f7" stroke="#3a4658" stroke-width="0.7"/>
<rect x="842.36" y="1426.2" width="8" height="8" fill="#dcf6f7" stroke="#3a4658" stroke-width="0.7"/>
<rect x="856.38" y="1426.2" width="8" height="8" fill="#dcf6f7" stroke="#3a4658" stroke-width="0.7"/>
<rect x="870.4" y="1426.2" width="8" height="8" fill="#dcf6f7" stroke="#3a4658" stroke-width="0.7"/>
<rect x="884.42" y="1426.2" width="8" height="8" fill="#dcf6f7" stroke="#3a4658" stroke-width="0.7"/>
<rect x="898.44" y="1426.2" width="8" height="8" fill="#dcf6f7" stroke="#3a4658" stroke-width="0.7"/>
<rect x="912.46" y="1426.2" width="8" height="8" fill="#dcf6f7" stroke="#3a4658" stroke-width="0.7"/>
<rect x="926.48" y="1426.2" width="8" height="8" fill="#dcf6f7" stroke="#3a4658" stroke-width="0.7"/>
<rect x="940.5" y="1426.2" width="8" height="8" fill="#dcf6f7" stroke="#3a4658" stroke-width="0.7"/>
<rect x="954.52" y="1426.2" width="8" height="8" fill="#dcf6f7" stroke="#3a4658" stroke-width="0.7"/>
<rect x="968.54" y="1426.2" width="8" height="8" fill="#dcf6f7" stroke="#3a4658" stroke-width="0.7"/>
<rect x="982.56" y="1426.2" width="8" height="8" fill="#dcf6f7" stroke="#3a4658" stroke-width="0.7"/>
<rect x="996.58" y="1426.2" width="8" height="8" fill="#dcf6f7" stroke="#3a4658" stroke-width="0.7"/>
<rect x="1010.6" y="1426.2" width="8" height="8" fill="#dcf6f7" stroke="#3a4658" stroke-width="0.7"/>
<rect x="1024.62" y="1426.2" width="8" height="8" fill="#dcf6f7" stroke="#3a4658" stroke-width="0.7"/>
<rect x="1066.68" y="1426.2" width="8" height="8" fill="#dcf6f7" stroke="#3a4658" stroke-width="0.7"/>
<rect x="1080.7" y="1426.2" width="8" height="8" fill="#dcf6f7" stroke="#3a4658" stroke-width="0.7"/>
<rect x="1094.72" y="1426.2" width="8" height="8" fill="#dcf6f7" stroke="#3a4658" stroke-width="0.7"/>
<rect x="1122.76" y="1426.2" width="8" height="8" fill="#dcf6f7" stroke="#3a4658" stroke-width="0.7"/>
<rect x="1136.78" y="1426.2" width="8" height="8" fill="#dcf6f7" stroke="#3a4658" stroke-width="0.7"/>
<rect x="1150.8" y="1426.2" width="8" height="8" fill="#dcf6f7" stroke="#3a4658" stroke-width="0.7"/>
<rect x="1164.82" y="1426.2" width="8" height="8" fill="#dcf6f7" stroke="#3a4658" stroke-width="0.7"/>
<rect x="1178.84" y="1426.2" width="8" height="8" fill="#dcf6f7" stroke="#3a4658" stroke-width="0.7"/>
<rect x="1192.86" y="1426.2" width="8" height="8" fill="#dcf6f7" stroke="#3a4658" stroke-width="0.7"/>
<rect x="1206.88" y="1426.2" width="8" height="8" fill="#dcf6f7" stroke="#3a4658" stroke-width="0.7"/>
<rect x="1220.9" y="1426.2" width="8" height="8" fill="#dcf6f7" stroke="#3a4658" stroke-width="0.7"/>
<rect x="1234.92" y="1426.2" width="8" height="8" fill="#dcf6f7" stroke="#3a4658" stroke-width="0.7"/>
<rect x="730.2" y="1440.2" width="8" height="8" fill="#dcf6f7" stroke="#3a4658" stroke-width="0.7"/>
<rect x="744.22" y="1440.2" width="8" height="8" fill="#dcf6f7" stroke="#3a4658" stroke-width="0.7"/>
<rect x="758.24" y="1440.2" width="8" height="8" fill="#dcf6f7" stroke="#3a4658" stroke-width="0.7"/>
<rect x="772.26" y="1440.2" width="8" height="8" fill="#dcf6f7" stroke="#3a4658" stroke-width="0.7"/>
<rect x="786.28" y="1440.2" width="8" height="8" fill="#dcf6f7" stroke="#3a4658" stroke-width="0.7"/>
<rect x="800.3" y="1440.2" width="8" height="8" fill="#dcf6f7" stroke="#3a4658" stroke-width="0.7"/>
<rect x="814.32" y="1440.2" width="8" height="8" fill="#dcf6f7" stroke="#3a4658" stroke-width="0.7"/>
<rect x="828.34" y="1440.2" width="8" height="8" fill="#dcf6f7" stroke="#3a4658" stroke-width="0.7"/>
<rect x="842.36" y="1440.2" width="8" height="8" fill="#dcf6f7" stroke="#3a4658" stroke-width="0.7"/>
<rect x="856.38" y="1440.2" width="8" height="8" fill="#dcf6f7" stroke="#3a4658" stroke-width="0.7"/>
<rect x="870.4" y="1440.2" width="8" height="8" fill="#dcf6f7" stroke="#3a4658" stroke-width="0.7"/>
<rect x="884.42" y="1440.2" width="8" height="8" fill="#dcf6f7" stroke="#3a4658" stroke-width="0.7"/>
<rect x="898.44" y="1440.2" width="8" height="8" fill="#dcf6f7" stroke="#3a4658" stroke-width="0.7"/>
<rect x="912.46" y="1440.2" width="8" height="8" fill="#dcf6f7" stroke="#3a4658" stroke-width="0.7"/>
<rect x="926.48" y="1440.2" width="8" height="8" fill="#dcf6f7" stroke="#3a4658" stroke-width="0.7"/>
<rect x="940.5" y="1440.2" width="8" height="8" fill="#dcf6f7" stroke="#3a4658" stroke-width="0.7"/>
<rect x="954.52" y="1440.2" width="8" height="8" fill="#dcf6f7" stroke="#3a4658" stroke-width="0.7"/>
<rect x="968.54" y="1440.2" width="8" height="8" fill="#dcf6f7" stroke="#3a4658" stroke-width="0.7"/>
<rect x="982.56" y="1440.2" width="8" height="8" fill="#dcf6f7" stroke="#3a4658" stroke-width="0.7"/>
<rect x="996.58" y="1440.2" width="8" height="8" fill="#dcf6f7" stroke="#3a4658" stroke-width="0.7"/>
<rect x="1010.6" y="1440.2" width="8" height="8" fill="#dcf6f7" stroke="#3a4658" stroke-width="0.7"/>
<rect x="1024.62" y="1440.2" width="8" height="8" fill="#dcf6f7" stroke="#3a4658" stroke-width="0.7"/>
<rect x="1080.7" y="1440.2" width="8" height="8" fill="#dcf6f7" stroke="#3a4658" stroke-width="0.7"/>
<rect x="1094.72" y="1440.2" width="8" height="8" fill="#dcf6f7" stroke="#3a4658" stroke-width="0.7"/>
<rect x="1122.76" y="1440.2" width="8" height="8" fill="#dcf6f7" stroke="#3a4658" stroke-width="0.7"/>
<rect x="1136.78" y="1440.2" width="8" height="8" fill="#dcf6f7" stroke="#3a4658" stroke-width="0.7"/>
<rect x="1150.8" y="1440.2" width="8" height="8" fill="#dcf6f7" stroke="#3a4658" stroke-width="0.7"/>
<rect x="1164.82" y="1440.2" width="8" height="8" fill="#dcf6f7" stroke="#3a4658" stroke-width="0.7"/>
<rect x="1178.84" y="1440.2" width="8" height="8" fill="#dcf6f7" stroke="#3a4658" stroke-width="0.7"/>
<rect x="1192.86" y="1440.2" width="8" height="8" fill="#dcf6f7" stroke="#3a4658" stroke-width="0.7"/>
<rect x="1206.88" y="1440.2" width="8" height="8" fill="#dcf6f7" stroke="#3a4658" stroke-width="0.7"/>
<rect x="1220.9" y="1440.2" width="8" height="8" fill="#dcf6f7" stroke="#3a4658" stroke-width="0.7"/>
<rect x="1234.92" y="1440.2" width="8" height="8" fill="#dcf6f7" stroke="#3a4658" stroke-width="0.7"/>
<rect x="926.48" y="1454.2" width="8" height="8" fill="#dcf6f7" stroke="#3a4658" stroke-width="0.7"/>
<rect x="940.5" y="1454.2" width="8" height="8" fill="#dcf6f7" stroke="#3a4658" stroke-width="0.7"/>
<rect x="954.52" y="1454.2" width="8" height="8" fill="#dcf6f7" stroke="#3a4658" stroke-width="0.7"/>
<rect x="968.54" y="1454.2" width="8" height="8" fill="#dcf6f7" stroke="#3a4658" stroke-width="0.7"/>
<rect x="982.56" y="1454.2" width="8" height="8" fill="#dcf6f7" stroke="#3a4658" stroke-width="0.7"/>
<rect x="996.58" y="1454.2" width="8" height="8" fill="#dcf6f7" stroke="#3a4658" stroke-width="0.7"/>
<rect x="1010.6" y="1454.2" width="8" height="8" fill="#dcf6f7" stroke="#3a4658" stroke-width="0.7"/>
<rect x="1024.62" y="1454.2" width="8" height="8" fill="#dcf6f7" stroke="#3a4658" stroke-width="0.7"/>
<rect x="1038.64" y="1454.2" width="8" height="8" fill="#dcf6f7" stroke="#3a4658" stroke-width="0.7"/>
<rect x="1052.66" y="1454.2" width="8" height="8" fill="#dcf6f7" stroke="#3a4658" stroke-width="0.7"/>
<rect x="1122.76" y="1454.2" width="8" height="8" fill="#dcf6f7" stroke="#3a4658" stroke-width="0.7"/>
<rect x="1136.78" y="1454.2" width="8" height="8" fill="#dcf6f7" stroke="#3a4658" stroke-width="0.7"/>
<rect x="1150.8" y="1454.2" width="8" height="8" fill="#dcf6f7" stroke="#3a4658" stroke-width="0.7"/>
<rect x="1164.82" y="1454.2" width="8" height="8" fill="#dcf6f7" stroke="#3a4658" stroke-width="0.7"/>
<rect x="1178.84" y="1454.2" width="8" height="8" fill="#dcf6f7" stroke="#3a4658" stroke-width="0.7"/>
<rect x="1192.86" y="1454.2" width="8" height="8" fill="#dcf6f7" stroke="#3a4658" stroke-width="0.7"/>
<rect x="1206.88" y="1454.2" width="8" height="8" fill="#dcf6f7" stroke="#3a4658" stroke-width="0.7"/>
<rect x="1220.9" y="1454.2" width="8" height="8" fill="#dcf6f7" stroke="#3a4658" stroke-width="0.7"/>
<rect x="1234.92" y="1454.2" width="8" height="8" fill="#dcf6f7" stroke="#3a4658" stroke-width="0.7"/>
<rect x="926.48" y="1468.2" width="8" height="8" fill="#dcf6f7" stroke="#3a4658" stroke-width="0.7"/>
<rect x="940.5" y="1468.2" width="8" height="8" fill="#dcf6f7" stroke="#3a4658" stroke-width="0.7"/>
<rect x="954.52" y="1468.2" width="8" height="8" fill="#dcf6f7" stroke="#3a4658" stroke-width="0.7"/>
<rect x="968.54" y="1468.2" width="8" height="8" fill="#dcf6f7" stroke="#3a4658" stroke-width="0.7"/>
<rect x="982.56" y="1468.2" width="8" height="8" fill="#dcf6f7" stroke="#3a4658" stroke-width="0.7"/>
<rect x="996.58" y="1468.2" width="8" height="8" fill="#dcf6f7" stroke="#3a4658" stroke-width="0.7"/>
<rect x="1010.6" y="1468.2" width="8" height="8" fill="#dcf6f7" stroke="#3a4658" stroke-width="0.7"/>
<rect x="1024.62" y="1468.2" width="8" height="8" fill="#dcf6f7" stroke="#3a4658" stroke-width="0.7"/>
<rect x="1038.64" y="1468.2" width="8" height="8" fill="#dcf6f7" stroke="#3a4658" stroke-width="0.7"/>
<rect x="1052.66" y="1468.2" width="8" height="8" fill="#dcf6f7" stroke="#3a4658" stroke-width="0.7"/>
<rect x="1122.76" y="1468.2" width="8" height="8" fill="#dcf6f7" stroke="#3a4658" stroke-width="0.7"/>
<rect x="1136.78" y="1468.2" width="8" height="8" fill="#dcf6f7" stroke="#3a4658" stroke-width="0.7"/>
<rect x="1150.8" y="1468.2" width="8" height="8" fill="#dcf6f7" stroke="#3a4658" stroke-width="0.7"/>
<rect x="1164.82" y="1468.2" width="8" height="8" fill="#dcf6f7" stroke="#3a4658" stroke-width="0.7"/>
<rect x="1178.84" y="1468.2" width="8" height="8" fill="#dcf6f7" stroke="#3a4658" stroke-width="0.7"/>
<rect x="1192.86" y="1468.2" width="8" height="8" fill="#dcf6f7" stroke="#3a4658" stroke-width="0.7"/>
<rect x="1206.88" y="1468.2" width="8" height="8" fill="#dcf6f7" stroke="#3a4658" stroke-width="0.7"/>
<rect x="1220.9" y="1468.2" width="8" height="8" fill="#dcf6f7" stroke="#3a4658" stroke-width="0.7"/>
<rect x="1234.92" y="1468.2" width="8" height="8" fill="#dcf6f7" stroke="#3a4658" stroke-width="0.7"/>
<rect x="730.2" y="1482.2" width="8" height="8" fill="#dcf6f7" stroke="#3a4658" stroke-width="0.7"/>
<rect x="744.22" y="1482.2" width="8" height="8" fill="#dcf6f7" stroke="#3a4658" stroke-width="0.7"/>
<rect x="758.24" y="1482.2" width="8" height="8" fill="#dcf6f7" stroke="#3a4658" stroke-width="0.7"/>
<rect x="772.26" y="1482.2" width="8" height="8" fill="#dcf6f7" stroke="#3a4658" stroke-width="0.7"/>
<rect x="786.28" y="1482.2" width="8" height="8" fill="#dcf6f7" stroke="#3a4658" stroke-width="0.7"/>
<rect x="800.3" y="1482.2" width="8" height="8" fill="#dcf6f7" stroke="#3a4658" stroke-width="0.7"/>
<rect x="814.32" y="1482.2" width="8" height="8" fill="#dcf6f7" stroke="#3a4658" stroke-width="0.7"/>
<rect x="828.34" y="1482.2" width="8" height="8" fill="#dcf6f7" stroke="#3a4658" stroke-width="0.7"/>
<rect x="842.36" y="1482.2" width="8" height="8" fill="#dcf6f7" stroke="#3a4658" stroke-width="0.7"/>
<rect x="856.38" y="1482.2" width="8" height="8" fill="#dcf6f7" stroke="#3a4658" stroke-width="0.7"/>
<rect x="870.4" y="1482.2" width="8" height="8" fill="#dcf6f7" stroke="#3a4658" stroke-width="0.7"/>
<rect x="926.48" y="1482.2" width="8" height="8" fill="#dcf6f7" stroke="#3a4658" stroke-width="0.7"/>
<rect x="940.5" y="1482.2" width="8" height="8" fill="#dcf6f7" stroke="#3a4658" stroke-width="0.7"/>
<rect x="954.52" y="1482.2" width="8" height="8" fill="#dcf6f7" stroke="#3a4658" stroke-width="0.7"/>
<rect x="968.54" y="1482.2" width="8" height="8" fill="#dcf6f7" stroke="#3a4658" stroke-width="0.7"/>
<rect x="982.56" y="1482.2" width="8" height="8" fill="#dcf6f7" stroke="#3a4658" stroke-width="0.7"/>
<rect x="996.58" y="1482.2" width="8" height="8" fill="#dcf6f7" stroke="#3a4658" stroke-width="0.7"/>
<rect x="1010.6" y="1482.2" width="8" height="8" fill="#dcf6f7" stroke="#3a4658" stroke-width="0.7"/>
<rect x="1024.62" y="1482.2" width="8" height="8" fill="#dcf6f7" stroke="#3a4658" stroke-width="0.7"/>
<rect x="1038.64" y="1482.2" width="8" height="8" fill="#dcf6f7" stroke="#3a4658" stroke-width="0.7"/>
<rect x="1052.66" y="1482.2" width="8" height="8" fill="#dcf6f7" stroke="#3a4658" stroke-width="0.7"/>
<rect x="1066.68" y="1482.2" width="8" height="8" fill="#dcf6f7" stroke="#3a4658" stroke-width="0.7"/>
<rect x="1108.74" y="1482.2" width="8" height="8" fill="#dcf6f7" stroke="#3a4658" stroke-width="0.7"/>
<rect x="1122.76" y="1482.2" width="8" height="8" fill="#dcf6f7" stroke="#3a4658" stroke-width="0.7"/>
<rect x="1136.78" y="1482.2" width="8" height="8" fill="#dcf6f7" stroke="#3a4658" stroke-width="0.7"/>
<rect x="1150.8" y="1482.2" width="8" height="8" fill="#dcf6f7" stroke="#3a4658" stroke-width="0.7"/>
<rect x="1164.82" y="1482.2" width="8" height="8" fill="#dcf6f7" stroke="#3a4658" stroke-width="0.7"/>
<rect x="1178.84" y="1482.2" width="8" height="8" fill="#dcf6f7" stroke="#3a4658" stroke-width="0.7"/>
<rect x="1192.86" y="1482.2" width="8" height="8" fill="#dcf6f7" stroke="#3a4658" stroke-width="0.7"/>
<rect x="1206.88" y="1482.2" width="8" height="8" fill="#dcf6f7" stroke="#3a4658" stroke-width="0.7"/>
<rect x="1220.9" y="1482.2" width="8" height="8" fill="#dcf6f7" stroke="#3a4658" stroke-width="0.7"/>
<rect x="1234.92" y="1482.2" width="8" height="8" fill="#dcf6f7" stroke="#3a4658" stroke-width="0.7"/>
<rect x="730.2" y="1496.2" width="8" height="8" fill="#dcf6f7" stroke="#3a4658" stroke-width="0.7"/>
<rect x="744.22" y="1496.2" width="8" height="8" fill="#dcf6f7" stroke="#3a4658" stroke-width="0.7"/>
<rect x="758.24" y="1496.2" width="8" height="8" fill="#dcf6f7" stroke="#3a4658" stroke-width="0.7"/>
<rect x="772.26" y="1496.2" width="8" height="8" fill="#dcf6f7" stroke="#3a4658" stroke-width="0.7"/>
<rect x="786.28" y="1496.2" width="8" height="8" fill="#dcf6f7" stroke="#3a4658" stroke-width="0.7"/>
<rect x="800.3" y="1496.2" width="8" height="8" fill="#dcf6f7" stroke="#3a4658" stroke-width="0.7"/>
<rect x="814.32" y="1496.2" width="8" height="8" fill="#dcf6f7" stroke="#3a4658" stroke-width="0.7"/>
<rect x="828.34" y="1496.2" width="8" height="8" fill="#dcf6f7" stroke="#3a4658" stroke-width="0.7"/>
<rect x="842.36" y="1496.2" width="8" height="8" fill="#dcf6f7" stroke="#3a4658" stroke-width="0.7"/>
<rect x="856.38" y="1496.2" width="8" height="8" fill="#dcf6f7" stroke="#3a4658" stroke-width="0.7"/>
<rect x="870.4" y="1496.2" width="8" height="8" fill="#dcf6f7" stroke="#3a4658" stroke-width="0.7"/>
<rect x="884.42" y="1496.2" width="8" height="8" fill="#dcf6f7" stroke="#3a4658" stroke-width="0.7"/>
<rect x="898.44" y="1496.2" width="8" height="8" fill="#dcf6f7" stroke="#3a4658" stroke-width="0.7"/>
<rect x="912.46" y="1496.2" width="8" height="8" fill="#dcf6f7" stroke="#3a4658" stroke-width="0.7"/>
<rect x="926.48" y="1496.2" width="8" height="8" fill="#dcf6f7" stroke="#3a4658" stroke-width="0.7"/>
<rect x="940.5" y="1496.2" width="8" height="8" fill="#dcf6f7" stroke="#3a4658" stroke-width="0.7"/>
<rect x="954.52" y="1496.2" width="8" height="8" fill="#dcf6f7" stroke="#3a4658" stroke-width="0.7"/>
<rect x="968.54" y="1496.2" width="8" height="8" fill="#dcf6f7" stroke="#3a4658" stroke-width="0.7"/>
<rect x="982.56" y="1496.2" width="8" height="8" fill="#dcf6f7" stroke="#3a4658" stroke-width="0.7"/>
<rect x="996.58" y="1496.2" width="8" height="8" fill="#dcf6f7" stroke="#3a4658" stroke-width="0.7"/>
<rect x="1010.6" y="1496.2" width="8" height="8" fill="#dcf6f7" stroke="#3a4658" stroke-width="0.7"/>
<rect x="1024.62" y="1496.2" width="8" height="8" fill="#dcf6f7" stroke="#3a4658" stroke-width="0.7"/>
<rect x="1038.64" y="1496.2" width="8" height="8" fill="#dcf6f7" stroke="#3a4658" stroke-width="0.7"/>
<rect x="1052.66" y="1496.2" width="8" height="8" fill="#dcf6f7" stroke="#3a4658" stroke-width="0.7"/>
<rect x="1066.68" y="1496.2" width="8" height="8" fill="#dcf6f7" stroke="#3a4658" stroke-width="0.7"/>
<rect x="1108.74" y="1496.2" width="8" height="8" fill="#dcf6f7" stroke="#3a4658" stroke-width="0.7"/>
<rect x="1122.76" y="1496.2" width="8" height="8" fill="#dcf6f7" stroke="#3a4658" stroke-width="0.7"/>
<rect x="1136.78" y="1496.2" width="8" height="8" fill="#dcf6f7" stroke="#3a4658" stroke-width="0.7"/>
<rect x="1150.8" y="1496.2" width="8" height="8" fill="#dcf6f7" stroke="#3a4658" stroke-width="0.7"/>
<rect x="1164.82" y="1496.2" width="8" height="8" fill="#dcf6f7" stroke="#3a4658" stroke-width="0.7"/>
<rect x="1178.84" y="1496.2" width="8" height="8" fill="#dcf6f7" stroke="#3a4658" stroke-width="0.7"/>
<rect x="1192.86" y="1496.2" width="8" height="8" fill="#dcf6f7" stroke="#3a4658" stroke-width="0.7"/>
<rect x="1206.88" y="1496.2" width="8" height="8" fill="#dcf6f7" stroke="#3a4658" stroke-width="0.7"/>
<rect x="1220.9" y="1496.2" width="8" height="8" fill="#dcf6f7" stroke="#3a4658" stroke-width="0.7"/>
<rect x="1234.92" y="1496.2" width="8" height="8" fill="#dcf6f7" stroke="#3a4658" stroke-width="0.7"/>
<rect x="730.2" y="1510.2" width="8" height="8" fill="#dcf6f7" stroke="#3a4658" stroke-width="0.7"/>
<rect x="744.22" y="1510.2" width="8" height="8" fill="#dcf6f7" stroke="#3a4658" stroke-width="0.7"/>
<rect x="758.24" y="1510.2" width="8" height="8" fill="#dcf6f7" stroke="#3a4658" stroke-width="0.7"/>
<rect x="772.26" y="1510.2" width="8" height="8" fill="#dcf6f7" stroke="#3a4658" stroke-width="0.7"/>
<rect x="786.28" y="1510.2" width="8" height="8" fill="#dcf6f7" stroke="#3a4658" stroke-width="0.7"/>
<rect x="800.3" y="1510.2" width="8" height="8" fill="#dcf6f7" stroke="#3a4658" stroke-width="0.7"/>
<rect x="814.32" y="1510.2" width="8" height="8" fill="#dcf6f7" stroke="#3a4658" stroke-width="0.7"/>
<rect x="828.34" y="1510.2" width="8" height="8" fill="#dcf6f7" stroke="#3a4658" stroke-width="0.7"/>
<rect x="842.36" y="1510.2" width="8" height="8" fill="#dcf6f7" stroke="#3a4658" stroke-width="0.7"/>
<rect x="856.38" y="1510.2" width="8" height="8" fill="#dcf6f7" stroke="#3a4658" stroke-width="0.7"/>
<rect x="870.4" y="1510.2" width="8" height="8" fill="#dcf6f7" stroke="#3a4658" stroke-width="0.7"/>
<rect x="884.42" y="1510.2" width="8" height="8" fill="#dcf6f7" stroke="#3a4658" stroke-width="0.7"/>
<rect x="898.44" y="1510.2" width="8" height="8" fill="#dcf6f7" stroke="#3a4658" stroke-width="0.7"/>
<rect x="912.46" y="1510.2" width="8" height="8" fill="#dcf6f7" stroke="#3a4658" stroke-width="0.7"/>
<rect x="926.48" y="1510.2" width="8" height="8" fill="#dcf6f7" stroke="#3a4658" stroke-width="0.7"/>
<rect x="940.5" y="1510.2" width="8" height="8" fill="#dcf6f7" stroke="#3a4658" stroke-width="0.7"/>
<rect x="954.52" y="1510.2" width="8" height="8" fill="#dcf6f7" stroke="#3a4658" stroke-width="0.7"/>
<rect x="968.54" y="1510.2" width="8" height="8" fill="#dcf6f7" stroke="#3a4658" stroke-width="0.7"/>
<rect x="982.56" y="1510.2" width="8" height="8" fill="#dcf6f7" stroke="#3a4658" stroke-width="0.7"/>
<rect x="996.58" y="1510.2" width="8" height="8" fill="#dcf6f7" stroke="#3a4658" stroke-width="0.7"/>
<rect x="1010.6" y="1510.2" width="8" height="8" fill="#dcf6f7" stroke="#3a4658" stroke-width="0.7"/>
<rect x="1024.62" y="1510.2" width="8" height="8" fill="#dcf6f7" stroke="#3a4658" stroke-width="0.7"/>
<rect x="1038.64" y="1510.2" width="8" height="8" fill="#dcf6f7" stroke="#3a4658" stroke-width="0.7"/>
<rect x="1052.66" y="1510.2" width="8" height="8" fill="#dcf6f7" stroke="#3a4658" stroke-width="0.7"/>
<rect x="1066.68" y="1510.2" width="8" height="8" fill="#dcf6f7" stroke="#3a4658" stroke-width="0.7"/>
<rect x="1108.74" y="1510.2" width="8" height="8" fill="#dcf6f7" stroke="#3a4658" stroke-width="0.7"/>
<rect x="1122.76" y="1510.2" width="8" height="8" fill="#dcf6f7" stroke="#3a4658" stroke-width="0.7"/>
<rect x="1136.78" y="1510.2" width="8" height="8" fill="#dcf6f7" stroke="#3a4658" stroke-width="0.7"/>
<rect x="1150.8" y="1510.2" width="8" height="8" fill="#dcf6f7" stroke="#3a4658" stroke-width="0.7"/>
<rect x="1164.82" y="1510.2" width="8" height="8" fill="#dcf6f7" stroke="#3a4658" stroke-width="0.7"/>
<rect x="1178.84" y="1510.2" width="8" height="8" fill="#dcf6f7" stroke="#3a4658" stroke-width="0.7"/>
<rect x="1192.86" y="1510.2" width="8" height="8" fill="#dcf6f7" stroke="#3a4658" stroke-width="0.7"/>
<rect x="1206.88" y="1510.2" width="8" height="8" fill="#dcf6f7" stroke="#3a4658" stroke-width="0.7"/>
<rect x="1220.9" y="1510.2" width="8" height="8" fill="#dcf6f7" stroke="#3a4658" stroke-width="0.7"/>
<rect x="1234.92" y="1510.2" width="8" height="8" fill="#dcf6f7" stroke="#3a4658" stroke-width="0.7"/>
<rect x="1178.84" y="1524.2" width="8" height="8" fill="#dcf6f7" stroke="#3a4658" stroke-width="0.7"/>
<rect x="1192.86" y="1524.2" width="8" height="8" fill="#dcf6f7" stroke="#3a4658" stroke-width="0.7"/>
<rect x="1206.88" y="1524.2" width="8" height="8" fill="#dcf6f7" stroke="#3a4658" stroke-width="0.7"/>
<rect x="1220.9" y="1524.2" width="8" height="8" fill="#dcf6f7" stroke="#3a4658" stroke-width="0.7"/>
<rect x="1234.92" y="1524.2" width="8" height="8" fill="#dcf6f7" stroke="#3a4658" stroke-width="0.7"/>
<rect x="1108.74" y="1524.2" width="8" height="8" fill="#dcf6f7" stroke="#3a4658" stroke-width="0.7"/>
<rect x="1122.76" y="1524.2" width="8" height="8" fill="#dcf6f7" stroke="#3a4658" stroke-width="0.7"/>
<rect x="1136.78" y="1524.2" width="8" height="8" fill="#dcf6f7" stroke="#3a4658" stroke-width="0.7"/>
<rect x="1150.8" y="1524.2" width="8" height="8" fill="#dcf6f7" stroke="#3a4658" stroke-width="0.7"/>
<rect x="1164.82" y="1524.2" width="8" height="8" fill="#dcf6f7" stroke="#3a4658" stroke-width="0.7"/>
<rect x="1178.84" y="1538.2" width="8" height="8" fill="#dcf6f7" stroke="#3a4658" stroke-width="0.7"/>
<rect x="1192.86" y="1538.2" width="8" height="8" fill="#dcf6f7" stroke="#3a4658" stroke-width="0.7"/>
<rect x="1206.88" y="1538.2" width="8" height="8" fill="#dcf6f7" stroke="#3a4658" stroke-width="0.7"/>
<rect x="1220.9" y="1538.2" width="8" height="8" fill="#dcf6f7" stroke="#3a4658" stroke-width="0.7"/>
<rect x="1234.92" y="1538.2" width="8" height="8" fill="#dcf6f7" stroke="#3a4658" stroke-width="0.7"/>
<rect x="1108.74" y="1538.2" width="8" height="8" fill="#dcf6f7" stroke="#3a4658" stroke-width="0.7"/>
<rect x="1122.76" y="1538.2" width="8" height="8" fill="#dcf6f7" stroke="#3a4658" stroke-width="0.7"/>
<rect x="1136.78" y="1538.2" width="8" height="8" fill="#dcf6f7" stroke="#3a4658" stroke-width="0.7"/>
<rect x="1150.8" y="1538.2" width="8" height="8" fill="#dcf6f7" stroke="#3a4658" stroke-width="0.7"/>
<rect x="1164.82" y="1538.2" width="8" height="8" fill="#dcf6f7" stroke="#3a4658" stroke-width="0.7"/>
<path d="M724 1187.1L883 1184.1V1181.7H918.4V1212.9H883V1210.5L724 1207.5Z" fill="#757aab"/>
<path d="M729 1197.3L889.2 1191.3V1203.3Z" fill="#a7a0d6"/>
<rect x="889.2" y="1190.65" width="22.6" height="13.3" fill="#4e6164"/>
<path d="M724 1249.1H760.6V1251.9L918 1256.6V1272.6L760.6 1277.6V1280.1H724Z" fill="#757aab"/>
<path d="M753.9 1258.3L912 1264.6L753.9 1270.9Z" fill="#a7a0d6"/>
<rect x="731.9" y="1257.95" width="22" height="13.3" fill="#4e6164"/>
<path d="M724 1322.3L883 1319.3V1316.9H918.4V1348.1H883V1345.7L724 1342.7Z" fill="#757aab"/>
<path d="M729 1332.5L889.2 1326.5V1338.5Z" fill="#a7a0d6"/>
<rect x="889.2" y="1325.85" width="22.6" height="13.3" fill="#4e6164"/>
<path d="M724 1384.5H760.6V1387.3L918 1392V1408L760.6 1413V1415.5H724Z" fill="#757aab"/>
<path d="M753.9 1393.7L912 1400L753.9 1406.3Z" fill="#a7a0d6"/>
<rect x="731.9" y="1393.35" width="22" height="13.3" fill="#4e6164"/>
<path d="M724 1457.8L883 1454.8V1452.4H918.4V1483.6H883V1481.2L724 1478.2Z" fill="#757aab"/>
<path d="M729 1468L889.2 1462V1474Z" fill="#a7a0d6"/>
<rect x="889.2" y="1461.35" width="22.6" height="13.3" fill="#4e6164"/>
<path d="M724 1520H760.6V1522.8L918 1527.5V1543.5L760.6 1548.5V1551H724Z" fill="#757aab"/>
<path d="M753.9 1529.2L912 1535.5L753.9 1541.8Z" fill="#a7a0d6"/>
<rect x="731.9" y="1528.85" width="22" height="13.3" fill="#4e6164"/>
<path d="M905 1264H968Q976 1264 976 1272V1393Q976 1400 968 1400H905" fill="none" stroke="#757aab" stroke-width="14" stroke-linejoin="round"/>
<path d="M905 1400H998Q1006 1400 1006 1392V1217Q1006 1209 1014 1209H1084Q1092 1209 1092 1217V1280" fill="none" stroke="#757aab" stroke-width="14" stroke-linejoin="round"/>
<path d="M1092 1276Q1092 1291 1080 1291Q1070 1291 1070 1301V1410Q1070 1420 1060 1420H1056Q1049 1420 1049 1427V1431Q1049 1438 1056 1438H1060Q1070 1438 1070 1448V1455Q1070 1468 1092 1468" fill="none" stroke="#757aab" stroke-width="14" stroke-linejoin="round"/>
<path d="M1092 1276Q1092 1291 1104 1291Q1114 1291 1114 1301V1305Q1114 1313 1122 1313H1230Q1240 1313 1240 1323.5Q1240 1334 1230 1334H1125Q1117 1334 1117 1342V1455Q1117 1468 1092 1468" fill="none" stroke="#757aab" stroke-width="14" stroke-linejoin="round"/>
<path d="M1092 1468V1526Q1092 1535 1083 1535H905" fill="none" stroke="#757aab" stroke-width="14" stroke-linejoin="round"/>
<path d="M905 1264H968Q976 1264 976 1272V1393Q976 1400 968 1400H905" fill="none" stroke="#5f6590" stroke-width="0.9"/>
<path d="M905 1400H998Q1006 1400 1006 1392V1217Q1006 1209 1014 1209H1084Q1092 1209 1092 1217V1280" fill="none" stroke="#5f6590" stroke-width="0.9"/>
<path d="M1092 1276Q1092 1291 1080 1291Q1070 1291 1070 1301V1410Q1070 1420 1060 1420H1056Q1049 1420 1049 1427V1431Q1049 1438 1056 1438H1060Q1070 1438 1070 1448V1455Q1070 1468 1092 1468" fill="none" stroke="#5f6590" stroke-width="0.9"/>
<path d="M1092 1276Q1092 1291 1104 1291Q1114 1291 1114 1301V1305Q1114 1313 1122 1313H1230Q1240 1313 1240 1323.5Q1240 1334 1230 1334H1125Q1117 1334 1117 1342V1455Q1117 1468 1092 1468" fill="none" stroke="#5f6590" stroke-width="0.9"/>
<path d="M1092 1468V1526Q1092 1535 1083 1535H905" fill="none" stroke="#5f6590" stroke-width="0.9"/>
<rect x="930" y="1281.5" width="46" height="101" fill="#757aab"/>
<rect x="931.5" y="1282" width="21.5" height="100.5" fill="#6d71a3" stroke="#4e6a9a" stroke-width="1"/>
<text transform="translate(956.4 1291.2) rotate(90) scale(1 1.1)" style="font-family:'Liberation Mono',monospace" font-size="19.3" fill="#c8eef0">W = 480</text>
<text transform="translate(935 1288.6) rotate(90) scale(1 1.1)" style="font-family:'Liberation Mono',monospace" font-size="19.3" fill="#c8eef0">DL = 200</text>
<text x="766" y="1275" font-size="26.5" font-weight="bold" fill="#ffffff">GC ref</text>
<text x="766" y="1407.5" font-size="26.5" font-weight="bold" fill="#ffffff">GC in</text>
<text x="766" y="1544" font-size="26.5" font-weight="bold" fill="#ffffff">GC out</text>
</g>
<rect x="723.3" y="1182.65" width="524.95" height="369.45" fill="none" stroke="#000" stroke-width="3.2"/>
<rect x="317.5" y="1417.2" width="26.3" height="34.5" fill="none" stroke="#000" stroke-width="2"/>
<line x1="343.5" y1="1417.5" x2="722.5" y2="1181.5" stroke="#000" stroke-width="3"/>
<line x1="343.5" y1="1451.5" x2="722.5" y2="1551" stroke="#000" stroke-width="3"/>
</svg></body></html>
